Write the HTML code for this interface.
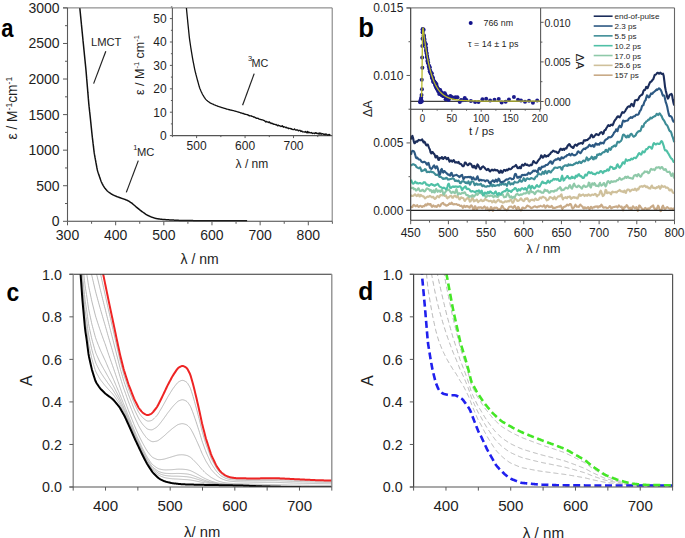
<!DOCTYPE html>
<html><head><meta charset="utf-8"><style>
html,body{margin:0;padding:0;background:#fff;}
svg{display:block;font-family:"Liberation Sans", sans-serif;}
</style></head><body>
<svg width="685" height="538" viewBox="0 0 685 538">
<rect width="685" height="538" fill="#fff"/>
<clipPath id="ca"><rect x="60" y="7.9" width="280" height="220"/></clipPath>
<path d="M79.26,1.63 L79.28,1.85 L79.3,2.11 L79.32,2.4 L79.35,2.72 L79.38,3.07 L79.41,3.44 L79.45,3.81 L79.48,4.2 L79.52,4.59 L79.55,4.99 L79.59,5.38 L79.62,5.78 L79.66,6.18 L79.69,6.58 L79.73,6.98 L79.77,7.37 L79.8,7.77 L79.84,8.17 L79.88,8.57 L79.92,8.97 L79.96,9.37 L79.99,9.76 L80.03,10.16 L80.07,10.56 L80.11,10.96 L80.15,11.36 L80.19,11.75 L80.23,12.15 L80.27,12.55 L80.31,12.95 L80.35,13.35 L80.39,13.74 L80.43,14.14 L80.46,14.54 L80.5,14.94 L80.54,15.34 L80.58,15.74 L80.62,16.13 L80.66,16.53 L80.7,16.93 L80.74,17.33 L80.78,17.73 L80.82,18.12 L80.86,18.52 L80.9,18.92 L80.94,19.32 L80.97,19.72 L81.01,20.11 L81.05,20.51 L81.09,20.91 L81.13,21.31 L81.17,21.71 L81.21,22.1 L81.25,22.5 L81.29,22.9 L81.33,23.3 L81.37,23.7 L81.41,24.09 L81.45,24.49 L81.48,24.89 L81.52,25.29 L81.56,25.69 L81.6,26.09 L81.64,26.48 L81.68,26.88 L81.72,27.28 L81.76,27.68 L81.8,28.08 L81.84,28.47 L81.88,28.87 L81.92,29.27 L81.96,29.67 L81.99,30.07 L82.03,30.46 L82.07,30.86 L82.11,31.26 L82.15,31.66 L82.19,32.06 L82.23,32.45 L82.27,32.85 L82.31,33.25 L82.35,33.65 L82.39,34.05 L82.43,34.44 L82.47,34.84 L82.5,35.24 L82.54,35.64 L82.58,36.04 L82.62,36.43 L82.66,36.83 L82.7,37.23 L82.74,37.63 L82.78,38.03 L82.82,38.43 L82.86,38.82 L82.9,39.22 L82.94,39.62 L82.98,40.02 L83.01,40.42 L83.05,40.81 L83.09,41.21 L83.13,41.61 L83.17,42.01 L83.21,42.41 L83.25,42.8 L83.29,43.2 L83.33,43.6 L83.37,44 L83.41,44.4 L83.45,44.79 L83.49,45.19 L83.53,45.59 L83.57,45.99 L83.61,46.39 L83.65,46.78 L83.69,47.18 L83.73,47.58 L83.77,47.98 L83.81,48.38 L83.85,48.77 L83.89,49.17 L83.93,49.57 L83.97,49.97 L84.01,50.37 L84.05,50.76 L84.09,51.16 L84.13,51.56 L84.17,51.96 L84.21,52.36 L84.25,52.75 L84.29,53.15 L84.33,53.55 L84.36,53.95 L84.4,54.35 L84.44,54.74 L84.48,55.14 L84.52,55.54 L84.56,55.94 L84.6,56.34 L84.64,56.73 L84.68,57.13 L84.72,57.53 L84.76,57.93 L84.8,58.33 L84.84,58.72 L84.88,59.12 L84.92,59.52 L84.96,59.92 L85,60.32 L85.04,60.71 L85.08,61.11 L85.12,61.51 L85.16,61.91 L85.2,62.31 L85.24,62.7 L85.28,63.1 L85.32,63.5 L85.36,63.9 L85.4,64.3 L85.44,64.69 L85.48,65.09 L85.52,65.49 L85.56,65.89 L85.6,66.29 L85.64,66.68 L85.68,67.08 L85.72,67.48 L85.76,67.88 L85.8,68.28 L85.84,68.68 L85.87,69.07 L85.91,69.47 L85.95,69.87 L85.99,70.27 L86.02,70.67 L86.06,71.06 L86.09,71.46 L86.13,71.86 L86.16,72.26 L86.2,72.66 L86.23,73.06 L86.26,73.46 L86.3,73.85 L86.33,74.25 L86.36,74.65 L86.4,75.05 L86.43,75.45 L86.46,75.85 L86.5,76.25 L86.53,76.64 L86.56,77.04 L86.6,77.44 L86.63,77.84 L86.66,78.24 L86.69,78.64 L86.73,79.04 L86.76,79.44 L86.79,79.83 L86.83,80.23 L86.86,80.63 L86.89,81.03 L86.93,81.43 L86.96,81.83 L86.99,82.23 L87.03,82.62 L87.06,83.02 L87.09,83.42 L87.13,83.82 L87.16,84.22 L87.19,84.62 L87.23,85.02 L87.26,85.41 L87.29,85.81 L87.33,86.21 L87.36,86.61 L87.39,87.01 L87.43,87.41 L87.46,87.81 L87.49,88.2 L87.53,88.6 L87.56,89 L87.59,89.4 L87.62,89.8 L87.66,90.2 L87.69,90.6 L87.72,91 L87.76,91.39 L87.79,91.79 L87.82,92.19 L87.86,92.59 L87.89,92.99 L87.92,93.39 L87.96,93.79 L87.99,94.18 L88.02,94.58 L88.06,94.98 L88.09,95.38 L88.12,95.78 L88.16,96.18 L88.19,96.58 L88.22,96.97 L88.26,97.37 L88.29,97.77 L88.32,98.17 L88.36,98.57 L88.39,98.97 L88.42,99.37 L88.46,99.76 L88.49,100.16 L88.52,100.56 L88.56,100.96 L88.59,101.36 L88.62,101.76 L88.66,102.16 L88.69,102.55 L88.73,102.95 L88.76,103.35 L88.8,103.75 L88.84,104.15 L88.88,104.55 L88.92,104.94 L88.96,105.34 L89,105.74 L89.05,106.14 L89.09,106.53 L89.13,106.93 L89.18,107.33 L89.22,107.73 L89.26,108.13 L89.31,108.52 L89.35,108.92 L89.39,109.32 L89.44,109.72 L89.48,110.11 L89.52,110.51 L89.57,110.91 L89.61,111.31 L89.65,111.7 L89.7,112.1 L89.74,112.5 L89.79,112.9 L89.83,113.29 L89.87,113.69 L89.92,114.09 L89.96,114.49 L90,114.88 L90.05,115.28 L90.09,115.68 L90.13,116.08 L90.18,116.48 L90.22,116.87 L90.26,117.27 L90.3,117.67 L90.34,118.07 L90.39,118.46 L90.43,118.86 L90.47,119.26 L90.51,119.66 L90.55,120.06 L90.59,120.45 L90.63,120.85 L90.67,121.25 L90.71,121.65 L90.75,122.05 L90.8,122.44 L90.84,122.84 L90.88,123.24 L90.92,123.64 L90.96,124.03 L91,124.43 L91.04,124.83 L91.08,125.23 L91.12,125.63 L91.16,126.02 L91.2,126.42 L91.24,126.82 L91.28,127.22 L91.32,127.62 L91.37,128.01 L91.41,128.41 L91.45,128.81 L91.49,129.21 L91.53,129.61 L91.57,130 L91.61,130.4 L91.65,130.8 L91.69,131.2 L91.73,131.6 L91.77,131.99 L91.81,132.39 L91.85,132.79 L91.9,133.19 L91.94,133.58 L91.98,133.98 L92.02,134.38 L92.06,134.78 L92.11,135.18 L92.15,135.57 L92.2,135.97 L92.24,136.37 L92.29,136.77 L92.33,137.16 L92.38,137.56 L92.43,137.96 L92.47,138.35 L92.52,138.75 L92.57,139.15 L92.62,139.55 L92.66,139.94 L92.71,140.34 L92.76,140.74 L92.8,141.14 L92.85,141.53 L92.9,141.93 L92.95,142.33 L92.99,142.72 L93.04,143.12 L93.09,143.52 L93.13,143.92 L93.18,144.31 L93.23,144.71 L93.28,145.11 L93.32,145.5 L93.37,145.9 L93.42,146.3 L93.46,146.7 L93.51,147.09 L93.56,147.49 L93.61,147.89 L93.65,148.28 L93.7,148.68 L93.75,149.08 L93.79,149.48 L93.84,149.87 L93.89,150.27 L93.94,150.67 L93.99,151.06 L94.04,151.46 L94.09,151.86 L94.15,152.25 L94.2,152.65 L94.26,153.04 L94.32,153.44 L94.39,153.83 L94.45,154.23 L94.52,154.62 L94.59,155.02 L94.66,155.41 L94.73,155.8 L94.8,156.2 L94.87,156.59 L94.94,156.99 L95.01,157.38 L95.09,157.77 L95.16,158.17 L95.23,158.56 L95.3,158.95 L95.37,159.35 L95.44,159.74 L95.52,160.13 L95.59,160.53 L95.66,160.92 L95.73,161.31 L95.8,161.71 L95.87,162.1 L95.94,162.5 L96.02,162.89 L96.09,163.28 L96.16,163.68 L96.23,164.07 L96.3,164.46 L96.37,164.86 L96.45,165.25 L96.52,165.64 L96.59,166.04 L96.66,166.43 L96.73,166.82 L96.8,167.22 L96.88,167.61 L96.95,168 L97.03,168.4 L97.11,168.79 L97.19,169.18 L97.27,169.57 L97.36,169.96 L97.46,170.34 L97.56,170.73 L97.67,171.11 L97.78,171.5 L97.9,171.88 L98.02,172.26 L98.14,172.64 L98.27,173.02 L98.39,173.4 L98.52,173.78 L98.65,174.16 L98.78,174.53 L98.91,174.91 L99.04,175.29 L99.17,175.67 L99.3,176.05 L99.43,176.43 L99.55,176.81 L99.68,177.18 L99.81,177.56 L99.94,177.94 L100.07,178.32 L100.2,178.7 L100.33,179.08 L100.46,179.45 L100.59,179.83 L100.73,180.21 L100.86,180.59 L101,180.96 L101.14,181.33 L101.29,181.7 L101.44,182.07 L101.6,182.44 L101.77,182.8 L101.94,183.16 L102.12,183.51 L102.3,183.87 L102.49,184.22 L102.68,184.57 L102.88,184.92 L103.07,185.27 L103.27,185.61 L103.47,185.96 L103.68,186.3 L103.89,186.64 L104.1,186.98 L104.32,187.31 L104.54,187.64 L104.78,187.96 L105.01,188.28 L105.26,188.59 L105.51,188.9 L105.76,189.21 L106.02,189.52 L106.28,189.82 L106.55,190.11 L106.82,190.41 L107.09,190.69 L107.37,190.98 L107.66,191.25 L107.95,191.52 L108.25,191.78 L108.56,192.03 L108.87,192.27 L109.19,192.51 L109.52,192.73 L109.85,192.96 L110.18,193.18 L110.51,193.4 L110.85,193.61 L111.19,193.82 L111.53,194.03 L111.87,194.24 L112.22,194.44 L112.56,194.63 L112.91,194.82 L113.27,195.01 L113.62,195.18 L113.99,195.35 L114.35,195.52 L114.71,195.68 L115.08,195.84 L115.45,195.99 L115.82,196.14 L116.19,196.29 L116.56,196.44 L116.93,196.59 L117.3,196.74 L117.68,196.88 L118.05,197.02 L118.42,197.16 L118.8,197.3 L119.18,197.44 L119.55,197.57 L119.93,197.7 L120.31,197.83 L120.69,197.96 L121.07,198.09 L121.45,198.22 L121.82,198.34 L122.2,198.47 L122.58,198.6 L122.96,198.73 L123.34,198.86 L123.71,199 L124.09,199.13 L124.47,199.26 L124.84,199.4 L125.22,199.54 L125.59,199.68 L125.96,199.83 L126.33,199.98 L126.7,200.13 L127.06,200.3 L127.42,200.47 L127.78,200.64 L128.13,200.83 L128.48,201.02 L128.82,201.22 L129.17,201.42 L129.51,201.63 L129.84,201.84 L130.18,202.06 L130.51,202.28 L130.84,202.51 L131.17,202.73 L131.49,202.97 L131.81,203.21 L132.13,203.45 L132.44,203.7 L132.75,203.95 L133.05,204.21 L133.36,204.47 L133.66,204.73 L133.96,204.99 L134.27,205.25 L134.57,205.51 L134.87,205.77 L135.18,206.03 L135.48,206.29 L135.79,206.55 L136.09,206.81 L136.4,207.06 L136.71,207.32 L137.02,207.57 L137.33,207.82 L137.64,208.08 L137.95,208.33 L138.26,208.58 L138.57,208.83 L138.89,209.08 L139.2,209.33 L139.51,209.58 L139.82,209.83 L140.14,210.07 L140.45,210.32 L140.77,210.57 L141.08,210.81 L141.4,211.06 L141.72,211.3 L142.04,211.54 L142.36,211.78 L142.68,212.02 L143,212.26 L143.32,212.5 L143.64,212.74 L143.96,212.97 L144.29,213.21 L144.61,213.44 L144.94,213.67 L145.27,213.89 L145.6,214.11 L145.94,214.32 L146.28,214.53 L146.62,214.73 L146.97,214.93 L147.32,215.11 L147.67,215.3 L148.03,215.48 L148.39,215.66 L148.75,215.84 L149.11,216.01 L149.47,216.18 L149.83,216.35 L150.19,216.51 L150.56,216.67 L150.93,216.83 L151.3,216.97 L151.67,217.12 L152.04,217.25 L152.42,217.39 L152.8,217.51 L153.18,217.64 L153.56,217.76 L153.94,217.88 L154.32,217.99 L154.71,218.11 L155.09,218.21 L155.48,218.32 L155.86,218.41 L156.25,218.5 L156.64,218.59 L157.03,218.66 L157.43,218.73 L157.82,218.8 L158.21,218.86 L158.61,218.92 L159,218.98 L159.4,219.03 L159.8,219.08 L160.19,219.13 L160.59,219.18 L160.99,219.23 L161.38,219.27 L161.78,219.31 L162.18,219.35 L162.58,219.38 L162.98,219.42 L163.38,219.45 L163.77,219.48 L164.17,219.51 L164.57,219.54 L164.97,219.57 L165.37,219.6 L165.77,219.63 L166.17,219.66 L166.57,219.68 L166.97,219.71 L167.37,219.74 L167.76,219.77 L168.16,219.8 L168.56,219.83 L168.96,219.85 L169.36,219.88 L169.76,219.9 L170.16,219.93 L170.56,219.95 L170.96,219.97 L171.36,219.99 L171.76,220.01 L172.16,220.03 L172.56,220.05 L172.95,220.08 L173.35,220.1 L173.75,220.12 L174.15,220.14 L174.55,220.16 L174.95,220.18 L175.35,220.2 L175.75,220.22 L176.15,220.24 L176.55,220.26 L176.95,220.28 L177.35,220.3 L177.75,220.32 L178.15,220.34 L178.55,220.36 L178.95,220.38 L179.35,220.4 L179.75,220.42 L180.15,220.43 L180.55,220.45 L180.95,220.46 L181.34,220.48 L181.74,220.49 L182.14,220.5 L182.54,220.51 L182.94,220.51 L183.34,220.52 L183.74,220.52 L184.14,220.53 L184.54,220.53 L184.94,220.54 L185.34,220.54 L185.74,220.55 L186.14,220.55 L186.54,220.56 L186.94,220.56 L187.34,220.56 L187.74,220.57 L188.14,220.57 L188.54,220.58 L188.94,220.58 L189.34,220.59 L189.74,220.59 L190.14,220.59 L190.54,220.6 L190.94,220.6 L191.34,220.61 L191.74,220.61 L192.14,220.62 L192.54,220.62 L192.94,220.62 L193.34,220.63 L193.74,220.63 L194.14,220.64 L194.54,220.64 L194.94,220.65 L195.34,220.65 L195.74,220.65 L196.14,220.66 L196.54,220.66 L196.94,220.67 L197.34,220.67 L197.74,220.68 L198.14,220.68 L198.54,220.68 L198.94,220.69 L199.34,220.69 L199.74,220.69 L200.14,220.7 L200.54,220.7 L200.94,220.7 L201.34,220.7 L201.74,220.7 L202.14,220.7 L202.54,220.7 L202.94,220.71 L203.34,220.71 L203.74,220.71 L204.14,220.71 L204.54,220.71 L204.94,220.71 L205.34,220.71 L205.74,220.71 L206.14,220.71 L206.54,220.71 L206.94,220.71 L207.34,220.72 L207.74,220.72 L208.14,220.72 L208.54,220.72 L208.94,220.72 L209.34,220.72 L209.74,220.72 L210.14,220.72 L210.54,220.72 L210.94,220.72 L211.34,220.72 L211.74,220.72 L212.14,220.73 L212.54,220.73 L212.94,220.73 L213.34,220.73 L213.74,220.73 L214.14,220.73 L214.54,220.73 L214.94,220.73 L215.34,220.73 L215.74,220.73 L216.14,220.73 L216.54,220.73 L216.94,220.74 L217.34,220.74 L217.74,220.74 L218.14,220.74 L218.54,220.74 L218.94,220.74 L219.34,220.74 L219.74,220.74 L220.14,220.74 L220.54,220.74 L220.94,220.74 L221.34,220.74 L221.74,220.75 L222.14,220.75 L222.54,220.75 L222.94,220.75 L223.34,220.75 L223.74,220.75 L224.14,220.75 L224.54,220.75 L224.94,220.75 L225.34,220.75 L225.74,220.75 L226.14,220.75 L226.54,220.76 L226.94,220.76 L227.34,220.76 L227.74,220.76 L228.14,220.76 L228.54,220.76 L228.94,220.76 L229.34,220.76 L229.74,220.76 L230.14,220.76 L230.54,220.76 L230.94,220.76 L231.34,220.77 L231.74,220.77 L232.14,220.77 L232.54,220.77 L232.94,220.77 L233.34,220.77 L233.74,220.77 L234.14,220.77 L234.54,220.77 L234.94,220.77 L235.34,220.77 L235.74,220.77 L236.14,220.78 L236.54,220.78 L236.94,220.78 L237.34,220.78 L237.74,220.78 L238.14,220.78 L238.54,220.78 L238.94,220.78 L239.34,220.78 L239.74,220.78 L240.14,220.78 L240.54,220.78 L240.94,220.79 L241.34,220.79 L241.74,220.79 L242.14,220.79 L242.54,220.79 L242.94,220.79 L243.34,220.79 L243.74,220.79 L244.14,220.79 L244.53,220.79 L244.92,220.79 L245.3,220.79 L245.66,220.8 L246.01,220.8 L246.34,220.8 L246.63,220.8 L246.89,220.8 L247.11,220.8" fill="none" stroke="#111" stroke-width="1.5" stroke-linejoin="round" stroke-linecap="butt" clip-path="url(#ca)"/>
<rect x="172.4" y="7.9" width="159.8" height="127.7" fill="#fff"/>
<line x1="63" y1="7.9" x2="332.2" y2="7.9" stroke="#777" stroke-width="1" />
<line x1="67.5" y1="7.9" x2="67.5" y2="221.3" stroke="#5a5a5a" stroke-width="1.1" />
<line x1="332.2" y1="7.9" x2="332.2" y2="221.3" stroke="#777" stroke-width="1" />
<line x1="67.5" y1="221.3" x2="332.2" y2="221.3" stroke="#444" stroke-width="1.1" />
<line x1="63" y1="221.3" x2="67.5" y2="221.3" stroke="#5a5a5a" stroke-width="1" />
<text x="59.6" y="226.3" font-size="14" text-anchor="end" font-weight="normal" fill="#1e1e1e" >0</text>
<line x1="65" y1="203.52" x2="67.5" y2="203.52" stroke="#5a5a5a" stroke-width="1" />
<line x1="63" y1="185.73" x2="67.5" y2="185.73" stroke="#5a5a5a" stroke-width="1" />
<text x="59.6" y="190.73" font-size="14" text-anchor="end" font-weight="normal" fill="#1e1e1e" >500</text>
<line x1="65" y1="167.95" x2="67.5" y2="167.95" stroke="#5a5a5a" stroke-width="1" />
<line x1="63" y1="150.17" x2="67.5" y2="150.17" stroke="#5a5a5a" stroke-width="1" />
<text x="59.6" y="155.17" font-size="14" text-anchor="end" font-weight="normal" fill="#1e1e1e" >1000</text>
<line x1="65" y1="132.38" x2="67.5" y2="132.38" stroke="#5a5a5a" stroke-width="1" />
<line x1="63" y1="114.6" x2="67.5" y2="114.6" stroke="#5a5a5a" stroke-width="1" />
<text x="59.6" y="119.6" font-size="14" text-anchor="end" font-weight="normal" fill="#1e1e1e" >1500</text>
<line x1="65" y1="96.82" x2="67.5" y2="96.82" stroke="#5a5a5a" stroke-width="1" />
<line x1="63" y1="79.03" x2="67.5" y2="79.03" stroke="#5a5a5a" stroke-width="1" />
<text x="59.6" y="84.03" font-size="14" text-anchor="end" font-weight="normal" fill="#1e1e1e" >2000</text>
<line x1="65" y1="61.25" x2="67.5" y2="61.25" stroke="#5a5a5a" stroke-width="1" />
<line x1="63" y1="43.47" x2="67.5" y2="43.47" stroke="#5a5a5a" stroke-width="1" />
<text x="59.6" y="48.47" font-size="14" text-anchor="end" font-weight="normal" fill="#1e1e1e" >2500</text>
<line x1="65" y1="25.68" x2="67.5" y2="25.68" stroke="#5a5a5a" stroke-width="1" />
<line x1="63" y1="7.9" x2="67.5" y2="7.9" stroke="#5a5a5a" stroke-width="1" />
<text x="59.6" y="12.9" font-size="14" text-anchor="end" font-weight="normal" fill="#1e1e1e" >3000</text>
<line x1="67.5" y1="221.3" x2="67.5" y2="225.3" stroke="#5a5a5a" stroke-width="1" />
<text x="67.5" y="239.5" font-size="14" text-anchor="middle" font-weight="normal" fill="#1e1e1e" >300</text>
<line x1="91.58" y1="221.3" x2="91.58" y2="223.8" stroke="#5a5a5a" stroke-width="1" />
<line x1="115.66" y1="221.3" x2="115.66" y2="225.3" stroke="#5a5a5a" stroke-width="1" />
<text x="115.66" y="239.5" font-size="14" text-anchor="middle" font-weight="normal" fill="#1e1e1e" >400</text>
<line x1="139.74" y1="221.3" x2="139.74" y2="223.8" stroke="#5a5a5a" stroke-width="1" />
<line x1="163.82" y1="221.3" x2="163.82" y2="225.3" stroke="#5a5a5a" stroke-width="1" />
<text x="163.82" y="239.5" font-size="14" text-anchor="middle" font-weight="normal" fill="#1e1e1e" >500</text>
<line x1="187.9" y1="221.3" x2="187.9" y2="223.8" stroke="#5a5a5a" stroke-width="1" />
<line x1="211.98" y1="221.3" x2="211.98" y2="225.3" stroke="#5a5a5a" stroke-width="1" />
<text x="211.98" y="239.5" font-size="14" text-anchor="middle" font-weight="normal" fill="#1e1e1e" >600</text>
<line x1="236.06" y1="221.3" x2="236.06" y2="223.8" stroke="#5a5a5a" stroke-width="1" />
<line x1="260.14" y1="221.3" x2="260.14" y2="225.3" stroke="#5a5a5a" stroke-width="1" />
<text x="260.14" y="239.5" font-size="14" text-anchor="middle" font-weight="normal" fill="#1e1e1e" >700</text>
<line x1="284.22" y1="221.3" x2="284.22" y2="223.8" stroke="#5a5a5a" stroke-width="1" />
<line x1="308.3" y1="221.3" x2="308.3" y2="225.3" stroke="#5a5a5a" stroke-width="1" />
<text x="308.3" y="239.5" font-size="14" text-anchor="middle" font-weight="normal" fill="#1e1e1e" >800</text>
<line x1="332.38" y1="221.3" x2="332.38" y2="223.8" stroke="#5a5a5a" stroke-width="1" />
<line x1="172.4" y1="7.9" x2="172.4" y2="135.6" stroke="#5a5a5a" stroke-width="1.1" />
<line x1="172.4" y1="135.6" x2="332.2" y2="135.6" stroke="#555" stroke-width="1.1" />
<line x1="169.9" y1="135.6" x2="172.4" y2="135.6" stroke="#5a5a5a" stroke-width="1" />
<text x="166.6" y="139.9" font-size="12" text-anchor="end" font-weight="normal" fill="#1e1e1e" >0</text>
<line x1="170.9" y1="123.9" x2="172.4" y2="123.9" stroke="#5a5a5a" stroke-width="1" />
<line x1="169.9" y1="112.2" x2="172.4" y2="112.2" stroke="#5a5a5a" stroke-width="1" />
<text x="166.6" y="116.5" font-size="12" text-anchor="end" font-weight="normal" fill="#1e1e1e" >10</text>
<line x1="170.9" y1="100.5" x2="172.4" y2="100.5" stroke="#5a5a5a" stroke-width="1" />
<line x1="169.9" y1="88.8" x2="172.4" y2="88.8" stroke="#5a5a5a" stroke-width="1" />
<text x="166.6" y="93.1" font-size="12" text-anchor="end" font-weight="normal" fill="#1e1e1e" >20</text>
<line x1="170.9" y1="77.1" x2="172.4" y2="77.1" stroke="#5a5a5a" stroke-width="1" />
<line x1="169.9" y1="65.4" x2="172.4" y2="65.4" stroke="#5a5a5a" stroke-width="1" />
<text x="166.6" y="69.7" font-size="12" text-anchor="end" font-weight="normal" fill="#1e1e1e" >30</text>
<line x1="170.9" y1="53.7" x2="172.4" y2="53.7" stroke="#5a5a5a" stroke-width="1" />
<line x1="169.9" y1="42" x2="172.4" y2="42" stroke="#5a5a5a" stroke-width="1" />
<text x="166.6" y="46.3" font-size="12" text-anchor="end" font-weight="normal" fill="#1e1e1e" >40</text>
<line x1="170.9" y1="30.3" x2="172.4" y2="30.3" stroke="#5a5a5a" stroke-width="1" />
<line x1="169.9" y1="18.6" x2="172.4" y2="18.6" stroke="#5a5a5a" stroke-width="1" />
<text x="166.6" y="22.9" font-size="12" text-anchor="end" font-weight="normal" fill="#1e1e1e" >50</text>
<line x1="170.9" y1="6.9" x2="172.4" y2="6.9" stroke="#5a5a5a" stroke-width="1" />
<line x1="172.4" y1="135.6" x2="172.4" y2="137.1" stroke="#5a5a5a" stroke-width="1" />
<line x1="196.62" y1="135.6" x2="196.62" y2="138.1" stroke="#5a5a5a" stroke-width="1" />
<text x="196.62" y="149.5" font-size="12" text-anchor="middle" font-weight="normal" fill="#1e1e1e" >500</text>
<line x1="220.85" y1="135.6" x2="220.85" y2="137.1" stroke="#5a5a5a" stroke-width="1" />
<line x1="245.07" y1="135.6" x2="245.07" y2="138.1" stroke="#5a5a5a" stroke-width="1" />
<text x="245.07" y="149.5" font-size="12" text-anchor="middle" font-weight="normal" fill="#1e1e1e" >600</text>
<line x1="269.3" y1="135.6" x2="269.3" y2="137.1" stroke="#5a5a5a" stroke-width="1" />
<line x1="293.52" y1="135.6" x2="293.52" y2="138.1" stroke="#5a5a5a" stroke-width="1" />
<text x="293.52" y="149.5" font-size="12" text-anchor="middle" font-weight="normal" fill="#1e1e1e" >700</text>
<line x1="317.75" y1="135.6" x2="317.75" y2="137.1" stroke="#5a5a5a" stroke-width="1" />
<path d="M185.96,2.71 L185.98,2.99 L186.01,3.32 L186.04,3.69 L186.08,4.11 L186.12,4.56 L186.16,5.02 L186.2,5.5 L186.24,5.99 L186.28,6.49 L186.33,6.98 L186.37,7.48 L186.42,7.98 L186.46,8.48 L186.51,8.97 L186.56,9.47 L186.6,9.97 L186.65,10.47 L186.7,10.96 L186.75,11.46 L186.79,11.96 L186.84,12.46 L186.89,12.96 L186.94,13.45 L186.99,13.95 L187.04,14.45 L187.08,14.95 L187.13,15.44 L187.18,15.94 L187.23,16.44 L187.28,16.94 L187.33,17.43 L187.38,17.93 L187.42,18.43 L187.47,18.93 L187.52,19.42 L187.57,19.92 L187.62,20.42 L187.67,20.92 L187.72,21.41 L187.76,21.91 L187.81,22.41 L187.86,22.91 L187.91,23.41 L187.96,23.9 L188.01,24.4 L188.06,24.9 L188.12,25.39 L188.17,25.89 L188.22,26.39 L188.27,26.89 L188.32,27.38 L188.37,27.88 L188.42,28.38 L188.47,28.88 L188.52,29.37 L188.57,29.87 L188.62,30.37 L188.67,30.87 L188.72,31.36 L188.77,31.86 L188.83,32.36 L188.88,32.86 L188.93,33.35 L188.98,33.85 L189.03,34.35 L189.08,34.85 L189.13,35.34 L189.18,35.84 L189.24,36.34 L189.29,36.83 L189.35,37.33 L189.41,37.83 L189.47,38.32 L189.54,38.82 L189.6,39.31 L189.67,39.81 L189.74,40.3 L189.81,40.8 L189.88,41.29 L189.95,41.79 L190.02,42.28 L190.1,42.78 L190.17,43.27 L190.24,43.77 L190.31,44.26 L190.38,44.76 L190.46,45.25 L190.53,45.75 L190.6,46.24 L190.67,46.74 L190.75,47.23 L190.82,47.73 L190.9,48.22 L190.97,48.71 L191.05,49.21 L191.13,49.7 L191.21,50.2 L191.29,50.69 L191.37,51.18 L191.45,51.68 L191.53,52.17 L191.62,52.66 L191.7,53.16 L191.78,53.65 L191.87,54.14 L191.95,54.63 L192.03,55.13 L192.12,55.62 L192.2,56.11 L192.28,56.61 L192.37,57.1 L192.45,57.59 L192.54,58.08 L192.63,58.58 L192.72,59.07 L192.81,59.56 L192.9,60.05 L192.99,60.54 L193.09,61.03 L193.18,61.53 L193.27,62.02 L193.37,62.51 L193.46,63 L193.55,63.49 L193.65,63.98 L193.74,64.47 L193.83,64.96 L193.93,65.45 L194.02,65.95 L194.12,66.44 L194.21,66.93 L194.31,67.42 L194.41,67.91 L194.51,68.4 L194.61,68.89 L194.72,69.38 L194.83,69.86 L194.94,70.35 L195.05,70.84 L195.17,71.32 L195.29,71.81 L195.41,72.29 L195.53,72.78 L195.65,73.26 L195.78,73.75 L195.9,74.23 L196.02,74.72 L196.15,75.2 L196.27,75.68 L196.4,76.17 L196.52,76.65 L196.65,77.14 L196.78,77.62 L196.91,78.1 L197.04,78.59 L197.17,79.07 L197.3,79.55 L197.43,80.03 L197.56,80.51 L197.7,81 L197.83,81.48 L197.96,81.96 L198.09,82.44 L198.23,82.93 L198.36,83.41 L198.49,83.89 L198.62,84.37 L198.76,84.85 L198.89,85.33 L199.03,85.82 L199.17,86.29 L199.31,86.77 L199.46,87.25 L199.62,87.72 L199.79,88.19 L199.96,88.66 L200.14,89.12 L200.33,89.58 L200.53,90.04 L200.73,90.5 L200.94,90.95 L201.14,91.41 L201.35,91.86 L201.56,92.31 L201.78,92.77 L201.99,93.22 L202.22,93.66 L202.44,94.11 L202.67,94.55 L202.91,94.99 L203.16,95.42 L203.41,95.85 L203.67,96.28 L203.94,96.7 L204.21,97.12 L204.48,97.53 L204.77,97.94 L205.06,98.34 L205.36,98.74 L205.67,99.12 L206,99.49 L206.34,99.85 L206.69,100.2 L207.05,100.53 L207.43,100.86 L207.81,101.18 L208.2,101.48 L208.6,101.78 L209,102.07 L209.42,102.34 L209.84,102.61 L210.26,102.86 L210.7,103.1 L211.14,103.34 L211.58,103.56 L212.03,103.78 L212.48,103.99 L212.93,104.2 L213.39,104.41 L213.85,104.61 L214.3,104.81 L214.77,105 L215.23,105.19 L215.69,105.38 L216.16,105.55 L216.62,105.75 L217.09,105.92 L217.55,106.09 L218.02,106.28 L218.49,106.44 L218.96,106.58 L219.44,106.77 L219.91,106.93 L220.38,107.09 L220.86,107.21 L221.34,107.42 L221.81,107.57 L222.29,107.66 L222.77,107.82 L223.25,107.99 L223.72,108.11 L224.2,108.35 L224.68,108.43 L225.16,108.51 L225.64,108.66 L226.13,108.83 L226.61,109.09 L227.09,109.1 L227.57,109.25 L228.05,109.4 L228.53,109.5 L229.02,109.78 L229.5,109.72 L229.99,109.93 L230.47,110.01 L230.96,110.16 L231.44,110.14 L231.93,110.47 L232.42,110.44 L232.91,110.56 L233.39,110.59 L233.88,110.72 L234.37,110.95 L234.85,111.11 L235.33,111.21 L235.82,111.39 L236.3,111.47 L236.78,111.54 L237.26,111.77 L237.74,111.89 L238.21,111.97 L238.69,112.2 L239.17,112.42 L239.65,112.45 L240.12,112.54 L240.6,112.81 L241.08,113.1 L241.55,113 L242.03,113.17 L242.51,113.31 L242.98,113.63 L243.46,113.39 L243.94,113.82 L244.41,114.08 L244.89,113.97 L245.37,114.43 L245.85,114.45 L246.32,114.45 L246.8,114.71 L247.27,114.61 L247.75,114.9 L248.23,115.42 L248.7,115.16 L249.18,115.74 L249.65,115.6 L250.12,115.93 L250.6,115.94 L251.07,115.73 L251.54,116.17 L252.01,116.46 L252.48,116.4 L252.95,116.54 L253.42,117 L253.89,116.99 L254.37,116.97 L254.84,117.32 L255.31,117.76 L255.78,117.69 L256.25,118.11 L256.72,118.39 L257.19,118.28 L257.67,118.22 L258.14,118.35 L258.61,118.76 L259.08,119.11 L259.55,119.15 L260.03,119.37 L260.5,119.34 L260.97,119.66 L261.44,119.66 L261.91,119.86 L262.38,119.82 L262.85,119.92 L263.32,120.33 L263.79,120.36 L264.26,120.56 L264.74,121.09 L265.21,121.09 L265.68,121.95 L266.15,121.66 L266.62,121.46 L267.09,121.96 L267.56,122.02 L268.04,121.94 L268.51,122.53 L268.98,122.23 L269.46,121.83 L269.93,122.94 L270.41,122.75 L270.88,123.44 L271.35,123.05 L271.83,123.07 L272.3,123.93 L272.78,123.4 L273.26,123.89 L273.73,124.38 L274.21,124.17 L274.69,124.27 L275.16,124.46 L275.64,124.81 L276.12,124.5 L276.6,125.04 L277.08,125.18 L277.56,125.82 L278.04,125.21 L278.51,125.18 L278.99,125.8 L279.47,125.61 L279.95,125.95 L280.44,126.04 L280.92,126.49 L281.4,126.07 L281.88,126.38 L282.36,125.75 L282.85,126.39 L283.33,127.27 L283.81,126.71 L284.29,126.83 L284.78,126.8 L285.26,127.5 L285.74,127.49 L286.23,127.18 L286.71,127.9 L287.2,127.89 L287.68,128.17 L288.17,127.83 L288.66,128.74 L289.14,128.41 L289.63,128.35 L290.12,128.33 L290.6,128.54 L291.09,129.04 L291.57,128.76 L292.06,129.34 L292.55,129.29 L293.04,129.67 L293.52,129.6 L294.01,129.4 L294.5,128.84 L294.98,129.75 L295.47,130.04 L295.96,129.93 L296.45,130.18 L296.93,129.91 L297.42,130.05 L297.91,129.95 L298.4,130.93 L298.89,130.58 L299.37,130.44 L299.86,130.22 L300.35,130.77 L300.84,131.5 L301.33,131.21 L301.82,130.84 L302.32,131.78 L302.81,131.88 L303.3,131.79 L303.79,131.8 L304.28,132.04 L304.78,131.88 L305.27,132.06 L305.76,131.51 L306.25,132.54 L306.75,132.1 L307.24,132.93 L307.73,131.31 L308.23,132.55 L308.72,132.75 L309.21,132.26 L309.71,132.68 L310.2,132.88 L310.7,132.88 L311.19,132.47 L311.69,132.71 L312.18,133.3 L312.68,133.48 L313.17,133.03 L313.67,133.09 L314.16,133.22 L314.66,133.66 L315.15,132.78 L315.65,132.71 L316.14,133.44 L316.64,132.93 L317.14,133.22 L317.63,133.59 L318.13,133.83 L318.63,133.16 L319.12,134.1 L319.62,132.93 L320.12,134.09 L320.62,133.12 L321.11,133.32 L321.61,134.29 L322.11,133.83 L322.61,133.69 L323.1,133.91 L323.6,134.4 L324.1,134.19 L324.6,134.24 L325.1,134.82 L325.59,133.98 L326.09,134.14 L326.59,134.15 L327.08,135.04 L327.57,134.99 L328.05,135.17 L328.52,134.55 L328.97,134.52 L329.38,135.06 L329.76,134.47 L330.09,135.1 L330.37,135.07" fill="none" stroke="#111" stroke-width="1.3" stroke-linejoin="round" stroke-linecap="butt" clip-path="url(#ca)"/>
<line x1="105.8" y1="51.3" x2="93.6" y2="83.6" stroke="#222" stroke-width="1.2" />
<text x="91" y="46.3" font-size="11.2" text-anchor="start" font-weight="normal" fill="#1e1e1e" >LMCT</text>
<line x1="138.3" y1="160.6" x2="126.3" y2="192.4" stroke="#222" stroke-width="1.2" />
<text x="133.2" y="150" font-size="7.5" text-anchor="start" font-weight="normal" fill="#1e1e1e" >1</text>
<text x="137" y="155.8" font-size="11.2" text-anchor="start" font-weight="normal" fill="#1e1e1e" >MC</text>
<line x1="254.2" y1="73.6" x2="242.6" y2="105.2" stroke="#222" stroke-width="1.2" />
<text x="248.1" y="61" font-size="7.5" text-anchor="start" font-weight="normal" fill="#1e1e1e" >3</text>
<text x="251.4" y="67.2" font-size="10.8" text-anchor="start" font-weight="normal" fill="#1e1e1e" >MC</text>
<text x="199.6" y="263.8" font-size="14" text-anchor="middle" font-weight="normal" fill="#1e1e1e" >&#955; / nm</text>
<text x="251.9" y="168" font-size="12" text-anchor="middle" font-weight="normal" fill="#1e1e1e" >&#955; / nm</text>
<text transform="translate(17.2,108.2) rotate(-90)" font-size="13.8" text-anchor="middle" fill="#1e1e1e">&#949; / M<tspan font-size="8.5" dy="-5.5">-1</tspan><tspan dy="5.5">cm</tspan><tspan font-size="8.5" dy="-5.5">-1</tspan></text>
<text transform="translate(144.0,65) rotate(-90)" font-size="12.5" text-anchor="middle" fill="#1e1e1e">&#949; / M<tspan font-size="7.5" dy="-5">-1</tspan><tspan dy="5"> cm</tspan><tspan font-size="7.5" dy="-5">-1</tspan></text>
<text transform="translate(1.3,36.9) scale(0.83,1)" font-size="26.5" font-weight="bold" fill="#000">a</text>
<path d="M411,205.98 L411.7,207.27 L412.4,207.02 L413.1,205.47 L413.8,204.8 L414.5,205.27 L415.2,205.96 L415.9,206.31 L416.6,205.59 L417.3,205.17 L418,206.43 L418.7,206.88 L419.4,206.47 L420.1,205.97 L420.8,205.78 L421.5,206.66 L422.2,206.93 L422.9,206.17 L423.6,206.14 L424.3,206.23 L425,204.85 L425.7,204.42 L426.4,205.43 L427.1,204.73 L427.8,203.57 L428.5,204.19 L429.2,204.7 L429.9,204.04 L430.6,204.13 L431.3,205.84 L432,206.82 L432.7,205.88 L433.4,205.36 L434.1,206.31 L434.8,206.62 L435.5,206.16 L436.2,206.66 L436.9,206.87 L437.6,205.57 L438.3,204.88 L439,205.57 L439.7,206.36 L440.4,205.92 L441.1,204.28 L441.8,203.55 L442.5,203.12 L443.2,202.91 L443.9,204.27 L444.6,204.76 L445.3,204.57 L446,205.56 L446.7,205.79 L447.4,205.11 L448.1,204.98 L448.8,204.27 L449.5,203.28 L450.2,204.06 L450.9,203.88 L451.6,202.67 L452.3,203.32 L453,204.31 L453.7,204.5 L454.4,204.11 L455.1,204.18 L455.8,204.23 L456.5,204.03 L457.2,204.6 L457.9,205.01 L458.6,204.85 L459.3,205.05 L460,205.99 L460.7,206.07 L461.4,205.63 L462.1,206.49 L462.8,207.89 L463.5,207.27 L464.2,205.67 L464.9,206.37 L465.6,207.04 L466.3,206.04 L467,206.13 L467.7,206.79 L468.4,206.46 L469.1,207.45 L469.8,207.73 L470.5,206 L471.2,205.44 L471.9,205.9 L472.6,207.56 L473.3,209.8 L474,209.14 L474.7,206.39 L475.4,206.39 L476.1,208.64 L476.8,209.58 L477.5,208.38 L478.2,207.26 L478.9,207.59 L479.6,207.74 L480.3,207.21 L481,207.18 L481.7,208 L482.4,208.3 L483.1,207.85 L483.8,207.07 L484.5,206.41 L485.2,207.49 L485.9,208.85 L486.6,207.76 L487.3,207.25 L488,208.94 L488.7,210.26 L489.4,210.43 L490.1,209.01 L490.8,207.1 L491.5,207.25 L492.2,210.03 L492.9,210.94 L493.6,208.41 L494.3,207.58 L495,208.19 L495.7,207.7 L496.4,207.54 L497.1,208 L497.8,208.92 L498.5,209.53 L499.2,209.37 L499.9,209.08 L500.6,208.59 L501.3,207.49 L502,205.82 L502.7,206.36 L503.4,208.14 L504.1,208.43 L504.8,208.84 L505.5,209.71 L506.2,210.16 L506.9,210.11 L507.6,209.49 L508.3,208.21 L509,207.06 L509.7,206.83 L510.4,206.7 L511.1,206.44 L511.8,206.86 L512.5,207.69 L513.2,207.9 L513.9,206.71 L514.6,205.75 L515.3,206.85 L516,208.38 L516.7,209.05 L517.4,208.35 L518.1,206.86 L518.8,207.46 L519.5,209.38 L520.2,209.95 L520.9,210.48 L521.6,209.83 L522.3,207.7 L523,207.44 L523.7,208.1 L524.4,208.18 L525.1,208.02 L525.8,207.65 L526.5,206.64 L527.2,205.64 L527.9,205.82 L528.6,206.3 L529.3,206.55 L530,206.91 L530.7,207.75 L531.4,208.2 L532.1,207.81 L532.8,207.46 L533.5,206.98 L534.2,206.49 L534.9,206.34 L535.6,206.57 L536.3,207.07 L537,207.4 L537.7,206.85 L538.4,206.35 L539.1,206.76 L539.8,206.25 L540.5,205.75 L541.2,206.09 L541.9,206.4 L542.6,206.62 L543.3,205.97 L544,205.19 L544.7,206.19 L545.4,207.74 L546.1,206.98 L546.8,205.78 L547.5,205.57 L548.2,206.23 L548.9,207.09 L549.6,206.47 L550.3,206.83 L551,206.89 L551.7,205.85 L552.4,206.89 L553.1,208.13 L553.8,207.85 L554.5,207.73 L555.2,207.9 L555.9,207.55 L556.6,207.12 L557.3,207.11 L558,206.86 L558.7,206.54 L559.4,206.81 L560.1,206.11 L560.8,205.62 L561.5,207.35 L562.2,208.94 L562.9,208.17 L563.6,206.98 L564.3,206.87 L565,206.5 L565.7,206.36 L566.4,205.56 L567.1,204.56 L567.8,205.21 L568.5,205.39 L569.2,204.74 L569.9,204.13 L570.6,203.99 L571.3,205.34 L572,207.68 L572.7,208.51 L573.4,207.83 L574.1,207.43 L574.8,205.88 L575.5,204.65 L576.2,205.96 L576.9,206.8 L577.6,206.45 L578.3,206.86 L579,206.78 L579.7,205.25 L580.4,204.58 L581.1,205.49 L581.8,206.03 L582.5,206.54 L583.2,208.11 L583.9,208.43 L584.6,207.29 L585.3,207.45 L586,208.12 L586.7,208.19 L587.4,207.73 L588.1,207.07 L588.8,208.08 L589.5,209.28 L590.2,208.07 L590.9,206.73 L591.6,207.55 L592.3,208.35 L593,207.39 L593.7,207.1 L594.4,207.35 L595.1,206.54 L595.8,206.65 L596.5,206.45 L597.2,206.25 L597.9,207.59 L598.6,207.21 L599.3,206.21 L600,206.7 L600.7,205.88 L601.4,204.58 L602.1,205.51 L602.8,207.18 L603.5,207.78 L604.2,207.47 L604.9,207.34 L605.6,207.38 L606.3,207.61 L607,208.13 L607.7,207.89 L608.4,207.67 L609.1,207.23 L609.8,206.01 L610.5,206.65 L611.2,208.39 L611.9,208.04 L612.6,207.2 L613.3,207.12 L614,207.01 L614.7,206.9 L615.4,206.82 L616.1,206.4 L616.8,206.48 L617.5,207.5 L618.2,206.64 L618.9,205.41 L619.6,206.13 L620.3,206.9 L621,206.72 L621.7,206.48 L622.4,208.88 L623.1,210.36 L623.8,208.02 L624.5,206.93 L625.2,207.33 L625.9,206.56 L626.6,205.22 L627.3,205.68 L628,207.3 L628.7,208.4 L629.4,208.65 L630.1,207.65 L630.8,208.69 L631.5,209.97 L632.2,207.73 L632.9,206.27 L633.6,207.04 L634.3,207.88 L635,208.39 L635.7,207.73 L636.4,207.02 L637.1,208.68 L637.8,210.81 L638.5,208.75 L639.2,205.52 L639.9,205.76 L640.6,207.04 L641.3,207.75 L642,208.72 L642.7,209.88 L643.4,209.92 L644.1,209.09 L644.8,208.3 L645.5,207.94 L646.2,208.66 L646.9,209.4 L647.6,208.73 L648.3,208.31 L649,208.93 L649.7,208.56 L650.4,207.46 L651.1,206.77 L651.8,206.62 L652.5,205.65 L653.2,205.39 L653.9,207.78 L654.6,208.81 L655.3,208.46 L656,209.01 L656.7,209.01 L657.4,207.32 L658.1,205.66 L658.8,206.81 L659.5,209.13 L660.2,210.64 L660.9,211.18 L661.6,209.68 L662.3,206.54 L663,205.66 L663.7,207.55 L664.4,208.8 L665.1,208.93 L665.8,208.51 L666.5,207.52 L667.2,206.99 L667.9,207.61 L668.6,208.07 L669.3,208.47 L670,208.68 L670.7,208.41 L671.4,208.4 L672.1,208.67 L672.8,209.13 L673.5,208.77 L674.2,207.92" fill="none" stroke="#c8aa87" stroke-width="2.1" stroke-linejoin="round" stroke-linecap="butt" />
<path d="M411,194.67 L411.7,195.88 L412.4,195.91 L413.1,195.93 L413.8,195.57 L414.5,194.43 L415.2,194.35 L415.9,195.28 L416.6,196.12 L417.3,195.75 L418,194.57 L418.7,194.66 L419.4,196.36 L420.1,196.43 L420.8,194.9 L421.5,195.3 L422.2,196.24 L422.9,196.34 L423.6,196.4 L424.3,197.41 L425,198.43 L425.7,197.94 L426.4,197.45 L427.1,196.94 L427.8,196.48 L428.5,196.84 L429.2,196.47 L429.9,195.91 L430.6,196.27 L431.3,196.91 L432,197.36 L432.7,196.82 L433.4,196.9 L434.1,198.31 L434.8,198.91 L435.5,198.61 L436.2,197.75 L436.9,196.58 L437.6,195.99 L438.3,196.53 L439,197.35 L439.7,196.36 L440.4,195.13 L441.1,195.09 L441.8,195.22 L442.5,195.42 L443.2,194.86 L443.9,194.82 L444.6,196.04 L445.3,195.78 L446,195.36 L446.7,197.6 L447.4,198.39 L448.1,197.21 L448.8,197.46 L449.5,196.79 L450.2,195.98 L450.9,195.82 L451.6,196.12 L452.3,197.79 L453,197.8 L453.7,196.51 L454.4,195.84 L455.1,195.51 L455.8,196.7 L456.5,197.28 L457.2,196.04 L457.9,196.33 L458.6,197.99 L459.3,199.35 L460,199.31 L460.7,197.71 L461.4,197.27 L462.1,198.01 L462.8,197.96 L463.5,198.43 L464.2,200.2 L464.9,200.91 L465.6,199.77 L466.3,199.15 L467,198.62 L467.7,197.66 L468.4,197.88 L469.1,199.51 L469.8,201.59 L470.5,201.44 L471.2,200.01 L471.9,198.38 L472.6,197.62 L473.3,200.09 L474,201.44 L474.7,200.38 L475.4,200.69 L476.1,200.38 L476.8,199.49 L477.5,201.04 L478.2,202.15 L478.9,201.2 L479.6,200.86 L480.3,200.48 L481,199.51 L481.7,200.47 L482.4,201.13 L483.1,200.52 L483.8,200.94 L484.5,199.93 L485.2,198.67 L485.9,199.4 L486.6,200.17 L487.3,200.33 L488,200.63 L488.7,201.22 L489.4,201.14 L490.1,200.92 L490.8,200.7 L491.5,201.26 L492.2,202.4 L492.9,201.93 L493.6,200.51 L494.3,200.57 L495,202.28 L495.7,202.53 L496.4,201.61 L497.1,201.06 L497.8,200.14 L498.5,199.65 L499.2,200.4 L499.9,201.58 L500.6,201.59 L501.3,201.27 L502,202.19 L502.7,202.62 L503.4,202.44 L504.1,202.3 L504.8,201.49 L505.5,201.26 L506.2,201.61 L506.9,201.74 L507.6,201.26 L508.3,200.92 L509,201.38 L509.7,200.79 L510.4,199.69 L511.1,199.71 L511.8,201.27 L512.5,202.69 L513.2,202.65 L513.9,201.14 L514.6,199.07 L515.3,198.78 L516,199.18 L516.7,199.81 L517.4,201.05 L518.1,200.98 L518.8,200.53 L519.5,200.18 L520.2,199.03 L520.9,198.35 L521.6,199 L522.3,200.2 L523,200.77 L523.7,201.11 L524.4,200.49 L525.1,198.75 L525.8,198.64 L526.5,198.93 L527.2,198.19 L527.9,198.95 L528.6,200.81 L529.3,201.58 L530,201.07 L530.7,199.92 L531.4,199.77 L532.1,200.15 L532.8,199.69 L533.5,200.12 L534.2,200.57 L534.9,199.29 L535.6,198.51 L536.3,199.23 L537,200.01 L537.7,200.01 L538.4,199.81 L539.1,198.98 L539.8,197.45 L540.5,197.58 L541.2,198.35 L541.9,197.56 L542.6,196.68 L543.3,196.7 L544,197.34 L544.7,197.73 L545.4,197.82 L546.1,199.25 L546.8,200.3 L547.5,199.85 L548.2,199.79 L548.9,198.8 L549.6,197.34 L550.3,197.08 L551,197.56 L551.7,197.9 L552.4,198.02 L553.1,199.04 L553.8,198.22 L554.5,196.67 L555.2,198.41 L555.9,199.3 L556.6,198.23 L557.3,197.43 L558,196.55 L558.7,196.22 L559.4,196.34 L560.1,196.34 L560.8,194.75 L561.5,194.26 L562.2,197.58 L562.9,199.4 L563.6,198.18 L564.3,197.78 L565,197.51 L565.7,197.16 L566.4,198.28 L567.1,198.28 L567.8,196.84 L568.5,197.03 L569.2,196.78 L569.9,196.39 L570.6,198.54 L571.3,198.87 L572,197.49 L572.7,197.82 L573.4,197.34 L574.1,197.07 L574.8,197.89 L575.5,197.46 L576.2,197.46 L576.9,198.47 L577.6,198.57 L578.3,196.94 L579,194.43 L579.7,194.4 L580.4,195.85 L581.1,195.63 L581.8,195.03 L582.5,194.74 L583.2,194.41 L583.9,195.11 L584.6,196.03 L585.3,195.25 L586,194.75 L586.7,195.7 L587.4,195.68 L588.1,194.44 L588.8,194.35 L589.5,195.12 L590.2,195.64 L590.9,195.42 L591.6,194.76 L592.3,194.62 L593,194.7 L593.7,194.86 L594.4,194.38 L595.1,193.81 L595.8,194.25 L596.5,195.75 L597.2,196.36 L597.9,194.94 L598.6,194.86 L599.3,194.58 L600,191.85 L600.7,190.67 L601.4,191.79 L602.1,194.21 L602.8,196.1 L603.5,195.67 L604.2,194.72 L604.9,192.6 L605.6,189.79 L606.3,190.37 L607,193.14 L607.7,193.15 L608.4,192.41 L609.1,192.67 L609.8,192.48 L610.5,193.84 L611.2,194.28 L611.9,192.09 L612.6,191.56 L613.3,192.25 L614,192.19 L614.7,192.07 L615.4,191.92 L616.1,192.42 L616.8,192.36 L617.5,191.22 L618.2,190.99 L618.9,190.74 L619.6,189.94 L620.3,190.32 L621,191.39 L621.7,191.34 L622.4,191.33 L623.1,192.17 L623.8,191.16 L624.5,190.51 L625.2,192.53 L625.9,193 L626.6,190.9 L627.3,189.64 L628,189.67 L628.7,189.44 L629.4,190.17 L630.1,191.39 L630.8,190.86 L631.5,189.97 L632.2,189.65 L632.9,189.58 L633.6,190.06 L634.3,189.72 L635,188.58 L635.7,189.34 L636.4,190.62 L637.1,189.35 L637.8,188.71 L638.5,189.41 L639.2,187.85 L639.9,186.53 L640.6,186.81 L641.3,186.23 L642,186.16 L642.7,186.84 L643.4,186.43 L644.1,185.67 L644.8,185.53 L645.5,186.43 L646.2,187.18 L646.9,186.3 L647.6,186.78 L648.3,188.1 L649,187.85 L649.7,188.48 L650.4,188.58 L651.1,186.51 L651.8,185.49 L652.5,186.78 L653.2,188.01 L653.9,187.97 L654.6,187.8 L655.3,188.54 L656,188.09 L656.7,187.04 L657.4,187.64 L658.1,187.28 L658.8,186.09 L659.5,187.02 L660.2,188.8 L660.9,187.71 L661.6,185.62 L662.3,186.09 L663,186.9 L663.7,186.78 L664.4,186.21 L665.1,186.5 L665.8,187.68 L666.5,187.64 L667.2,187.54 L667.9,187.87 L668.6,188.7 L669.3,190.25 L670,190.49 L670.7,189.59 L671.4,189.47 L672.1,190.9 L672.8,192.52 L673.5,192.88 L674.2,192.9" fill="none" stroke="#cfc09b" stroke-width="2.1" stroke-linejoin="round" stroke-linecap="butt" />
<path d="M411,187.77 L411.7,188.08 L412.4,187.77 L413.1,187.85 L413.8,189.19 L414.5,188.82 L415.2,188.96 L415.9,190.51 L416.6,190.42 L417.3,189.58 L418,188.58 L418.7,188.32 L419.4,190.13 L420.1,191.06 L420.8,190.74 L421.5,190.83 L422.2,189.84 L422.9,189.72 L423.6,190.94 L424.3,191.47 L425,191.28 L425.7,190.18 L426.4,188.9 L427.1,188.33 L427.8,188.67 L428.5,188.98 L429.2,189.56 L429.9,190.6 L430.6,189.88 L431.3,190.29 L432,192.34 L432.7,191.12 L433.4,190.34 L434.1,192.48 L434.8,192.5 L435.5,190.11 L436.2,188.93 L436.9,190.25 L437.6,191.81 L438.3,191.23 L439,190.45 L439.7,191.54 L440.4,191.86 L441.1,190.47 L441.8,189.73 L442.5,190.97 L443.2,193.73 L443.9,194.69 L444.6,193.22 L445.3,192.18 L446,191.15 L446.7,190.07 L447.4,190.3 L448.1,189.95 L448.8,189.54 L449.5,190.35 L450.2,191.48 L450.9,192.64 L451.6,193.05 L452.3,192.19 L453,191.66 L453.7,192.32 L454.4,193.01 L455.1,192.94 L455.8,190.76 L456.5,189.16 L457.2,191.78 L457.9,194.63 L458.6,194.04 L459.3,193.19 L460,193.79 L460.7,193.99 L461.4,193.4 L462.1,192.83 L462.8,193.1 L463.5,193.21 L464.2,192.35 L464.9,192.21 L465.6,193.69 L466.3,195.04 L467,195.16 L467.7,194.97 L468.4,195.98 L469.1,196.94 L469.8,196.15 L470.5,196.28 L471.2,196.66 L471.9,195.43 L472.6,195.14 L473.3,196.32 L474,196.68 L474.7,195.74 L475.4,195.03 L476.1,194.21 L476.8,193.98 L477.5,194.95 L478.2,194.09 L478.9,192.82 L479.6,192.91 L480.3,192.53 L481,192.99 L481.7,193.9 L482.4,194.49 L483.1,194.78 L483.8,194.18 L484.5,194.81 L485.2,196.39 L485.9,197.19 L486.6,196.83 L487.3,195.9 L488,195.41 L488.7,195.83 L489.4,196.1 L490.1,195.57 L490.8,195.59 L491.5,195.77 L492.2,195.6 L492.9,196.47 L493.6,197.22 L494.3,196.17 L495,195.76 L495.7,196.4 L496.4,196.68 L497.1,196.7 L497.8,196.88 L498.5,196.23 L499.2,194.86 L499.9,194.53 L500.6,194.76 L501.3,194.89 L502,194.33 L502.7,194.28 L503.4,195.91 L504.1,197.31 L504.8,197.06 L505.5,196.89 L506.2,196.66 L506.9,194.37 L507.6,192.91 L508.3,193.98 L509,195.58 L509.7,197.47 L510.4,197.35 L511.1,196.24 L511.8,197.72 L512.5,198.27 L513.2,196.87 L513.9,197 L514.6,197.57 L515.3,196.01 L516,194.61 L516.7,194.16 L517.4,193.84 L518.1,194.54 L518.8,195.02 L519.5,195.11 L520.2,194.62 L520.9,194.35 L521.6,194.76 L522.3,194.51 L523,193.96 L523.7,193.37 L524.4,193.42 L525.1,193.55 L525.8,193.4 L526.5,192.34 L527.2,190.98 L527.9,191.74 L528.6,193.55 L529.3,193.55 L530,191.42 L530.7,190.29 L531.4,191.36 L532.1,192.23 L532.8,191.9 L533.5,192.16 L534.2,193.53 L534.9,194.13 L535.6,192.99 L536.3,191.58 L537,191.44 L537.7,190.9 L538.4,190.53 L539.1,191.6 L539.8,191.53 L540.5,191.38 L541.2,192.5 L541.9,192.74 L542.6,192.62 L543.3,192.7 L544,191.41 L544.7,189.67 L545.4,190.18 L546.1,191.03 L546.8,190.36 L547.5,190.42 L548.2,191.6 L548.9,192.67 L549.6,192.8 L550.3,191.81 L551,191.07 L551.7,191.38 L552.4,191.17 L553.1,191.01 L553.8,191.67 L554.5,190.92 L555.2,190.23 L555.9,190.76 L556.6,190.6 L557.3,189.6 L558,188.61 L558.7,188.5 L559.4,188.21 L560.1,187.19 L560.8,188.1 L561.5,190.31 L562.2,190.12 L562.9,189.69 L563.6,190 L564.3,189.43 L565,188.44 L565.7,187.59 L566.4,187.77 L567.1,188.25 L567.8,188.58 L568.5,187.86 L569.2,185.91 L569.9,185.03 L570.6,186.35 L571.3,188.19 L572,188.64 L572.7,187.25 L573.4,184.55 L574.1,183.68 L574.8,185.4 L575.5,186.46 L576.2,186.73 L576.9,187.2 L577.6,186.6 L578.3,185.46 L579,185.69 L579.7,186.7 L580.4,186.97 L581.1,187.83 L581.8,188.7 L582.5,187.51 L583.2,186.07 L583.9,185.41 L584.6,185.83 L585.3,186.91 L586,186.95 L586.7,186.46 L587.4,186.4 L588.1,185.34 L588.8,182.6 L589.5,182.92 L590.2,186.78 L590.9,187.52 L591.6,185.09 L592.3,183.21 L593,184.01 L593.7,184.67 L594.4,183.06 L595.1,183.91 L595.8,185.78 L596.5,185.85 L597.2,185.57 L597.9,186.11 L598.6,186.37 L599.3,184.05 L600,182.78 L600.7,184.62 L601.4,185.67 L602.1,185.22 L602.8,184.7 L603.5,183.3 L604.2,183.03 L604.9,185.13 L605.6,186.37 L606.3,185.34 L607,182.96 L607.7,181.18 L608.4,181.11 L609.1,182.22 L609.8,183.22 L610.5,182.43 L611.2,181.13 L611.9,181.48 L612.6,181.92 L613.3,181.65 L614,181.28 L614.7,181.23 L615.4,181.47 L616.1,181.23 L616.8,180.46 L617.5,179.93 L618.2,180.07 L618.9,178.94 L619.6,177.82 L620.3,178.77 L621,179.65 L621.7,179.7 L622.4,179.06 L623.1,178.55 L623.8,178.57 L624.5,178.11 L625.2,176.77 L625.9,176.83 L626.6,177.84 L627.3,176.73 L628,176.58 L628.7,177.81 L629.4,177.94 L630.1,177.92 L630.8,178.27 L631.5,178.21 L632.2,178.6 L632.9,178.59 L633.6,176.53 L634.3,175.4 L635,175.17 L635.7,174.94 L636.4,176.03 L637.1,176.33 L637.8,174.65 L638.5,174.11 L639.2,175.2 L639.9,176.19 L640.6,176.81 L641.3,176.02 L642,174.34 L642.7,173.47 L643.4,173.3 L644.1,172.38 L644.8,171.45 L645.5,171.83 L646.2,171.99 L646.9,171.47 L647.6,171.97 L648.3,173.13 L649,173.02 L649.7,171.76 L650.4,169.93 L651.1,168.89 L651.8,169.39 L652.5,169.72 L653.2,169.27 L653.9,169.49 L654.6,170.14 L655.3,169.24 L656,167.76 L656.7,167.37 L657.4,167.63 L658.1,167.52 L658.8,166.99 L659.5,167.63 L660.2,168.59 L660.9,167.96 L661.6,166.98 L662.3,167.31 L663,168.53 L663.7,169.64 L664.4,169.99 L665.1,169.03 L665.8,169.16 L666.5,171.13 L667.2,171.92 L667.9,171.99 L668.6,171.92 L669.3,171.58 L670,172.6 L670.7,174.6 L671.4,175.93 L672.1,174.7 L672.8,173.46 L673.5,175.88 L674.2,178.6" fill="none" stroke="#8fc9a9" stroke-width="2.1" stroke-linejoin="round" stroke-linecap="butt" />
<path d="M411,179.57 L411.7,181.29 L412.4,183.03 L413.1,183.61 L413.8,183.52 L414.5,182.52 L415.2,181.51 L415.9,182.67 L416.6,183.2 L417.3,182.76 L418,183.41 L418.7,183.54 L419.4,182.96 L420.1,182.96 L420.8,183.38 L421.5,183.61 L422.2,183.81 L422.9,183.38 L423.6,182.39 L424.3,182.22 L425,182.34 L425.7,183.39 L426.4,184.77 L427.1,184.81 L427.8,184.63 L428.5,185.54 L429.2,185.88 L429.9,185.1 L430.6,184.69 L431.3,183.95 L432,184.2 L432.7,184.9 L433.4,184.83 L434.1,185.68 L434.8,185.85 L435.5,184.88 L436.2,184.97 L436.9,184.55 L437.6,183.83 L438.3,184.54 L439,185.88 L439.7,186.64 L440.4,186.85 L441.1,187.26 L441.8,187.6 L442.5,188.3 L443.2,188.17 L443.9,187.65 L444.6,188.05 L445.3,188.61 L446,189.34 L446.7,188.96 L447.4,186.77 L448.1,184.3 L448.8,183.66 L449.5,185.76 L450.2,187.81 L450.9,187.92 L451.6,187.33 L452.3,186.68 L453,186.41 L453.7,187 L454.4,186.85 L455.1,186.37 L455.8,186.75 L456.5,186.55 L457.2,186.6 L457.9,186.97 L458.6,186.76 L459.3,186.28 L460,186.39 L460.7,186.92 L461.4,188.36 L462.1,190.1 L462.8,189.1 L463.5,187.73 L464.2,187.65 L464.9,186.74 L465.6,186.41 L466.3,188.3 L467,189.22 L467.7,188.66 L468.4,188.84 L469.1,189.13 L469.8,190.01 L470.5,191.15 L471.2,191.58 L471.9,191.21 L472.6,191.01 L473.3,191.5 L474,191.53 L474.7,191.97 L475.4,192.35 L476.1,191.23 L476.8,190.85 L477.5,191.47 L478.2,190.93 L478.9,190.3 L479.6,191.19 L480.3,192.5 L481,191.51 L481.7,190.5 L482.4,193 L483.1,195.59 L483.8,194.87 L484.5,192.82 L485.2,192.53 L485.9,193.45 L486.6,193.63 L487.3,192.48 L488,191.89 L488.7,193.05 L489.4,192.88 L490.1,191.43 L490.8,191.73 L491.5,192.66 L492.2,192.95 L492.9,193.44 L493.6,193.81 L494.3,193.37 L495,192.01 L495.7,191.44 L496.4,193.06 L497.1,194.98 L497.8,194.91 L498.5,193.24 L499.2,192.96 L499.9,194.32 L500.6,194.46 L501.3,193.53 L502,192.59 L502.7,191.93 L503.4,191.75 L504.1,191.27 L504.8,191.16 L505.5,191.22 L506.2,190 L506.9,188.77 L507.6,189.63 L508.3,191.03 L509,190.91 L509.7,190.67 L510.4,191.28 L511.1,191.87 L511.8,191.23 L512.5,190 L513.2,189.72 L513.9,189.4 L514.6,188.32 L515.3,188.04 L516,188.62 L516.7,189.9 L517.4,191.26 L518.1,190.42 L518.8,189.08 L519.5,189.86 L520.2,190.53 L520.9,189.23 L521.6,188.28 L522.3,188.31 L523,188.6 L523.7,189.46 L524.4,189.31 L525.1,188.04 L525.8,188.86 L526.5,189.99 L527.2,188.81 L527.9,187.68 L528.6,186.23 L529.3,185.33 L530,187.38 L530.7,188.87 L531.4,187.1 L532.1,185.83 L532.8,186.89 L533.5,187.93 L534.2,188.44 L534.9,187.98 L535.6,186.88 L536.3,185.65 L537,184.99 L537.7,186.01 L538.4,186.67 L539.1,186.8 L539.8,186.31 L540.5,184.83 L541.2,183.73 L541.9,182.32 L542.6,181.54 L543.3,182.73 L544,183.11 L544.7,182.7 L545.4,183.31 L546.1,183.53 L546.8,182.77 L547.5,181.09 L548.2,180.56 L548.9,182.21 L549.6,182.71 L550.3,181.59 L551,180.82 L551.7,180.68 L552.4,180.52 L553.1,179.33 L553.8,178.88 L554.5,179.57 L555.2,179.12 L555.9,178.99 L556.6,179.68 L557.3,179.19 L558,178.87 L558.7,180.25 L559.4,180.98 L560.1,180.92 L560.8,180.33 L561.5,177.37 L562.2,175.68 L562.9,178.2 L563.6,180.58 L564.3,179.97 L565,178.37 L565.7,178.04 L566.4,177.5 L567.1,176.1 L567.8,176.08 L568.5,177.59 L569.2,178.52 L569.9,178.39 L570.6,178.57 L571.3,177.22 L572,176.61 L572.7,177.87 L573.4,177.33 L574.1,177.73 L574.8,178.33 L575.5,176.28 L576.2,175.51 L576.9,176.76 L577.6,176.18 L578.3,174.44 L579,174.18 L579.7,175.43 L580.4,176.33 L581.1,176.11 L581.8,176.77 L582.5,177.87 L583.2,177.94 L583.9,177.71 L584.6,176.14 L585.3,174.58 L586,175.39 L586.7,175.56 L587.4,174.15 L588.1,172.67 L588.8,171.86 L589.5,172.49 L590.2,173.09 L590.9,172.58 L591.6,172.36 L592.3,173.22 L593,173.96 L593.7,173.61 L594.4,173.88 L595.1,174.45 L595.8,173.9 L596.5,173.08 L597.2,172.47 L597.9,172.77 L598.6,173.12 L599.3,172.63 L600,171.63 L600.7,170.99 L601.4,171.18 L602.1,171.93 L602.8,173.05 L603.5,172.47 L604.2,171.1 L604.9,171.12 L605.6,171.19 L606.3,170.9 L607,169.74 L607.7,169.29 L608.4,170.64 L609.1,170.2 L609.8,167.73 L610.5,166.63 L611.2,166.97 L611.9,167.05 L612.6,167.64 L613.3,169.01 L614,169.05 L614.7,168.18 L615.4,168.48 L616.1,167.96 L616.8,165.38 L617.5,164.26 L618.2,165.57 L618.9,166.98 L619.6,167.7 L620.3,166.96 L621,165.97 L621.7,164.85 L622.4,162.91 L623.1,162.21 L623.8,162.97 L624.5,163.76 L625.2,161.55 L625.9,159.32 L626.6,160.4 L627.3,160.82 L628,160.42 L628.7,160.05 L629.4,160 L630.1,160.18 L630.8,159.08 L631.5,158.56 L632.2,159.44 L632.9,159.07 L633.6,158.19 L634.3,157.73 L635,157.68 L635.7,158.22 L636.4,157.48 L637.1,156.41 L637.8,155.45 L638.5,153.68 L639.2,153.01 L639.9,153.75 L640.6,154.48 L641.3,154.52 L642,152.9 L642.7,151.29 L643.4,151.76 L644.1,152.42 L644.8,151.94 L645.5,150.18 L646.2,149.05 L646.9,149.21 L647.6,148.71 L648.3,147.58 L649,146.83 L649.7,146.86 L650.4,146.96 L651.1,147.91 L651.8,148.76 L652.5,147.02 L653.2,144.24 L653.9,143.02 L654.6,143.54 L655.3,144.47 L656,144.39 L656.7,143.73 L657.4,143.54 L658.1,143.59 L658.8,144.03 L659.5,144.06 L660.2,142.98 L660.9,141.78 L661.6,141.01 L662.3,141.96 L663,143.89 L663.7,145.76 L664.4,148.53 L665.1,150.35 L665.8,150.27 L666.5,150.45 L667.2,151.65 L667.9,152.85 L668.6,153.9 L669.3,155.35 L670,156.6 L670.7,157.67 L671.4,158.61 L672.1,159.02 L672.8,160.39 L673.5,161.94 L674.2,161.83" fill="none" stroke="#4fc0a6" stroke-width="2.1" stroke-linejoin="round" stroke-linecap="butt" />
<path d="M411,165.49 L411.7,165.06 L412.4,164.38 L413.1,164.14 L413.8,164.38 L414.5,164.9 L415.2,165.01 L415.9,165.9 L416.6,167.13 L417.3,167.48 L418,167.88 L418.7,168.2 L419.4,167.92 L420.1,167.44 L420.8,168.94 L421.5,171.14 L422.2,171.05 L422.9,170.39 L423.6,170.44 L424.3,170.13 L425,169.09 L425.7,169.46 L426.4,171.44 L427.1,172.25 L427.8,171.78 L428.5,171.71 L429.2,172.09 L429.9,172.02 L430.6,171.34 L431.3,171.57 L432,172.24 L432.7,171.95 L433.4,172.31 L434.1,173.05 L434.8,173.7 L435.5,174.66 L436.2,175.04 L436.9,174.86 L437.6,174.52 L438.3,175.16 L439,176.63 L439.7,176.92 L440.4,176.67 L441.1,177.2 L441.8,177.63 L442.5,178.41 L443.2,179.02 L443.9,178.4 L444.6,178.44 L445.3,178.71 L446,177.84 L446.7,177.72 L447.4,179.02 L448.1,179.57 L448.8,179.33 L449.5,179.37 L450.2,179.09 L450.9,178.95 L451.6,178.8 L452.3,178.38 L453,178.53 L453.7,178.67 L454.4,179.72 L455.1,180.96 L455.8,180.58 L456.5,180.52 L457.2,181.12 L457.9,180.92 L458.6,180.55 L459.3,181.53 L460,183.07 L460.7,183.2 L461.4,181.95 L462.1,181.24 L462.8,181.37 L463.5,181.36 L464.2,181.48 L464.9,182.37 L465.6,182.9 L466.3,182.38 L467,183.31 L467.7,183.17 L468.4,181.34 L469.1,182.48 L469.8,184.76 L470.5,184.03 L471.2,181.87 L471.9,181.41 L472.6,181.5 L473.3,181.61 L474,183.32 L474.7,185.15 L475.4,184.63 L476.1,183.51 L476.8,183.8 L477.5,184.8 L478.2,184.62 L478.9,184.31 L479.6,184.68 L480.3,183.85 L481,183.82 L481.7,185.57 L482.4,186.21 L483.1,185.23 L483.8,185.41 L484.5,186.43 L485.2,186.58 L485.9,186.76 L486.6,186.61 L487.3,186.06 L488,186.23 L488.7,186.27 L489.4,186.31 L490.1,185.73 L490.8,183.61 L491.5,184.04 L492.2,186.31 L492.9,185.94 L493.6,184.91 L494.3,185.7 L495,186.05 L495.7,185.43 L496.4,185.46 L497.1,185.22 L497.8,184.79 L498.5,185.36 L499.2,185.41 L499.9,184.17 L500.6,184.28 L501.3,184.66 L502,183.13 L502.7,182.83 L503.4,184.34 L504.1,184.66 L504.8,184.28 L505.5,183.84 L506.2,184.64 L506.9,185.82 L507.6,184.09 L508.3,182.16 L509,181.82 L509.7,183.09 L510.4,184.55 L511.1,184.17 L511.8,183.35 L512.5,183.55 L513.2,184.29 L513.9,183.01 L514.6,181.71 L515.3,182.29 L516,182.5 L516.7,182.55 L517.4,182.5 L518.1,182.22 L518.8,181.54 L519.5,180.09 L520.2,180.09 L520.9,181.51 L521.6,181.71 L522.3,181.1 L523,179.72 L523.7,178.1 L524.4,179.2 L525.1,180.91 L525.8,180.16 L526.5,178.83 L527.2,178.28 L527.9,178.56 L528.6,179.05 L529.3,179.15 L530,178.9 L530.7,178.25 L531.4,178.06 L532.1,178.5 L532.8,178.57 L533.5,178.86 L534.2,179.36 L534.9,178.42 L535.6,176.9 L536.3,176.53 L537,176.38 L537.7,174.58 L538.4,172.96 L539.1,173.68 L539.8,174.3 L540.5,174.19 L541.2,174.7 L541.9,173.58 L542.6,171.84 L543.3,173.01 L544,173.96 L544.7,171.88 L545.4,170.76 L546.1,172.34 L546.8,173.52 L547.5,172.68 L548.2,171.21 L548.9,170.83 L549.6,171.32 L550.3,172.38 L551,172.36 L551.7,171.09 L552.4,170.32 L553.1,169.63 L553.8,168.78 L554.5,167.64 L555.2,167.44 L555.9,167.82 L556.6,167.8 L557.3,168.01 L558,167.62 L558.7,167.29 L559.4,167.16 L560.1,166.92 L560.8,167.54 L561.5,169.48 L562.2,169.68 L562.9,167.13 L563.6,166.14 L564.3,165.9 L565,165.41 L565.7,165.51 L566.4,165.21 L567.1,165.9 L567.8,165.83 L568.5,164.29 L569.2,164.84 L569.9,165.27 L570.6,164.58 L571.3,165.07 L572,165.12 L572.7,164.95 L573.4,164.74 L574.1,163.85 L574.8,163.93 L575.5,163.46 L576.2,162.51 L576.9,162.69 L577.6,163.32 L578.3,163.06 L579,161.83 L579.7,161.64 L580.4,162.76 L581.1,163.07 L581.8,162.28 L582.5,161.51 L583.2,160.62 L583.9,160.81 L584.6,161.34 L585.3,160.83 L586,159.19 L586.7,157.42 L587.4,158.3 L588.1,160.4 L588.8,159.92 L589.5,158.92 L590.2,159.01 L590.9,157.99 L591.6,156.68 L592.3,157.06 L593,159.16 L593.7,159.34 L594.4,157.2 L595.1,157.01 L595.8,158.46 L596.5,157.39 L597.2,154.52 L597.9,154.68 L598.6,155.01 L599.3,153.75 L600,154.05 L600.7,154.6 L601.4,153.97 L602.1,153.03 L602.8,152.44 L603.5,152.09 L604.2,152.11 L604.9,151.56 L605.6,149.91 L606.3,149.7 L607,151.43 L607.7,151.85 L608.4,150.24 L609.1,148.42 L609.8,148.57 L610.5,149.83 L611.2,148.79 L611.9,146.9 L612.6,146.67 L613.3,146.64 L614,145.62 L614.7,145.38 L615.4,146.35 L616.1,145.92 L616.8,143.7 L617.5,141.89 L618.2,141.75 L618.9,142.43 L619.6,142.16 L620.3,141.32 L621,140.94 L621.7,139.63 L622.4,136.8 L623.1,134.69 L623.8,134.6 L624.5,135.22 L625.2,136.13 L625.9,137.32 L626.6,137.53 L627.3,135.85 L628,135.53 L628.7,137.17 L629.4,136.48 L630.1,134.85 L630.8,133.95 L631.5,133.74 L632.2,134.87 L632.9,136 L633.6,136.62 L634.3,136.43 L635,135.95 L635.7,135.25 L636.4,133.63 L637.1,132.64 L637.8,132.03 L638.5,131.21 L639.2,131.14 L639.9,131.17 L640.6,130.65 L641.3,128.43 L642,126.17 L642.7,126.9 L643.4,126.75 L644.1,123.99 L644.8,123 L645.5,122.79 L646.2,121.45 L646.9,121.04 L647.6,120.57 L648.3,119.57 L649,119.78 L649.7,119.17 L650.4,117.6 L651.1,117.91 L651.8,118.36 L652.5,117.42 L653.2,117.02 L653.9,116.66 L654.6,116.08 L655.3,116.1 L656,115.04 L656.7,113.77 L657.4,114.36 L658.1,115.08 L658.8,114.28 L659.5,113.26 L660.2,114.02 L660.9,115.27 L661.6,116.01 L662.3,117.74 L663,119.21 L663.7,119.96 L664.4,121.11 L665.1,122.57 L665.8,124.14 L666.5,124.77 L667.2,125.33 L667.9,126.91 L668.6,128.65 L669.3,130.44 L670,131.3 L670.7,131.4 L671.4,132.96 L672.1,135.61 L672.8,137.41 L673.5,139.71 L674.2,142.12" fill="none" stroke="#3d8c96" stroke-width="2.1" stroke-linejoin="round" stroke-linecap="butt" />
<path d="M411,154.8 L411.7,151.75 L412.4,150.74 L413.1,150.9 L413.8,151.14 L414.5,152.48 L415.2,154.84 L415.9,157.47 L416.6,158.2 L417.3,157.56 L418,158.54 L418.7,159.48 L419.4,159.56 L420.1,159.62 L420.8,160.45 L421.5,161.58 L422.2,161.99 L422.9,162.36 L423.6,162.06 L424.3,161.76 L425,162.11 L425.7,162.56 L426.4,163.94 L427.1,164.76 L427.8,163.25 L428.5,162.78 L429.2,165.33 L429.9,167.83 L430.6,168.56 L431.3,168.88 L432,168.39 L432.7,167.26 L433.4,166.18 L434.1,165.29 L434.8,166.87 L435.5,168.35 L436.2,167.02 L436.9,166.27 L437.6,167.86 L438.3,170.49 L439,173.14 L439.7,174.72 L440.4,173.2 L441.1,169.73 L441.8,168.97 L442.5,171.58 L443.2,172.55 L443.9,171.16 L444.6,171.15 L445.3,172.14 L446,172.7 L446.7,173.22 L447.4,174.18 L448.1,174.71 L448.8,174.49 L449.5,175.39 L450.2,175.58 L450.9,173.41 L451.6,172.8 L452.3,175.01 L453,176.32 L453.7,175.89 L454.4,175.4 L455.1,175.18 L455.8,175.04 L456.5,174.87 L457.2,175.34 L457.9,175.79 L458.6,176.23 L459.3,177.13 L460,176.64 L460.7,175.74 L461.4,175.27 L462.1,174.94 L462.8,177.25 L463.5,179.3 L464.2,178.18 L464.9,177.05 L465.6,177.15 L466.3,177.23 L467,177.08 L467.7,177.26 L468.4,176.99 L469.1,176.83 L469.8,177.36 L470.5,176.82 L471.2,177.13 L471.9,179.23 L472.6,178.52 L473.3,177.37 L474,178.81 L474.7,179.38 L475.4,179.51 L476.1,179.53 L476.8,177.46 L477.5,176.27 L478.2,178.32 L478.9,180.5 L479.6,180.68 L480.3,179.71 L481,179.77 L481.7,180.4 L482.4,180.18 L483.1,180.25 L483.8,180.27 L484.5,180.64 L485.2,181.4 L485.9,180.79 L486.6,180.42 L487.3,180.41 L488,180.53 L488.7,181.81 L489.4,183.1 L490.1,183.36 L490.8,182.26 L491.5,181.49 L492.2,181.15 L492.9,180.28 L493.6,180.82 L494.3,181.98 L495,181.42 L495.7,179.62 L496.4,179.96 L497.1,181.74 L497.8,180.61 L498.5,178.67 L499.2,179.09 L499.9,180.99 L500.6,182.1 L501.3,182.04 L502,182.08 L502.7,181.75 L503.4,181.65 L504.1,181.48 L504.8,180.61 L505.5,180.12 L506.2,179.5 L506.9,179.38 L507.6,179.61 L508.3,179.06 L509,178.61 L509.7,178.34 L510.4,178.19 L511.1,178.68 L511.8,179.33 L512.5,178.93 L513.2,179 L513.9,178.15 L514.6,175.24 L515.3,173.82 L516,174.25 L516.7,176.11 L517.4,177.76 L518.1,177.82 L518.8,176.85 L519.5,176.67 L520.2,177.76 L520.9,177.19 L521.6,175.38 L522.3,174.85 L523,175.3 L523.7,175 L524.4,174.73 L525.1,175.18 L525.8,174.81 L526.5,174.61 L527.2,174.8 L527.9,173.37 L528.6,172.64 L529.3,173.62 L530,173.85 L530.7,173.23 L531.4,172.68 L532.1,172.29 L532.8,171.1 L533.5,170.58 L534.2,171.15 L534.9,170.63 L535.6,170.64 L536.3,171.21 L537,171.9 L537.7,171.8 L538.4,169.08 L539.1,167.74 L539.8,169.07 L540.5,169.53 L541.2,167.67 L541.9,166.65 L542.6,167.19 L543.3,166.43 L544,166.28 L544.7,166.54 L545.4,165.31 L546.1,164.85 L546.8,165.14 L547.5,164.78 L548.2,163.95 L548.9,163.03 L549.6,162.4 L550.3,161.28 L551,161.58 L551.7,163.53 L552.4,163.74 L553.1,162.32 L553.8,160.86 L554.5,160.45 L555.2,159.84 L555.9,159.23 L556.6,159.62 L557.3,159.3 L558,158.28 L558.7,158.19 L559.4,159.57 L560.1,160.09 L560.8,158.75 L561.5,157.25 L562.2,157.55 L562.9,158.43 L563.6,157.84 L564.3,157.33 L565,156.61 L565.7,156.35 L566.4,156.34 L567.1,155.05 L567.8,155.07 L568.5,154.84 L569.2,153.9 L569.9,154.84 L570.6,155.45 L571.3,154.41 L572,153.69 L572.7,154.54 L573.4,155.09 L574.1,155 L574.8,155.33 L575.5,154.91 L576.2,154.44 L576.9,153.74 L577.6,151.87 L578.3,151.25 L579,152.01 L579.7,152.69 L580.4,153.16 L581.1,152.52 L581.8,151.13 L582.5,150.15 L583.2,149.32 L583.9,148.63 L584.6,148.81 L585.3,149.06 L586,148.12 L586.7,147.49 L587.4,147.39 L588.1,146.82 L588.8,145.53 L589.5,144.73 L590.2,145.63 L590.9,146.18 L591.6,146.17 L592.3,145.29 L593,145.06 L593.7,146.77 L594.4,146.47 L595.1,144.29 L595.8,143.37 L596.5,144.41 L597.2,144.77 L597.9,144 L598.6,144.45 L599.3,144.69 L600,143.08 L600.7,142.51 L601.4,143.49 L602.1,142.93 L602.8,142.75 L603.5,143.44 L604.2,141.96 L604.9,140.38 L605.6,139.86 L606.3,139.27 L607,139.05 L607.7,138.44 L608.4,137.36 L609.1,137.13 L609.8,137.37 L610.5,137.25 L611.2,136.98 L611.9,136.37 L612.6,135.37 L613.3,134.18 L614,132.72 L614.7,132.21 L615.4,131.25 L616.1,129.3 L616.8,130.64 L617.5,131.22 L618.2,128.55 L618.9,126.97 L619.6,125.63 L620.3,125.89 L621,127.25 L621.7,125.87 L622.4,122.71 L623.1,120.54 L623.8,120.67 L624.5,121.59 L625.2,121.24 L625.9,120.73 L626.6,120.78 L627.3,120.7 L628,120.32 L628.7,118.84 L629.4,118.18 L630.1,118.02 L630.8,117.13 L631.5,117.8 L632.2,117.86 L632.9,116.91 L633.6,116.51 L634.3,116.27 L635,116.11 L635.7,115.17 L636.4,114.66 L637.1,114.85 L637.8,114.67 L638.5,114.38 L639.2,112.77 L639.9,110.83 L640.6,110.32 L641.3,108.79 L642,106.11 L642.7,105.49 L643.4,105.15 L644.1,102.63 L644.8,101.02 L645.5,100.34 L646.2,97.88 L646.9,95.42 L647.6,95.59 L648.3,97.12 L649,97.44 L649.7,96.59 L650.4,94.81 L651.1,93.35 L651.8,93.94 L652.5,93.81 L653.2,92.52 L653.9,92.1 L654.6,91.44 L655.3,90.98 L656,90.09 L656.7,89.41 L657.4,89.87 L658.1,89.12 L658.8,88.32 L659.5,88.62 L660.2,89.29 L660.9,90.15 L661.6,91.81 L662.3,94.29 L663,95.66 L663.7,95.33 L664.4,95.79 L665.1,99.2 L665.8,102.42 L666.5,104.16 L667.2,106.78 L667.9,110.37 L668.6,113.61 L669.3,115.91 L670,116.3 L670.7,116.15 L671.4,116.84 L672.1,118.08 L672.8,120.35 L673.5,121.65 L674.2,121.82" fill="none" stroke="#2c5882" stroke-width="2.1" stroke-linejoin="round" stroke-linecap="butt" />
<path d="M411,139.54 L411.7,136.64 L412.4,135.81 L413.1,138.05 L413.8,141.59 L414.5,143.23 L415.2,142.83 L415.9,141.52 L416.6,141.29 L417.3,141.75 L418,140.66 L418.7,139.93 L419.4,140.14 L420.1,140.26 L420.8,140.3 L421.5,139.84 L422.2,139.4 L422.9,140.99 L423.6,142.5 L424.3,141.66 L425,142.31 L425.7,144.45 L426.4,145.39 L427.1,144.76 L427.8,144.48 L428.5,146.44 L429.2,148.11 L429.9,149.61 L430.6,152.46 L431.3,153.48 L432,152.1 L432.7,151.98 L433.4,153.34 L434.1,153.87 L434.8,155.02 L435.5,157.41 L436.2,157.39 L436.9,155.89 L437.6,156.9 L438.3,159.73 L439,159.93 L439.7,157.91 L440.4,158.07 L441.1,158.4 L441.8,157.02 L442.5,157.58 L443.2,158.95 L443.9,158.27 L444.6,157.32 L445.3,157.07 L446,158.09 L446.7,159.24 L447.4,158.47 L448.1,157.83 L448.8,159.61 L449.5,161.68 L450.2,161.17 L450.9,160.28 L451.6,160.98 L452.3,161.68 L453,160.83 L453.7,160.07 L454.4,161.15 L455.1,162.41 L455.8,162.35 L456.5,162.13 L457.2,162.85 L457.9,162.15 L458.6,161.91 L459.3,163.55 L460,163.84 L460.7,163.72 L461.4,164.4 L462.1,165.51 L462.8,166.28 L463.5,166.25 L464.2,164.9 L464.9,162.59 L465.6,162.46 L466.3,163.81 L467,164.42 L467.7,165.22 L468.4,164.99 L469.1,163.65 L469.8,163.35 L470.5,163.69 L471.2,164.34 L471.9,165.67 L472.6,167.29 L473.3,167.37 L474,165.8 L474.7,166.22 L475.4,168.26 L476.1,168.45 L476.8,166.4 L477.5,164.38 L478.2,165.12 L478.9,166.66 L479.6,167.88 L480.3,169.23 L481,168.89 L481.7,167.67 L482.4,166.65 L483.1,166.41 L483.8,167 L484.5,167.6 L485.2,168.48 L485.9,169.37 L486.6,170.08 L487.3,169.79 L488,168.8 L488.7,169.33 L489.4,170.88 L490.1,171.43 L490.8,170.68 L491.5,169.85 L492.2,169.67 L492.9,170.36 L493.6,170.49 L494.3,169.64 L495,169.57 L495.7,170.39 L496.4,170.38 L497.1,170.03 L497.8,170.59 L498.5,171.49 L499.2,172.85 L499.9,172.61 L500.6,170.5 L501.3,170.83 L502,172.76 L502.7,172.38 L503.4,170.87 L504.1,169.91 L504.8,170.04 L505.5,170.85 L506.2,170.27 L506.9,169.62 L507.6,170.3 L508.3,169.61 L509,168.7 L509.7,169.22 L510.4,169.3 L511.1,168.83 L511.8,168.27 L512.5,167.37 L513.2,166.69 L513.9,166.58 L514.6,166.38 L515.3,165.65 L516,164.91 L516.7,166.23 L517.4,167.93 L518.1,168.29 L518.8,167.65 L519.5,166.96 L520.2,168.29 L520.9,168.13 L521.6,165.52 L522.3,164.54 L523,165.09 L523.7,165.69 L524.4,164.74 L525.1,163.62 L525.8,164.72 L526.5,164.86 L527.2,164.5 L527.9,165.23 L528.6,165.46 L529.3,165.78 L530,165.3 L530.7,164.68 L531.4,165.27 L532.1,164.73 L532.8,162.47 L533.5,160.97 L534.2,161.67 L534.9,162.53 L535.6,162.86 L536.3,163.27 L537,162.36 L537.7,161.29 L538.4,160.44 L539.1,159.27 L539.8,158.73 L540.5,157.38 L541.2,155.4 L541.9,155.97 L542.6,157.72 L543.3,157.58 L544,156.28 L544.7,155.17 L545.4,155.63 L546.1,156.64 L546.8,155.94 L547.5,155.59 L548.2,156.09 L548.9,155.01 L549.6,154.29 L550.3,153.82 L551,152.49 L551.7,152.14 L552.4,151.45 L553.1,150.68 L553.8,151.01 L554.5,151.53 L555.2,151.72 L555.9,151.6 L556.6,151.93 L557.3,152.93 L558,153.09 L558.7,152.1 L559.4,150.93 L560.1,149.32 L560.8,148.7 L561.5,149.52 L562.2,150.01 L562.9,149.06 L563.6,148.86 L564.3,149.82 L565,148.63 L565.7,148.26 L566.4,148.48 L567.1,146.87 L567.8,145.62 L568.5,144.69 L569.2,144.09 L569.9,144.64 L570.6,146.21 L571.3,146.84 L572,146.86 L572.7,147.9 L573.4,147.86 L574.1,146.23 L574.8,145.08 L575.5,144.58 L576.2,144.96 L576.9,145.77 L577.6,145.03 L578.3,143.73 L579,143.63 L579.7,143.66 L580.4,143.14 L581.1,142.85 L581.8,143.15 L582.5,143.82 L583.2,142.65 L583.9,140.27 L584.6,140.22 L585.3,140.66 L586,140.13 L586.7,140.12 L587.4,139.96 L588.1,139.25 L588.8,138.52 L589.5,138.27 L590.2,137.35 L590.9,135.47 L591.6,134.67 L592.3,135.81 L593,137.38 L593.7,137.09 L594.4,136.11 L595.1,135.33 L595.8,134.17 L596.5,134.09 L597.2,134.62 L597.9,134.83 L598.6,135.13 L599.3,134.35 L600,133.08 L600.7,132.44 L601.4,132.1 L602.1,132.59 L602.8,134.04 L603.5,133.44 L604.2,130.72 L604.9,130.14 L605.6,129.98 L606.3,128.24 L607,127.23 L607.7,125.97 L608.4,124.99 L609.1,125.97 L609.8,126.04 L610.5,125.04 L611.2,124.57 L611.9,125.06 L612.6,125.31 L613.3,123.77 L614,121.92 L614.7,120.56 L615.4,119.66 L616.1,118.79 L616.8,117.6 L617.5,116.41 L618.2,116.2 L618.9,117.09 L619.6,117.35 L620.3,116.17 L621,114.89 L621.7,113.35 L622.4,112.11 L623.1,112.79 L623.8,112.7 L624.5,111.92 L625.2,111.09 L625.9,109.62 L626.6,108.56 L627.3,107.56 L628,106.78 L628.7,106.22 L629.4,106.61 L630.1,106.72 L630.8,104.98 L631.5,103.85 L632.2,104.13 L632.9,105.67 L633.6,106.31 L634.3,103.18 L635,100.42 L635.7,100.13 L636.4,99.89 L637.1,100.15 L637.8,100.1 L638.5,98.88 L639.2,97.3 L639.9,96.09 L640.6,95.56 L641.3,94.96 L642,94.84 L642.7,93.66 L643.4,91.07 L644.1,89.93 L644.8,90.07 L645.5,88.97 L646.2,86.94 L646.9,87.4 L647.6,88.2 L648.3,86.46 L649,84.7 L649.7,83 L650.4,81.69 L651.1,81.73 L651.8,80.97 L652.5,79.77 L653.2,79.3 L653.9,77.44 L654.6,75.13 L655.3,74.7 L656,74.37 L656.7,73.57 L657.4,72.7 L658.1,72.75 L658.8,73.75 L659.5,73.44 L660.2,72.68 L660.9,73.01 L661.6,74 L662.3,73.98 L663,73.68 L663.7,75.9 L664.4,81.3 L665.1,87.28 L665.8,90.65 L666.5,93.39 L667.2,97.04 L667.9,98.56 L668.6,97.55 L669.3,95.57 L670,94.47 L670.7,94.43 L671.4,93.82 L672.1,95.23 L672.8,99.58 L673.5,103.02 L674.2,105.46" fill="none" stroke="#1b2d5b" stroke-width="2.1" stroke-linejoin="round" stroke-linecap="butt" />
<rect x="410.7" y="7.9" width="129.9" height="101.3" fill="#fff"/>
<line x1="410.7" y1="101.3" x2="540.6" y2="101.3" stroke="#111" stroke-width="1" />
<circle cx="420.05" cy="102.37" r="2" fill="#1c1c8c"/>
<circle cx="420.71" cy="101.74" r="2" fill="#1c1c8c"/>
<circle cx="420.75" cy="100.17" r="2" fill="#1c1c8c"/>
<circle cx="420.62" cy="101.97" r="2" fill="#1c1c8c"/>
<circle cx="421.49" cy="100.39" r="2" fill="#1c1c8c"/>
<circle cx="420.77" cy="100.66" r="2" fill="#1c1c8c"/>
<circle cx="421.75" cy="101.51" r="2" fill="#1c1c8c"/>
<circle cx="420.89" cy="99.24" r="2" fill="#1c1c8c"/>
<circle cx="421.2" cy="97.72" r="2" fill="#1c1c8c"/>
<circle cx="421.54" cy="94.97" r="2" fill="#1c1c8c"/>
<circle cx="421.99" cy="89.33" r="2" fill="#1c1c8c"/>
<circle cx="421.79" cy="79.79" r="2" fill="#1c1c8c"/>
<circle cx="422.35" cy="67.7" r="2" fill="#1c1c8c"/>
<circle cx="422.16" cy="57.55" r="2" fill="#1c1c8c"/>
<circle cx="422.33" cy="46.07" r="2" fill="#1c1c8c"/>
<circle cx="422.52" cy="38.72" r="2" fill="#1c1c8c"/>
<circle cx="422.56" cy="32.53" r="2" fill="#1c1c8c"/>
<circle cx="422.67" cy="30.91" r="2" fill="#1c1c8c"/>
<circle cx="422.56" cy="29.21" r="2" fill="#1c1c8c"/>
<circle cx="422.87" cy="28.96" r="2" fill="#1c1c8c"/>
<circle cx="423.66" cy="29.7" r="2" fill="#1c1c8c"/>
<circle cx="423.77" cy="35.14" r="2" fill="#1c1c8c"/>
<circle cx="423.93" cy="36.08" r="2" fill="#1c1c8c"/>
<circle cx="423.56" cy="36.7" r="2" fill="#1c1c8c"/>
<circle cx="424.32" cy="38.86" r="2" fill="#1c1c8c"/>
<circle cx="424.28" cy="39.33" r="2" fill="#1c1c8c"/>
<circle cx="424.54" cy="41.32" r="2" fill="#1c1c8c"/>
<circle cx="424.86" cy="44.2" r="2" fill="#1c1c8c"/>
<circle cx="425.52" cy="43.87" r="2" fill="#1c1c8c"/>
<circle cx="425.78" cy="44.38" r="2" fill="#1c1c8c"/>
<circle cx="426.08" cy="47.69" r="2" fill="#1c1c8c"/>
<circle cx="426.04" cy="50.81" r="2" fill="#1c1c8c"/>
<circle cx="426.18" cy="50.11" r="2" fill="#1c1c8c"/>
<circle cx="426.53" cy="52.82" r="2" fill="#1c1c8c"/>
<circle cx="426.67" cy="53.74" r="2" fill="#1c1c8c"/>
<circle cx="427.09" cy="55.93" r="2" fill="#1c1c8c"/>
<circle cx="426.99" cy="56.95" r="2" fill="#1c1c8c"/>
<circle cx="427.1" cy="57.34" r="2" fill="#1c1c8c"/>
<circle cx="427.35" cy="60.9" r="2" fill="#1c1c8c"/>
<circle cx="427.86" cy="59.69" r="2" fill="#1c1c8c"/>
<circle cx="427.87" cy="63" r="2" fill="#1c1c8c"/>
<circle cx="428.13" cy="62.59" r="2" fill="#1c1c8c"/>
<circle cx="428.87" cy="65.56" r="2" fill="#1c1c8c"/>
<circle cx="428.82" cy="66.55" r="2" fill="#1c1c8c"/>
<circle cx="429.02" cy="66.26" r="2" fill="#1c1c8c"/>
<circle cx="429.8" cy="67.32" r="2" fill="#1c1c8c"/>
<circle cx="429.26" cy="68.81" r="2" fill="#1c1c8c"/>
<circle cx="429.81" cy="71.22" r="2" fill="#1c1c8c"/>
<circle cx="430.19" cy="70.5" r="2" fill="#1c1c8c"/>
<circle cx="430.2" cy="71.52" r="2" fill="#1c1c8c"/>
<circle cx="430.43" cy="72.68" r="2" fill="#1c1c8c"/>
<circle cx="430.71" cy="72.55" r="2" fill="#1c1c8c"/>
<circle cx="431.63" cy="73.43" r="2" fill="#1c1c8c"/>
<circle cx="430.83" cy="73.81" r="2" fill="#1c1c8c"/>
<circle cx="431.64" cy="73.2" r="2" fill="#1c1c8c"/>
<circle cx="432.05" cy="76.92" r="2" fill="#1c1c8c"/>
<circle cx="431.83" cy="76.58" r="2" fill="#1c1c8c"/>
<circle cx="431.95" cy="78.02" r="2" fill="#1c1c8c"/>
<circle cx="432.81" cy="77.95" r="2" fill="#1c1c8c"/>
<circle cx="432.86" cy="79.04" r="2" fill="#1c1c8c"/>
<circle cx="432.6" cy="77.25" r="2" fill="#1c1c8c"/>
<circle cx="433.11" cy="79.67" r="2" fill="#1c1c8c"/>
<circle cx="433.14" cy="81.75" r="2" fill="#1c1c8c"/>
<circle cx="433.81" cy="81.19" r="2" fill="#1c1c8c"/>
<circle cx="433.94" cy="82.34" r="2" fill="#1c1c8c"/>
<circle cx="434.25" cy="81.52" r="2" fill="#1c1c8c"/>
<circle cx="434.53" cy="81.9" r="2" fill="#1c1c8c"/>
<circle cx="435.18" cy="82.85" r="2" fill="#1c1c8c"/>
<circle cx="434.91" cy="83.22" r="2" fill="#1c1c8c"/>
<circle cx="434.83" cy="83.63" r="2" fill="#1c1c8c"/>
<circle cx="435.59" cy="85.28" r="2" fill="#1c1c8c"/>
<circle cx="436.05" cy="84.68" r="2" fill="#1c1c8c"/>
<circle cx="435.38" cy="85.83" r="2" fill="#1c1c8c"/>
<circle cx="436.39" cy="84.12" r="2" fill="#1c1c8c"/>
<circle cx="436.71" cy="87.89" r="2" fill="#1c1c8c"/>
<circle cx="435.99" cy="87.1" r="2" fill="#1c1c8c"/>
<circle cx="436.62" cy="88.02" r="2" fill="#1c1c8c"/>
<circle cx="436.78" cy="86.18" r="2" fill="#1c1c8c"/>
<circle cx="437.17" cy="88.62" r="2" fill="#1c1c8c"/>
<circle cx="437.22" cy="89.13" r="2" fill="#1c1c8c"/>
<circle cx="438.05" cy="88.83" r="2" fill="#1c1c8c"/>
<circle cx="437.69" cy="88.74" r="2" fill="#1c1c8c"/>
<circle cx="438.24" cy="91.05" r="2" fill="#1c1c8c"/>
<circle cx="438.25" cy="90.89" r="2" fill="#1c1c8c"/>
<circle cx="439.26" cy="92.3" r="2" fill="#1c1c8c"/>
<circle cx="438.63" cy="89.74" r="2" fill="#1c1c8c"/>
<circle cx="439.56" cy="90.05" r="2" fill="#1c1c8c"/>
<circle cx="439.23" cy="94.01" r="2" fill="#1c1c8c"/>
<circle cx="439.83" cy="92.08" r="2" fill="#1c1c8c"/>
<circle cx="439.8" cy="92.06" r="2" fill="#1c1c8c"/>
<circle cx="440.66" cy="92.27" r="2" fill="#1c1c8c"/>
<circle cx="440.19" cy="90.07" r="2" fill="#1c1c8c"/>
<circle cx="441.39" cy="93.75" r="2" fill="#1c1c8c"/>
<circle cx="440.65" cy="94.06" r="2" fill="#1c1c8c"/>
<circle cx="441.2" cy="93.18" r="2" fill="#1c1c8c"/>
<circle cx="441.42" cy="92.31" r="2" fill="#1c1c8c"/>
<circle cx="441.69" cy="94.65" r="2" fill="#1c1c8c"/>
<circle cx="442.34" cy="93.63" r="2" fill="#1c1c8c"/>
<circle cx="441.61" cy="94.14" r="2" fill="#1c1c8c"/>
<circle cx="442.69" cy="95.49" r="2" fill="#1c1c8c"/>
<circle cx="441.86" cy="95.14" r="2" fill="#1c1c8c"/>
<circle cx="442.73" cy="95.38" r="2" fill="#1c1c8c"/>
<circle cx="442.66" cy="93.61" r="2" fill="#1c1c8c"/>
<circle cx="443.44" cy="94.38" r="2" fill="#1c1c8c"/>
<circle cx="443.38" cy="96.08" r="2" fill="#1c1c8c"/>
<circle cx="444.19" cy="93.52" r="2" fill="#1c1c8c"/>
<circle cx="444.02" cy="94.7" r="2" fill="#1c1c8c"/>
<circle cx="444.11" cy="94.55" r="2" fill="#1c1c8c"/>
<circle cx="444.13" cy="96.08" r="2" fill="#1c1c8c"/>
<circle cx="444.61" cy="96.13" r="2" fill="#1c1c8c"/>
<circle cx="444.81" cy="93.21" r="2" fill="#1c1c8c"/>
<circle cx="445.5" cy="95.03" r="2" fill="#1c1c8c"/>
<circle cx="445.7" cy="96.79" r="2" fill="#1c1c8c"/>
<circle cx="445.61" cy="99.14" r="2" fill="#1c1c8c"/>
<circle cx="445.1" cy="95.91" r="2" fill="#1c1c8c"/>
<circle cx="446.38" cy="98.28" r="2" fill="#1c1c8c"/>
<circle cx="445.97" cy="97.41" r="2" fill="#1c1c8c"/>
<circle cx="446.37" cy="97.66" r="2" fill="#1c1c8c"/>
<circle cx="446.91" cy="96.56" r="2" fill="#1c1c8c"/>
<circle cx="446.81" cy="97.8" r="2" fill="#1c1c8c"/>
<circle cx="447.65" cy="97.66" r="2" fill="#1c1c8c"/>
<circle cx="447.68" cy="97.32" r="2" fill="#1c1c8c"/>
<circle cx="447.34" cy="97.99" r="2" fill="#1c1c8c"/>
<circle cx="448.16" cy="98.71" r="2" fill="#1c1c8c"/>
<circle cx="447.93" cy="97.91" r="2" fill="#1c1c8c"/>
<circle cx="448.47" cy="99.92" r="2" fill="#1c1c8c"/>
<circle cx="448.57" cy="98.6" r="2" fill="#1c1c8c"/>
<circle cx="449" cy="98.68" r="2" fill="#1c1c8c"/>
<circle cx="450.37" cy="96.11" r="2" fill="#1c1c8c"/>
<circle cx="451.82" cy="96.94" r="2" fill="#1c1c8c"/>
<circle cx="453.66" cy="97.92" r="2" fill="#1c1c8c"/>
<circle cx="455.35" cy="97.13" r="2" fill="#1c1c8c"/>
<circle cx="457.43" cy="97.34" r="2" fill="#1c1c8c"/>
<circle cx="459.78" cy="101.97" r="2" fill="#1c1c8c"/>
<circle cx="460.99" cy="100.05" r="2" fill="#1c1c8c"/>
<circle cx="462.85" cy="100.26" r="2" fill="#1c1c8c"/>
<circle cx="464.75" cy="97.89" r="2" fill="#1c1c8c"/>
<circle cx="466.4" cy="100.04" r="2" fill="#1c1c8c"/>
<circle cx="470.9" cy="100.91" r="2" fill="#1c1c8c"/>
<circle cx="475.11" cy="102.11" r="2" fill="#1c1c8c"/>
<circle cx="478.48" cy="102.04" r="2" fill="#1c1c8c"/>
<circle cx="482.43" cy="99.2" r="2" fill="#1c1c8c"/>
<circle cx="486.16" cy="98.67" r="2" fill="#1c1c8c"/>
<circle cx="490.15" cy="100.62" r="2" fill="#1c1c8c"/>
<circle cx="494.5" cy="99.73" r="2" fill="#1c1c8c"/>
<circle cx="498.73" cy="98.89" r="2" fill="#1c1c8c"/>
<circle cx="501.66" cy="102.55" r="2" fill="#1c1c8c"/>
<circle cx="505.64" cy="101.66" r="2" fill="#1c1c8c"/>
<circle cx="508.94" cy="99.62" r="2" fill="#1c1c8c"/>
<circle cx="513.91" cy="97.04" r="2" fill="#1c1c8c"/>
<circle cx="518.01" cy="99.75" r="2" fill="#1c1c8c"/>
<circle cx="520.98" cy="100.41" r="2" fill="#1c1c8c"/>
<circle cx="525.01" cy="101.83" r="2" fill="#1c1c8c"/>
<circle cx="529" cy="100.63" r="2" fill="#1c1c8c"/>
<circle cx="532.92" cy="102.86" r="2" fill="#1c1c8c"/>
<circle cx="537.21" cy="100.48" r="2" fill="#1c1c8c"/>
<path d="M421.56,97.03 L421.71,93.19 L421.86,86.48 L422.01,76.17 L422.15,63.18 L422.3,50.31 L422.45,40.27 L422.6,33.79 L422.75,30.12 L422.89,28.19 L423.04,27.86 L423.19,28.69 L423.34,29.76 L423.49,30.92 L423.63,32.12 L423.78,33.33 L423.93,34.53 L424.08,35.71 L424.23,36.88 L424.37,38.02 L424.52,39.15 L424.67,40.25 L424.82,41.34 L424.97,42.41 L425.12,43.46 L425.26,44.49 L425.41,45.5 L425.56,46.49 L425.71,47.46 L425.86,48.42 L426,49.36 L426.15,50.29 L426.3,51.2 L426.45,52.09 L426.6,52.96 L426.74,53.82 L426.89,54.67 L427.04,55.5 L427.19,56.31 L427.34,57.11 L427.49,57.9 L427.63,58.67 L427.78,59.43 L427.93,60.17 L428.08,60.9 L428.23,61.62 L428.37,62.32 L428.52,63.02 L428.67,63.7 L428.82,64.36 L428.97,65.02 L429.11,65.67 L429.26,66.3 L429.41,66.92 L429.56,67.53 L429.71,68.13 L429.85,68.72 L430,69.3 L430.15,69.87 L430.3,70.42 L430.45,70.97 L430.6,71.51 L430.74,72.04 L430.89,72.56 L431.04,73.07 L431.19,73.57 L431.34,74.06 L431.48,74.54 L431.63,75.02 L431.78,75.48 L431.93,75.94 L432.08,76.39 L432.22,76.83 L432.37,77.26 L432.52,77.69 L432.67,78.11 L432.82,78.52 L432.97,78.92 L433.11,79.32 L433.26,79.71 L433.41,80.09 L433.56,80.46 L433.71,80.83 L433.85,81.2 L434,81.55 L434.15,81.9 L434.3,82.24 L434.45,82.58 L434.59,82.91 L434.74,83.24 L434.89,83.55 L435.04,83.87 L435.19,84.18 L435.33,84.48 L435.48,84.77 L435.63,85.07 L435.78,85.35 L435.93,85.63 L436.08,85.91 L436.22,86.18 L436.37,86.45 L436.52,86.71 L436.67,86.97 L436.82,87.22 L436.96,87.47 L437.11,87.71 L437.26,87.95 L437.41,88.18 L437.56,88.42 L437.7,88.64 L437.85,88.86 L438,89.08 L438.15,89.3 L438.3,89.51 L438.45,89.72 L438.59,89.92 L438.74,90.12 L438.89,90.31 L439.04,90.51 L439.19,90.7 L439.33,90.88 L439.48,91.06 L439.63,91.24 L439.78,91.42 L439.93,91.59 L440.07,91.76 L440.22,91.93 L440.37,92.09 L440.52,92.25 L440.67,92.41 L440.81,92.57 L440.96,92.72 L441.11,92.87 L441.26,93.02 L441.41,93.16 L441.56,93.3 L441.7,93.44 L441.85,93.58 L442,93.71 L442.15,93.84 L442.3,93.97 L442.44,94.1 L442.59,94.23 L442.74,94.35 L442.89,94.47 L443.04,94.59 L443.18,94.7 L443.33,94.82 L443.48,94.93 L443.63,95.04 L443.78,95.15 L443.93,95.26 L444.07,95.36 L444.22,95.46 L444.37,95.56 L444.52,95.66 L444.67,95.76 L444.81,95.85 L444.96,95.95 L445.11,96.04 L445.26,96.13 L445.41,96.22 L445.55,96.31 L445.7,96.39 L445.85,96.48 L446,96.56 L446.15,96.64 L446.3,96.72 L446.44,96.8 L446.59,96.87 L446.74,96.95 L446.89,97.02 L447.04,97.1 L447.18,97.17 L447.33,97.24 L447.48,97.31 L447.63,97.38 L447.78,97.44 L447.92,97.51 L448.07,97.57 L448.22,97.63 L448.37,97.7 L448.52,97.76 L448.66,97.82 L448.81,97.88 L448.96,97.93 L449.11,97.99 L449.26,98.05 L449.41,98.1 L449.55,98.15 L449.7,98.21 L449.85,98.26 L450,98.31 L450.15,98.36 L450.29,98.41 L450.44,98.46 L450.59,98.5 L450.74,98.55 L450.89,98.59 L451.03,98.64 L451.18,98.68 L451.33,98.73 L451.48,98.77 L451.63,98.81 L451.78,98.85 L451.92,98.89 L452.07,98.93 L452.22,98.97 L452.37,99.01 L452.52,99.05 L452.66,99.08 L452.81,99.12 L452.96,99.15 L453.11,99.19 L453.26,99.22 L453.4,99.26 L453.55,99.29 L453.7,99.32 L453.85,99.35 L454,99.38 L454.14,99.41 L454.29,99.44 L454.44,99.47 L454.59,99.5 L454.74,99.53 L454.89,99.56 L455.03,99.59 L455.18,99.61 L455.33,99.64 L455.48,99.67 L455.63,99.69 L455.77,99.72 L455.92,99.74 L456.07,99.77 L456.22,99.79 L456.37,99.81 L456.51,99.84 L456.66,99.86 L456.81,99.88 L456.96,99.9 L457.11,99.92 L457.26,99.95 L457.4,99.97 L457.55,99.99 L457.7,100.01 L457.85,100.03 L458,100.05 L458.14,100.06 L458.29,100.08 L458.44,100.1 L458.59,100.12 L458.74,100.14 L458.88,100.15 L459.03,100.17 L459.18,100.19 L459.33,100.2 L459.48,100.22 L459.62,100.23 L459.77,100.25 L459.92,100.27 L460.07,100.28 L460.22,100.3 L460.37,100.31 L460.51,100.32 L460.66,100.34 L460.81,100.35 L460.96,100.36 L461.11,100.38 L461.25,100.39 L461.4,100.4 L461.55,100.42 L461.7,100.43 L461.85,100.44 L461.99,100.45 L462.14,100.46 L462.29,100.47 L462.44,100.49 L462.59,100.5 L462.74,100.51 L462.88,100.52 L463.03,100.53 L463.18,100.54 L463.33,100.55 L463.48,100.56 L463.62,100.57 L463.77,100.58 L463.92,100.59 L464.07,100.6 L464.22,100.61 L464.36,100.61 L464.51,100.62 L464.66,100.63 L464.81,100.64 L464.96,100.65 L465.1,100.66 L465.25,100.66 L465.4,100.67 L465.55,100.68 L465.7,100.69 L465.85,100.69 L465.99,100.7 L466.14,100.71 L466.29,100.72 L466.44,100.72 L466.59,100.73 L466.73,100.74 L466.88,100.74 L467.03,100.75 L467.18,100.75 L467.33,100.76 L467.47,100.77 L467.62,100.77 L467.77,100.78 L467.92,100.78 L468.07,100.79 L468.22,100.8 L468.36,100.8 L468.51,100.81 L468.66,100.81 L468.81,100.82 L468.96,100.82 L469.1,100.83 L469.25,100.83 L469.4,100.84 L469.55,100.84 L469.7,100.85 L469.84,100.85 L469.99,100.86 L470.14,100.86 L470.29,100.86 L470.44,100.87 L470.58,100.87 L470.73,100.88 L470.88,100.88 L471.03,100.88 L471.18,100.89 L471.33,100.89 L471.47,100.9 L471.62,100.9 L471.77,100.9 L471.92,100.91 L472.07,100.91 L472.21,100.91 L472.36,100.92 L472.51,100.92 L472.66,100.92 L472.81,100.93 L472.95,100.93 L473.1,100.93 L473.25,100.94 L473.4,100.94 L473.55,100.94 L473.7,100.94 L473.84,100.95 L473.99,100.95 L474.14,100.95 L474.29,100.95 L474.44,100.96 L474.58,100.96 L474.73,100.96 L474.88,100.96 L475.03,100.97 L475.18,100.97 L475.32,100.97 L475.47,100.97 L475.62,100.98 L475.77,100.98 L475.92,100.98 L476.06,100.98 L476.21,100.99 L476.36,100.99 L476.51,100.99 L476.66,100.99 L476.81,100.99 L476.95,100.99 L477.1,101 L477.25,101 L477.4,101 L477.55,101 L477.69,101 L477.84,101.01 L477.99,101.01 L478.14,101.01 L478.29,101.01 L478.43,101.01 L478.58,101.01 L478.73,101.02 L478.88,101.02 L479.03,101.02 L479.18,101.02 L479.32,101.02 L479.47,101.02 L479.62,101.02 L479.77,101.03 L479.92,101.03 L480.06,101.03 L480.21,101.03 L480.36,101.03 L480.51,101.03 L480.66,101.03 L480.8,101.03 L480.95,101.04 L481.1,101.04 L481.25,101.04 L481.4,101.04 L481.55,101.04 L481.69,101.04 L481.84,101.04 L481.99,101.04 L482.14,101.04 L482.29,101.05 L482.43,101.05 L482.58,101.05 L482.73,101.05 L482.88,101.05 L483.03,101.05 L483.17,101.05 L483.32,101.05 L483.47,101.05 L483.62,101.05 L483.77,101.05 L483.91,101.05 L484.06,101.06 L484.21,101.06 L484.36,101.06 L484.51,101.06 L484.66,101.06 L484.8,101.06 L484.95,101.06 L485.1,101.06 L485.25,101.06 L485.4,101.06 L485.54,101.06 L485.69,101.06 L485.84,101.06 L485.99,101.07 L486.14,101.07 L486.28,101.07 L486.43,101.07 L486.58,101.07 L486.73,101.07 L486.88,101.07 L487.03,101.07 L487.17,101.07 L487.32,101.07 L487.47,101.07 L487.62,101.07 L487.77,101.07 L487.91,101.07 L488.06,101.07 L488.21,101.07 L488.36,101.07 L488.51,101.07 L488.65,101.07 L488.8,101.08 L488.95,101.08 L489.1,101.08 L489.25,101.08 L489.39,101.08 L489.54,101.08 L489.69,101.08 L489.84,101.08 L489.99,101.08 L490.14,101.08 L490.28,101.08 L490.43,101.08 L490.58,101.08 L490.73,101.08 L490.88,101.08 L491.02,101.08 L491.17,101.08 L491.32,101.08 L491.47,101.08 L491.62,101.08 L491.76,101.08 L491.91,101.08 L492.06,101.08 L492.21,101.08 L492.36,101.08 L492.51,101.08 L492.65,101.08 L492.8,101.08 L492.95,101.09 L493.1,101.09 L493.25,101.09 L493.39,101.09 L493.54,101.09 L493.69,101.09 L493.84,101.09 L493.99,101.09 L494.13,101.09 L494.28,101.09 L494.43,101.09 L494.58,101.09 L494.73,101.09 L494.87,101.09 L495.02,101.09 L495.17,101.09 L495.32,101.09 L495.47,101.09 L495.62,101.09 L495.76,101.09 L495.91,101.09 L496.06,101.09 L496.21,101.09 L496.36,101.09 L496.5,101.09 L496.65,101.09 L496.8,101.09 L496.95,101.09 L497.1,101.09 L497.24,101.09 L497.39,101.09 L497.54,101.09 L497.69,101.09 L497.84,101.09 L497.99,101.09 L498.13,101.09 L498.28,101.09 L498.43,101.09 L498.58,101.09 L498.73,101.09 L498.87,101.09 L499.02,101.09 L499.17,101.09 L499.32,101.09 L499.47,101.09 L499.61,101.09 L499.76,101.09 L499.91,101.09 L500.06,101.09 L500.21,101.09 L500.35,101.09 L500.5,101.09 L500.65,101.09 L500.8,101.09 L500.95,101.09 L501.1,101.09 L501.24,101.09 L501.39,101.09 L501.54,101.09 L501.69,101.09 L501.84,101.09 L501.98,101.1 L502.13,101.1 L502.28,101.1 L502.43,101.1 L502.58,101.1 L502.72,101.1 L502.87,101.1 L503.02,101.1 L503.17,101.1 L503.32,101.1 L503.47,101.1 L503.61,101.1 L503.76,101.1 L503.91,101.1 L504.06,101.1 L504.21,101.1 L504.35,101.1 L504.5,101.1 L504.65,101.1 L504.8,101.1 L504.95,101.1 L505.09,101.1 L505.24,101.1 L505.39,101.1 L505.54,101.1 L505.69,101.1 L505.83,101.1 L505.98,101.1 L506.13,101.1 L506.28,101.1 L506.43,101.1 L506.58,101.1 L506.72,101.1 L506.87,101.1 L507.02,101.1 L507.17,101.1 L507.32,101.1 L507.46,101.1 L507.61,101.1 L507.76,101.1 L507.91,101.1 L508.06,101.1 L508.2,101.1 L508.35,101.1 L508.5,101.1 L508.65,101.1 L508.8,101.1 L508.95,101.1 L509.09,101.1 L509.24,101.1 L509.39,101.1 L509.54,101.1 L509.69,101.1 L509.83,101.1 L509.98,101.1 L510.13,101.1 L510.28,101.1 L510.43,101.1 L510.57,101.1 L510.72,101.1 L510.87,101.1 L511.02,101.1 L511.17,101.1 L511.31,101.1 L511.46,101.1 L511.61,101.1 L511.76,101.1 L511.91,101.1 L512.06,101.1 L512.2,101.1 L512.35,101.1 L512.5,101.1 L512.65,101.1 L512.8,101.1 L512.94,101.1 L513.09,101.1 L513.24,101.1 L513.39,101.1 L513.54,101.1 L513.68,101.1 L513.83,101.1 L513.98,101.1 L514.13,101.1 L514.28,101.1 L514.43,101.1 L514.57,101.1 L514.72,101.1 L514.87,101.1 L515.02,101.1 L515.17,101.1 L515.31,101.1 L515.46,101.1 L515.61,101.1 L515.76,101.1 L515.91,101.1 L516.05,101.1 L516.2,101.1 L516.35,101.1 L516.5,101.1 L516.65,101.1 L516.79,101.1 L516.94,101.1 L517.09,101.1 L517.24,101.1 L517.39,101.1 L517.54,101.1 L517.68,101.1 L517.83,101.1 L517.98,101.1 L518.13,101.1 L518.28,101.1 L518.42,101.1 L518.57,101.1 L518.72,101.1 L518.87,101.1 L519.02,101.1 L519.16,101.1 L519.31,101.1 L519.46,101.1 L519.61,101.1 L519.76,101.1 L519.91,101.1 L520.05,101.1 L520.2,101.1 L520.35,101.1 L520.5,101.1 L520.65,101.1 L520.79,101.1 L520.94,101.1 L521.09,101.1 L521.24,101.1 L521.39,101.1 L521.53,101.1 L521.68,101.1 L521.83,101.1 L521.98,101.1 L522.13,101.1 L522.28,101.1 L522.42,101.1 L522.57,101.1 L522.72,101.1 L522.87,101.1 L523.02,101.1 L523.16,101.1 L523.31,101.1 L523.46,101.1 L523.61,101.1 L523.76,101.1 L523.9,101.1 L524.05,101.1 L524.2,101.1 L524.35,101.1 L524.5,101.1 L524.64,101.1 L524.79,101.1 L524.94,101.1 L525.09,101.1 L525.24,101.1 L525.39,101.1 L525.53,101.1 L525.68,101.1 L525.83,101.1 L525.98,101.1 L526.13,101.1 L526.27,101.1 L526.42,101.1 L526.57,101.1 L526.72,101.1 L526.87,101.1 L527.01,101.1 L527.16,101.1 L527.31,101.1 L527.46,101.1 L527.61,101.1 L527.76,101.1 L527.9,101.1 L528.05,101.1 L528.2,101.1 L528.35,101.1 L528.5,101.1 L528.64,101.1 L528.79,101.1 L528.94,101.1 L529.09,101.1 L529.24,101.1 L529.38,101.1 L529.53,101.1 L529.68,101.1 L529.83,101.1 L529.98,101.1 L530.12,101.1 L530.27,101.1 L530.42,101.1 L530.57,101.1 L530.72,101.1 L530.87,101.1 L531.01,101.1 L531.16,101.1 L531.31,101.1 L531.46,101.1 L531.61,101.1 L531.75,101.1 L531.9,101.1 L532.05,101.1 L532.2,101.1 L532.35,101.1 L532.49,101.1 L532.64,101.1 L532.79,101.1 L532.94,101.1 L533.09,101.1 L533.24,101.1 L533.38,101.1 L533.53,101.1 L533.68,101.1 L533.83,101.1 L533.98,101.1 L534.12,101.1 L534.27,101.1 L534.42,101.1 L534.57,101.1 L534.72,101.1 L534.86,101.1 L535.01,101.1 L535.16,101.1 L535.31,101.1 L535.46,101.1 L535.6,101.1 L535.75,101.1 L535.9,101.1 L536.05,101.1 L536.2,101.1 L536.35,101.1 L536.49,101.1 L536.64,101.1 L536.79,101.1 L536.94,101.1 L537.09,101.1 L537.23,101.1 L537.38,101.1 L537.53,101.1 L537.68,101.1 L537.83,101.1 L537.97,101.1 L538.12,101.1 L538.27,101.1 L538.42,101.1 L538.57,101.1 L538.72,101.1 L538.86,101.1 L539.01,101.1 L539.16,101.1 L539.31,101.1 L539.46,101.1 L539.6,101.1 L539.75,101.1 L539.9,101.1" fill="none" stroke="#b8b82a" stroke-width="1.3" stroke-linejoin="round" stroke-linecap="butt" />
<line x1="540.6" y1="7.9" x2="540.6" y2="109.2" stroke="#5a5a5a" stroke-width="1.1" />
<line x1="410.7" y1="109.2" x2="540.6" y2="109.2" stroke="#333" stroke-width="1.1" />
<line x1="422.5" y1="109.2" x2="422.5" y2="111.7" stroke="#5a5a5a" stroke-width="1" />
<text x="422.5" y="121.8" font-size="10.8" text-anchor="middle" font-weight="normal" fill="#1e1e1e" textLength="5.4" lengthAdjust="spacingAndGlyphs">0</text>
<line x1="437.18" y1="109.2" x2="437.18" y2="110.7" stroke="#5a5a5a" stroke-width="1" />
<line x1="451.85" y1="109.2" x2="451.85" y2="111.7" stroke="#5a5a5a" stroke-width="1" />
<text x="451.85" y="121.8" font-size="10.8" text-anchor="middle" font-weight="normal" fill="#1e1e1e" textLength="10.81" lengthAdjust="spacingAndGlyphs">50</text>
<line x1="466.52" y1="109.2" x2="466.52" y2="110.7" stroke="#5a5a5a" stroke-width="1" />
<line x1="481.2" y1="109.2" x2="481.2" y2="111.7" stroke="#5a5a5a" stroke-width="1" />
<text x="481.2" y="121.8" font-size="10.8" text-anchor="middle" font-weight="normal" fill="#1e1e1e" textLength="16.21" lengthAdjust="spacingAndGlyphs">100</text>
<line x1="495.88" y1="109.2" x2="495.88" y2="110.7" stroke="#5a5a5a" stroke-width="1" />
<line x1="510.55" y1="109.2" x2="510.55" y2="111.7" stroke="#5a5a5a" stroke-width="1" />
<text x="510.55" y="121.8" font-size="10.8" text-anchor="middle" font-weight="normal" fill="#1e1e1e" textLength="16.21" lengthAdjust="spacingAndGlyphs">150</text>
<line x1="525.23" y1="109.2" x2="525.23" y2="110.7" stroke="#5a5a5a" stroke-width="1" />
<line x1="539.9" y1="109.2" x2="539.9" y2="111.7" stroke="#5a5a5a" stroke-width="1" />
<text x="539.9" y="121.8" font-size="10.8" text-anchor="middle" font-weight="normal" fill="#1e1e1e" textLength="16.21" lengthAdjust="spacingAndGlyphs">200</text>
<line x1="540.6" y1="101.5" x2="543.6" y2="101.5" stroke="#5a5a5a" stroke-width="1" />
<text x="544.4" y="106" font-size="10.5" text-anchor="start" font-weight="normal" fill="#1e1e1e" >0.000</text>
<line x1="540.6" y1="81.7" x2="542.4" y2="81.7" stroke="#5a5a5a" stroke-width="1" />
<line x1="540.6" y1="61.9" x2="543.6" y2="61.9" stroke="#5a5a5a" stroke-width="1" />
<text x="544.4" y="66.4" font-size="10.5" text-anchor="start" font-weight="normal" fill="#1e1e1e" >0.005</text>
<line x1="540.6" y1="42.1" x2="542.4" y2="42.1" stroke="#5a5a5a" stroke-width="1" />
<line x1="540.6" y1="22.3" x2="543.6" y2="22.3" stroke="#5a5a5a" stroke-width="1" />
<text x="544.4" y="26.8" font-size="10.5" text-anchor="start" font-weight="normal" fill="#1e1e1e" >0.010</text>
<text x="481.5" y="135.2" font-size="11.6" text-anchor="middle" font-weight="normal" fill="#1e1e1e" >t / ps</text>
<text transform="translate(575.9,61.4) rotate(90)" font-size="11.5" text-anchor="middle" fill="#1e1e1e">&#916;A</text>
<circle cx="470.7" cy="23" r="2" fill="#10108a"/>
<text x="483.5" y="26" font-size="9.4" text-anchor="start" font-weight="normal" fill="#1e1e1e" textLength="29.6" lengthAdjust="spacingAndGlyphs">766 nm</text>
<text x="468" y="46.8" font-size="9.8" text-anchor="start" font-weight="normal" fill="#1e1e1e" textLength="50.5" lengthAdjust="spacingAndGlyphs">&#964; = 14 &#177; 1 ps</text>
<line x1="406.5" y1="7.9" x2="674.5" y2="7.9" stroke="#666" stroke-width="1" />
<line x1="410.7" y1="7.9" x2="410.7" y2="220.2" stroke="#333" stroke-width="1.1" />
<line x1="674.5" y1="7.9" x2="674.5" y2="220.2" stroke="#666" stroke-width="1.1" />
<line x1="410.7" y1="220.2" x2="674.5" y2="220.2" stroke="#333" stroke-width="1.1" />
<line x1="406.5" y1="210.4" x2="674.5" y2="210.4" stroke="#222" stroke-width="1.1" />
<line x1="406.5" y1="210.4" x2="410.7" y2="210.4" stroke="#5a5a5a" stroke-width="1" />
<text x="403.4" y="214.6" font-size="12" text-anchor="end" font-weight="normal" fill="#1e1e1e" >0.000</text>
<line x1="408.5" y1="176.67" x2="410.7" y2="176.67" stroke="#5a5a5a" stroke-width="1" />
<line x1="406.5" y1="142.93" x2="410.7" y2="142.93" stroke="#5a5a5a" stroke-width="1" />
<text x="403.4" y="147.13" font-size="12" text-anchor="end" font-weight="normal" fill="#1e1e1e" >0.005</text>
<line x1="408.5" y1="109.2" x2="410.7" y2="109.2" stroke="#5a5a5a" stroke-width="1" />
<line x1="406.5" y1="75.46" x2="410.7" y2="75.46" stroke="#5a5a5a" stroke-width="1" />
<text x="403.4" y="79.66" font-size="12" text-anchor="end" font-weight="normal" fill="#1e1e1e" >0.010</text>
<line x1="408.5" y1="41.72" x2="410.7" y2="41.72" stroke="#5a5a5a" stroke-width="1" />
<line x1="406.5" y1="7.99" x2="410.7" y2="7.99" stroke="#5a5a5a" stroke-width="1" />
<text x="403.4" y="12.19" font-size="12" text-anchor="end" font-weight="normal" fill="#1e1e1e" >0.015</text>
<line x1="410.7" y1="220.2" x2="410.7" y2="224.2" stroke="#5a5a5a" stroke-width="1" />
<text x="410.7" y="236.6" font-size="12" text-anchor="middle" font-weight="normal" fill="#1e1e1e" >450</text>
<line x1="429.54" y1="220.2" x2="429.54" y2="222.6" stroke="#5a5a5a" stroke-width="1" />
<line x1="448.38" y1="220.2" x2="448.38" y2="224.2" stroke="#5a5a5a" stroke-width="1" />
<text x="448.38" y="236.6" font-size="12" text-anchor="middle" font-weight="normal" fill="#1e1e1e" >500</text>
<line x1="467.23" y1="220.2" x2="467.23" y2="222.6" stroke="#5a5a5a" stroke-width="1" />
<line x1="486.07" y1="220.2" x2="486.07" y2="224.2" stroke="#5a5a5a" stroke-width="1" />
<text x="486.07" y="236.6" font-size="12" text-anchor="middle" font-weight="normal" fill="#1e1e1e" >550</text>
<line x1="504.91" y1="220.2" x2="504.91" y2="222.6" stroke="#5a5a5a" stroke-width="1" />
<line x1="523.75" y1="220.2" x2="523.75" y2="224.2" stroke="#5a5a5a" stroke-width="1" />
<text x="523.75" y="236.6" font-size="12" text-anchor="middle" font-weight="normal" fill="#1e1e1e" >600</text>
<line x1="542.6" y1="220.2" x2="542.6" y2="222.6" stroke="#5a5a5a" stroke-width="1" />
<line x1="561.44" y1="220.2" x2="561.44" y2="224.2" stroke="#5a5a5a" stroke-width="1" />
<text x="561.44" y="236.6" font-size="12" text-anchor="middle" font-weight="normal" fill="#1e1e1e" >650</text>
<line x1="580.28" y1="220.2" x2="580.28" y2="222.6" stroke="#5a5a5a" stroke-width="1" />
<line x1="599.12" y1="220.2" x2="599.12" y2="224.2" stroke="#5a5a5a" stroke-width="1" />
<text x="599.12" y="236.6" font-size="12" text-anchor="middle" font-weight="normal" fill="#1e1e1e" >700</text>
<line x1="617.97" y1="220.2" x2="617.97" y2="222.6" stroke="#5a5a5a" stroke-width="1" />
<line x1="636.81" y1="220.2" x2="636.81" y2="224.2" stroke="#5a5a5a" stroke-width="1" />
<text x="636.81" y="236.6" font-size="12" text-anchor="middle" font-weight="normal" fill="#1e1e1e" >750</text>
<line x1="655.65" y1="220.2" x2="655.65" y2="222.6" stroke="#5a5a5a" stroke-width="1" />
<line x1="674.5" y1="220.2" x2="674.5" y2="224.2" stroke="#5a5a5a" stroke-width="1" />
<text x="674.5" y="236.6" font-size="12" text-anchor="middle" font-weight="normal" fill="#1e1e1e" >800</text>
<text x="543.3" y="252.9" font-size="12.6" text-anchor="middle" font-weight="normal" fill="#1e1e1e" >&#955; / nm</text>
<text transform="translate(372.2,108.8) rotate(-90)" font-size="12.3" text-anchor="middle" fill="#1e1e1e">&#916;A</text>
<text transform="translate(358.2,37.1) scale(0.95,1)" font-size="27" font-weight="bold" fill="#000">b</text>
<line x1="593.7" y1="16.2" x2="612.6" y2="16.2" stroke="#1b2d5b" stroke-width="1.6" />
<text x="614.4" y="19.2" font-size="8.1" text-anchor="start" font-weight="normal" fill="#1e1e1e" >end-of-pulse</text>
<line x1="593.7" y1="26.03" x2="612.6" y2="26.03" stroke="#2c5882" stroke-width="1.6" />
<text x="614.4" y="29.03" font-size="8.1" text-anchor="start" font-weight="normal" fill="#1e1e1e" >2.3 ps</text>
<line x1="593.7" y1="35.86" x2="612.6" y2="35.86" stroke="#3d8c96" stroke-width="1.6" />
<text x="614.4" y="38.86" font-size="8.1" text-anchor="start" font-weight="normal" fill="#1e1e1e" >5.5 ps</text>
<line x1="593.7" y1="45.69" x2="612.6" y2="45.69" stroke="#4fc0a6" stroke-width="1.6" />
<text x="614.4" y="48.69" font-size="8.1" text-anchor="start" font-weight="normal" fill="#1e1e1e" >10.2 ps</text>
<line x1="593.7" y1="55.52" x2="612.6" y2="55.52" stroke="#8fc9a9" stroke-width="1.6" />
<text x="614.4" y="58.52" font-size="8.1" text-anchor="start" font-weight="normal" fill="#1e1e1e" >17.0 ps</text>
<line x1="593.7" y1="65.35" x2="612.6" y2="65.35" stroke="#cfc09b" stroke-width="1.6" />
<text x="614.4" y="68.35" font-size="8.1" text-anchor="start" font-weight="normal" fill="#1e1e1e" >25.6 ps</text>
<line x1="593.7" y1="75.18" x2="612.6" y2="75.18" stroke="#c8aa87" stroke-width="1.6" />
<text x="614.4" y="78.18" font-size="8.1" text-anchor="start" font-weight="normal" fill="#1e1e1e" >157 ps</text>
<defs><clipPath id="cc"><rect x="73.2" y="274.3" width="258.6" height="212.7"/></clipPath><clipPath id="dd"><rect x="413.6" y="274.3" width="259" height="212.7"/></clipPath></defs>
<g clip-path="url(#cc)">
<path d="M60,54.19 L60.5,57.09 L61,59.99 L61.5,62.89 L62,65.79 L62.5,68.7 L63,71.6 L63.5,74.5 L64,77.4 L64.5,80.3 L65,83.2 L65.5,86.1 L66,89 L66.5,91.9 L67,94.8 L67.5,97.7 L68,100.6 L68.5,103.5 L69,106.4 L69.5,109.3 L70,112.21 L70.5,115.11 L71,118.01 L71.5,120.91 L72,123.81 L72.5,126.71 L73,129.61 L73.5,132.51 L74,135.41 L74.5,138.31 L75,141.21 L75.5,144.11 L76,147.01 L76.5,149.91 L77,152.81 L77.5,155.72 L78,158.62 L78.5,161.52 L79,164.42 L79.5,167.32 L80,170.22 L80.5,173.12 L81,176.04 L81.5,178.98 L82,181.91 L82.5,184.8 L83,187.58 L83.5,190.36 L84,193.13 L84.5,195.91 L85,198.68 L85.5,201.29 L86,203.84 L86.5,206.4 L87,208.99 L87.5,211.61 L88,214.23 L88.5,216.83 L89,219.33 L89.5,221.78 L90,224.23 L90.5,226.68 L91,229.13 L91.5,231.58 L92,234.01 L92.5,236.4 L93,238.79 L93.5,241.18 L94,243.56 L94.5,245.95 L95,248.33 L95.5,250.7 L96,253.03 L96.5,255.34 L97,257.64 L97.5,259.95 L98,262.25 L98.5,264.55 L99,266.85 L99.5,269.15 L100,271.44 L100.5,273.72 L101,276 L101.5,278.28 L102,280.56 L102.5,282.83 L103,285.11 L103.5,287.37 L104,289.62 L104.5,291.86 L105,294.11 L105.5,296.35 L106,298.61 L106.5,300.87 L107,303.13 L107.5,305.39 L108,307.65 L108.5,309.88 L109,312.07 L109.5,314.25 L110,316.43 L110.5,318.61 L111,320.79 L111.5,322.97 L112,325.14 L112.5,327.32 L113,329.51 L113.5,331.69 L114,333.88 L114.5,336.08 L115,338.3 L115.5,340.53 L116,342.75 L116.5,344.97 L117,347.18 L117.5,349.34 L118,351.51 L118.5,353.67 L119,355.83 L119.5,358 L120,360.13 L120.5,362.11 L121,364.01 L121.5,365.9 L122,367.79 L122.5,369.69 L123,371.58 L123.5,373.44 L124,375.14 L124.5,376.69 L125,378.2 L125.5,379.71 L126,381.22 L126.5,382.73 L127,384.24 L127.5,385.76 L128,387.26 L128.5,388.72 L129,390.07 L129.5,391.36 L130,392.63 L130.5,393.9 L131,395.17 L131.5,396.43 L132,397.7 L132.5,398.97 L133,400.24 L133.5,401.5 L134,402.74 L134.5,403.91 L135,404.98 L135.5,406.01 L136,407.02 L136.5,408.03 L137,409.03 L137.5,410.04 L138,411.03 L138.5,411.97 L139,412.82 L139.5,413.58 L140,414.27 L140.5,414.94 L141,415.6 L141.5,416.24 L142,416.85 L142.5,417.42 L143,417.93 L143.5,418.39 L144,418.81 L144.5,419.21 L145,419.59 L145.5,419.96 L146,420.3 L146.5,420.6 L147,420.84 L147.5,421 L148,421.07 L148.5,421.09 L149,421.05 L149.5,420.98 L150,420.9 L150.5,420.79 L151,420.65 L151.5,420.46 L152,420.21 L152.5,419.88 L153,419.48 L153.5,419.02 L154,418.55 L154.5,418.06 L155,417.57 L155.5,417.08 L156,416.58 L156.5,416.05 L157,415.46 L157.5,414.79 L158,414.02 L158.5,413.21 L159,412.38 L159.5,411.54 L160,410.7 L160.5,409.85 L161,409 L161.5,408.16 L162,407.3 L162.5,406.43 L163,405.54 L163.5,404.64 L164,403.74 L164.5,402.84 L165,401.93 L165.5,401.02 L166,400.11 L166.5,399.2 L167,398.3 L167.5,397.42 L168,396.57 L168.5,395.75 L169,394.94 L169.5,394.12 L170,393.31 L170.5,392.5 L171,391.68 L171.5,390.87 L172,390.07 L172.5,389.29 L173,388.57 L173.5,387.88 L174,387.22 L174.5,386.56 L175,385.91 L175.5,385.26 L176,384.61 L176.5,383.97 L177,383.35 L177.5,382.8 L178,382.34 L178.5,381.97 L179,381.66 L179.5,381.38 L180,381.13 L180.5,380.89 L181,380.68 L181.5,380.51 L182,380.39 L182.5,380.36 L183,380.41 L183.5,380.53 L184,380.72 L184.5,380.95 L185,381.2 L185.5,381.47 L186,381.78 L186.5,382.14 L187,382.6 L187.5,383.2 L188,383.96 L188.5,384.81 L189,385.67 L189.5,386.56 L190,387.51 L190.5,388.66 L191,390.08 L191.5,391.61 L192,393.15 L192.5,394.7 L193,396.32 L193.5,398.07 L194,399.85 L194.5,401.63 L195,403.42 L195.5,405.21 L196,407.01 L196.5,408.87 L197,410.77 L197.5,412.68 L198,414.58 L198.5,416.49 L199,418.39 L199.5,420.36 L200,422.43 L200.5,424.52 L201,426.62 L201.5,428.71 L202,430.72 L202.5,432.51 L203,434.23 L203.5,435.94 L204,437.66 L204.5,439.37 L205,441.08 L205.5,442.78 L206,444.36 L206.5,445.78 L207,447.13 L207.5,448.49 L208,449.84 L208.5,451.19 L209,452.54 L209.5,453.89 L210,455.24 L210.5,456.58 L211,457.86 L211.5,458.97 L212,459.96 L212.5,460.9 L213,461.83 L213.5,462.76 L214,463.68 L214.5,464.61 L215,465.54 L215.5,466.46 L216,467.36 L216.5,468.18 L217,468.91 L217.5,469.59 L218,470.24 L218.5,470.88 L219,471.51 L219.5,472.13 L220,472.71 L220.5,473.22 L221,473.66 L221.5,474.06 L222,474.42 L222.5,474.76 L223,475.1 L223.5,475.43 L224,475.76 L224.5,476.07 L225,476.36 L225.5,476.63 L226,476.86 L226.5,477.07 L227,477.26 L227.5,477.44 L228,477.6 L228.5,477.76 L229,477.92 L229.5,478.05 L230,478.18 L230.5,478.29 L231,478.38 L231.5,478.46 L232,478.54 L232.5,478.61 L233,478.68 L233.5,478.75 L234,478.81 L234.5,478.87 L235,478.93 L235.5,478.98 L236,479.02 L236.5,479.05 L237,479.08 L237.5,479.1 L238,479.11 L238.5,479.12 L239,479.13 L239.5,479.14 L240,479.15 L240.5,479.16 L241,479.17 L241.5,479.18 L242,479.19 L242.5,479.2 L243,479.21 L243.5,479.22 L244,479.23 L244.5,479.24 L245,479.25 L245.5,479.26 L246,479.27 L246.5,479.28 L247,479.29 L247.5,479.3 L248,479.31 L248.5,479.32 L249,479.33 L249.5,479.34 L250,479.35 L250.5,479.36 L251,479.37 L251.5,479.38 L252,479.39 L252.5,479.39 L253,479.4 L253.5,479.4 L254,479.4 L254.5,479.4 L255,479.4 L255.5,479.4 L256,479.39 L256.5,479.38 L257,479.38 L257.5,479.37 L258,479.37 L258.5,479.36 L259,479.36 L259.5,479.35 L260,479.34 L260.5,479.34 L261,479.33 L261.5,479.33 L262,479.32 L262.5,479.31 L263,479.31 L263.5,479.3 L264,479.3 L264.5,479.29 L265,479.28 L265.5,479.28 L266,479.27 L266.5,479.26 L267,479.26 L267.5,479.25 L268,479.24 L268.5,479.24 L269,479.23 L269.5,479.22 L270,479.22 L270.5,479.21 L271,479.2 L271.5,479.2 L272,479.19 L272.5,479.18 L273,479.18 L273.5,479.18 L274,479.18 L274.5,479.18 L275,479.19 L275.5,479.21 L276,479.22 L276.5,479.24 L277,479.27 L277.5,479.29 L278,479.31 L278.5,479.34 L279,479.36 L279.5,479.39 L280,479.41 L280.5,479.44 L281,479.46 L281.5,479.48 L282,479.51 L282.5,479.53 L283,479.56 L283.5,479.58 L284,479.61 L284.5,479.63 L285,479.65 L285.5,479.68 L286,479.7 L286.5,479.73 L287,479.75 L287.5,479.78 L288,479.8 L288.5,479.83 L289,479.85 L289.5,479.87 L290,479.9 L290.5,479.92 L291,479.94 L291.5,479.97 L292,479.99 L292.5,480.01 L293,480.04 L293.5,480.06 L294,480.08 L294.5,480.11 L295,480.13 L295.5,480.15 L296,480.17 L296.5,480.19 L297,480.21 L297.5,480.24 L298,480.26 L298.5,480.28 L299,480.3 L299.5,480.32 L300,480.34 L300.5,480.36 L301,480.38 L301.5,480.4 L302,480.42 L302.5,480.44 L303,480.47 L303.5,480.49 L304,480.51 L304.5,480.53 L305,480.55 L305.5,480.57 L306,480.59 L306.5,480.61 L307,480.63 L307.5,480.65 L308,480.67 L308.5,480.7 L309,480.72 L309.5,480.74 L310,480.76 L310.5,480.78 L311,480.8 L311.5,480.82 L312,480.84 L312.5,480.86 L313,480.88 L313.5,480.9 L314,480.92 L314.5,480.95 L315,480.97 L315.5,480.99 L316,481 L316.5,481.02 L317,481.04 L317.5,481.06 L318,481.07 L318.5,481.08 L319,481.1 L319.5,481.11 L320,481.12 L320.5,481.13 L321,481.14 L321.5,481.16 L322,481.17 L322.5,481.18 L323,481.19 L323.5,481.2 L324,481.22 L324.5,481.23 L325,481.24 L325.5,481.25 L326,481.26 L326.5,481.27 L327,481.29 L327.5,481.3 L328,481.31 L328.5,481.32 L329,481.33 L329.5,481.35 L330,481.36 L330.5,481.37 L331,481.38 L331.5,481.39 L332,481.39 L332.5,481.39" fill="none" stroke="#a8a8a8" stroke-width="0.8" stroke-linejoin="round" stroke-linecap="butt" />
<path d="M60,45.82 L60.5,49.27 L61,52.73 L61.5,56.19 L62,59.64 L62.5,63.1 L63,66.56 L63.5,70.01 L64,73.47 L64.5,76.93 L65,80.38 L65.5,83.84 L66,87.3 L66.5,90.75 L67,94.21 L67.5,97.67 L68,101.12 L68.5,104.58 L69,108.04 L69.5,111.49 L70,114.95 L70.5,118.41 L71,121.86 L71.5,125.32 L72,128.78 L72.5,132.23 L73,135.69 L73.5,139.15 L74,142.6 L74.5,146.06 L75,149.52 L75.5,152.97 L76,156.43 L76.5,159.89 L77,163.34 L77.5,166.8 L78,170.26 L78.5,173.71 L79,177.17 L79.5,180.63 L80,184.08 L80.5,187.54 L81,191.05 L81.5,194.58 L82,198.11 L82.5,201.55 L83,204.73 L83.5,207.9 L84,211.07 L84.5,214.24 L85,217.39 L85.5,220.17 L86,222.84 L86.5,225.51 L87,228.26 L87.5,231.06 L88,233.87 L88.5,236.64 L89,239.17 L89.5,241.59 L90,244.01 L90.5,246.43 L91,248.85 L91.5,251.27 L92,253.64 L92.5,255.93 L93,258.21 L93.5,260.48 L94,262.76 L94.5,265.03 L95,267.3 L95.5,269.52 L96,271.67 L96.5,273.77 L97,275.86 L97.5,277.94 L98,280.02 L98.5,282.09 L99,284.17 L99.5,286.24 L100,288.29 L100.5,290.34 L101,292.37 L101.5,294.39 L102,296.41 L102.5,298.43 L103,300.45 L103.5,302.45 L104,304.45 L104.5,306.44 L105,308.42 L105.5,310.4 L106,312.44 L106.5,314.47 L107,316.5 L107.5,318.53 L108,320.55 L108.5,322.55 L109,324.51 L109.5,326.46 L110,328.41 L110.5,330.36 L111,332.3 L111.5,334.24 L112,336.19 L112.5,338.14 L113,340.09 L113.5,342.06 L114,344.03 L114.5,346.01 L115,348.01 L115.5,350.02 L116,352.02 L116.5,354.02 L117,356 L117.5,357.95 L118,359.89 L118.5,361.84 L119,363.79 L119.5,365.75 L120,367.69 L120.5,369.51 L121,371.27 L121.5,373.02 L122,374.77 L122.5,376.53 L123,378.27 L123.5,380 L124,381.59 L124.5,383.06 L125,384.5 L125.5,385.95 L126,387.42 L126.5,388.88 L127,390.34 L127.5,391.81 L128,393.26 L128.5,394.68 L129,396.01 L129.5,397.28 L130,398.54 L130.5,399.8 L131,401.06 L131.5,402.32 L132,403.58 L132.5,404.84 L133,406.1 L133.5,407.36 L134,408.6 L134.5,409.77 L135,410.87 L135.5,411.92 L136,412.96 L136.5,413.99 L137,415.02 L137.5,416.05 L138,417.07 L138.5,418.04 L139,418.94 L139.5,419.77 L140,420.55 L140.5,421.3 L141,422.04 L141.5,422.77 L142,423.47 L142.5,424.14 L143,424.75 L143.5,425.32 L144,425.87 L144.5,426.39 L145,426.9 L145.5,427.4 L146,427.88 L146.5,428.32 L147,428.69 L147.5,428.99 L148,429.22 L148.5,429.4 L149,429.53 L149.5,429.64 L150,429.73 L150.5,429.81 L151,429.85 L151.5,429.84 L152,429.77 L152.5,429.63 L153,429.42 L153.5,429.15 L154,428.86 L154.5,428.56 L155,428.25 L155.5,427.95 L156,427.63 L156.5,427.29 L157,426.91 L157.5,426.45 L158,425.91 L158.5,425.32 L159,424.71 L159.5,424.09 L160,423.46 L160.5,422.82 L161,422.18 L161.5,421.54 L162,420.89 L162.5,420.23 L163,419.56 L163.5,418.87 L164,418.18 L164.5,417.48 L165,416.78 L165.5,416.07 L166,415.36 L166.5,414.64 L167,413.93 L167.5,413.24 L168,412.57 L168.5,411.93 L169,411.29 L169.5,410.65 L170,410.01 L170.5,409.37 L171,408.73 L171.5,408.09 L172,407.45 L172.5,406.84 L173,406.26 L173.5,405.71 L174,405.19 L174.5,404.66 L175,404.14 L175.5,403.62 L176,403.1 L176.5,402.59 L177,402.1 L177.5,401.66 L178,401.3 L178.5,401 L179,400.76 L179.5,400.55 L180,400.35 L180.5,400.17 L181,400.01 L181.5,399.87 L182,399.79 L182.5,399.76 L183,399.81 L183.5,399.92 L184,400.08 L184.5,400.26 L185,400.47 L185.5,400.7 L186,400.94 L186.5,401.24 L187,401.62 L187.5,402.11 L188,402.73 L188.5,403.42 L189,404.13 L189.5,404.85 L190,405.63 L190.5,406.57 L191,407.73 L191.5,408.98 L192,410.23 L192.5,411.49 L193,412.81 L193.5,414.23 L194,415.68 L194.5,417.14 L195,418.59 L195.5,420.05 L196,421.52 L196.5,423.04 L197,424.59 L197.5,426.14 L198,427.69 L198.5,429.24 L199,430.79 L199.5,432.39 L200,434.08 L200.5,435.78 L201,437.49 L201.5,439.19 L202,440.83 L202.5,442.29 L203,443.69 L203.5,445.08 L204,446.47 L204.5,447.87 L205,449.26 L205.5,450.64 L206,451.93 L206.5,453.09 L207,454.19 L207.5,455.29 L208,456.39 L208.5,457.49 L209,458.59 L209.5,459.69 L210,460.79 L210.5,461.89 L211,462.93 L211.5,463.83 L212,464.64 L212.5,465.4 L213,466.16 L213.5,466.92 L214,467.67 L214.5,468.43 L215,469.19 L215.5,469.94 L216,470.67 L216.5,471.34 L217,471.94 L217.5,472.49 L218,473.02 L218.5,473.54 L219,474.06 L219.5,474.56 L220,475.03 L220.5,475.45 L221,475.81 L221.5,476.13 L222,476.43 L222.5,476.71 L223,476.99 L223.5,477.26 L224,477.53 L224.5,477.78 L225,478.02 L225.5,478.24 L226,478.43 L226.5,478.6 L227,478.76 L227.5,478.9 L228,479.04 L228.5,479.17 L229,479.3 L229.5,479.41 L230,479.51 L230.5,479.6 L231,479.68 L231.5,479.75 L232,479.81 L232.5,479.87 L233,479.93 L233.5,479.99 L234,480.04 L234.5,480.09 L235,480.14 L235.5,480.18 L236,480.22 L236.5,480.25 L237,480.27 L237.5,480.29 L238,480.3 L238.5,480.31 L239,480.32 L239.5,480.33 L240,480.34 L240.5,480.35 L241,480.36 L241.5,480.37 L242,480.38 L242.5,480.4 L243,480.41 L243.5,480.42 L244,480.43 L244.5,480.44 L245,480.46 L245.5,480.47 L246,480.48 L246.5,480.49 L247,480.5 L247.5,480.51 L248,480.53 L248.5,480.54 L249,480.55 L249.5,480.56 L250,480.57 L250.5,480.59 L251,480.6 L251.5,480.61 L252,480.62 L252.5,480.63 L253,480.64 L253.5,480.64 L254,480.65 L254.5,480.65 L255,480.65 L255.5,480.65 L256,480.65 L256.5,480.65 L257,480.65 L257.5,480.65 L258,480.65 L258.5,480.65 L259,480.65 L259.5,480.64 L260,480.64 L260.5,480.64 L261,480.64 L261.5,480.64 L262,480.64 L262.5,480.64 L263,480.64 L263.5,480.64 L264,480.63 L264.5,480.63 L265,480.63 L265.5,480.63 L266,480.63 L266.5,480.62 L267,480.62 L267.5,480.62 L268,480.61 L268.5,480.61 L269,480.61 L269.5,480.6 L270,480.6 L270.5,480.6 L271,480.59 L271.5,480.59 L272,480.59 L272.5,480.58 L273,480.58 L273.5,480.58 L274,480.59 L274.5,480.59 L275,480.6 L275.5,480.62 L276,480.63 L276.5,480.65 L277,480.67 L277.5,480.69 L278,480.71 L278.5,480.74 L279,480.76 L279.5,480.78 L280,480.8 L280.5,480.82 L281,480.85 L281.5,480.87 L282,480.89 L282.5,480.91 L283,480.93 L283.5,480.96 L284,480.98 L284.5,481 L285,481.02 L285.5,481.05 L286,481.07 L286.5,481.09 L287,481.11 L287.5,481.13 L288,481.16 L288.5,481.18 L289,481.2 L289.5,481.22 L290,481.24 L290.5,481.26 L291,481.28 L291.5,481.3 L292,481.32 L292.5,481.34 L293,481.36 L293.5,481.38 L294,481.39 L294.5,481.41 L295,481.43 L295.5,481.45 L296,481.47 L296.5,481.49 L297,481.5 L297.5,481.52 L298,481.54 L298.5,481.56 L299,481.57 L299.5,481.59 L300,481.61 L300.5,481.62 L301,481.64 L301.5,481.66 L302,481.68 L302.5,481.69 L303,481.71 L303.5,481.73 L304,481.75 L304.5,481.76 L305,481.78 L305.5,481.8 L306,481.81 L306.5,481.83 L307,481.85 L307.5,481.87 L308,481.88 L308.5,481.9 L309,481.92 L309.5,481.93 L310,481.95 L310.5,481.97 L311,481.99 L311.5,482 L312,482.02 L312.5,482.04 L313,482.05 L313.5,482.07 L314,482.09 L314.5,482.11 L315,482.12 L315.5,482.14 L316,482.15 L316.5,482.17 L317,482.18 L317.5,482.2 L318,482.21 L318.5,482.22 L319,482.23 L319.5,482.24 L320,482.25 L320.5,482.26 L321,482.27 L321.5,482.28 L322,482.29 L322.5,482.3 L323,482.31 L323.5,482.32 L324,482.33 L324.5,482.34 L325,482.35 L325.5,482.36 L326,482.37 L326.5,482.38 L327,482.39 L327.5,482.4 L328,482.41 L328.5,482.42 L329,482.43 L329.5,482.44 L330,482.45 L330.5,482.46 L331,482.47 L331.5,482.48 L332,482.48 L332.5,482.48" fill="none" stroke="#a8a8a8" stroke-width="0.8" stroke-linejoin="round" stroke-linecap="butt" />
<path d="M60,36.15 L60.5,40.25 L61,44.35 L61.5,48.44 L62,52.54 L62.5,56.64 L63,60.74 L63.5,64.84 L64,68.94 L64.5,73.03 L65,77.13 L65.5,81.23 L66,85.33 L66.5,89.43 L67,93.53 L67.5,97.62 L68,101.72 L68.5,105.82 L69,109.92 L69.5,114.02 L70,118.11 L70.5,122.21 L71,126.31 L71.5,130.41 L72,134.51 L72.5,138.61 L73,142.7 L73.5,146.8 L74,150.9 L74.5,155 L75,159.1 L75.5,163.2 L76,167.29 L76.5,171.39 L77,175.49 L77.5,179.59 L78,183.69 L78.5,187.78 L79,191.88 L79.5,195.98 L80,200.08 L80.5,204.18 L81,208.37 L81.5,212.58 L82,216.8 L82.5,220.88 L83,224.52 L83.5,228.14 L84,231.76 L84.5,235.39 L85,238.98 L85.5,241.97 L86,244.76 L86.5,247.56 L87,250.48 L87.5,253.51 L88,256.53 L88.5,259.5 L89,262.06 L89.5,264.45 L90,266.84 L90.5,269.22 L91,271.61 L91.5,273.99 L92,276.29 L92.5,278.47 L93,280.62 L93.5,282.76 L94,284.91 L94.5,287.05 L95,289.18 L95.5,291.24 L96,293.17 L96.5,295.04 L97,296.87 L97.5,298.69 L98,300.52 L98.5,302.34 L99,304.16 L99.5,305.96 L100,307.74 L100.5,309.5 L101,311.24 L101.5,312.97 L102,314.7 L102.5,316.42 L103,318.15 L103.5,319.86 L104,321.56 L104.5,323.25 L105,324.94 L105.5,326.62 L106,328.41 L106.5,330.19 L107,331.97 L107.5,333.74 L108,335.5 L108.5,337.24 L109,338.95 L109.5,340.65 L110,342.34 L110.5,344.03 L111,345.72 L111.5,347.4 L112,349.08 L112.5,350.77 L113,352.47 L113.5,354.18 L114,355.91 L114.5,357.65 L115,359.4 L115.5,361.16 L116,362.91 L116.5,364.65 L117,366.38 L117.5,368.09 L118,369.78 L118.5,371.48 L119,373.18 L119.5,374.91 L120,376.63 L120.5,378.27 L121,379.87 L121.5,381.46 L122,383.06 L122.5,384.65 L123,386.23 L123.5,387.8 L124,389.27 L124.5,390.64 L125,392.01 L125.5,393.41 L126,394.82 L126.5,396.23 L127,397.64 L127.5,399.04 L128,400.45 L128.5,401.82 L129,403.12 L129.5,404.38 L130,405.64 L130.5,406.89 L131,408.15 L131.5,409.4 L132,410.66 L132.5,411.91 L133,413.17 L133.5,414.42 L134,415.66 L134.5,416.85 L135,417.98 L135.5,419.07 L136,420.14 L136.5,421.2 L137,422.27 L137.5,423.33 L138,424.39 L138.5,425.42 L139,426.38 L139.5,427.3 L140,428.18 L140.5,429.04 L141,429.89 L141.5,430.73 L142,431.55 L142.5,432.33 L143,433.08 L143.5,433.8 L144,434.49 L144.5,435.18 L145,435.85 L145.5,436.52 L146,437.17 L146.5,437.78 L147,438.33 L147.5,438.81 L148,439.23 L148.5,439.6 L149,439.95 L149.5,440.28 L150,440.6 L150.5,440.91 L151,441.18 L151.5,441.39 L152,441.55 L152.5,441.64 L153,441.66 L153.5,441.63 L154,441.56 L154.5,441.49 L155,441.41 L155.5,441.33 L156,441.24 L156.5,441.14 L157,441 L157.5,440.8 L158,440.54 L158.5,440.24 L159,439.91 L159.5,439.55 L160,439.18 L160.5,438.8 L161,438.42 L161.5,438.03 L162,437.64 L162.5,437.23 L163,436.82 L163.5,436.39 L164,435.96 L164.5,435.52 L165,435.07 L165.5,434.6 L166,434.13 L166.5,433.66 L167,433.18 L167.5,432.72 L168,432.28 L168.5,431.85 L169,431.43 L169.5,431 L170,430.58 L170.5,430.15 L171,429.72 L171.5,429.29 L172,428.86 L172.5,428.44 L173,428.05 L173.5,427.68 L174,427.31 L174.5,426.96 L175,426.6 L175.5,426.24 L176,425.88 L176.5,425.53 L177,425.19 L177.5,424.89 L178,424.65 L178.5,424.45 L179,424.29 L179.5,424.15 L180,424.03 L180.5,423.91 L181,423.81 L181.5,423.72 L182,423.68 L182.5,423.67 L183,423.71 L183.5,423.8 L184,423.91 L184.5,424.05 L185,424.21 L185.5,424.37 L186,424.56 L186.5,424.77 L187,425.05 L187.5,425.41 L188,425.85 L188.5,426.35 L189,426.86 L189.5,427.38 L190,427.95 L190.5,428.62 L191,429.46 L191.5,430.36 L192,431.26 L192.5,432.17 L193,433.12 L193.5,434.14 L194,435.19 L194.5,436.24 L195,437.28 L195.5,438.33 L196,439.39 L196.5,440.48 L197,441.6 L197.5,442.71 L198,443.83 L198.5,444.95 L199,446.06 L199.5,447.21 L200,448.43 L200.5,449.65 L201,450.88 L201.5,452.1 L202,453.28 L202.5,454.33 L203,455.33 L203.5,456.34 L204,457.34 L204.5,458.34 L205,459.34 L205.5,460.33 L206,461.26 L206.5,462.09 L207,462.89 L207.5,463.68 L208,464.47 L208.5,465.26 L209,466.05 L209.5,466.84 L210,467.64 L210.5,468.42 L211,469.17 L211.5,469.82 L212,470.4 L212.5,470.95 L213,471.5 L213.5,472.04 L214,472.59 L214.5,473.13 L215,473.68 L215.5,474.22 L216,474.75 L216.5,475.23 L217,475.66 L217.5,476.06 L218,476.44 L218.5,476.82 L219,477.19 L219.5,477.55 L220,477.89 L220.5,478.2 L221,478.46 L221.5,478.69 L222,478.91 L222.5,479.11 L223,479.31 L223.5,479.51 L224,479.7 L224.5,479.89 L225,480.06 L225.5,480.22 L226,480.36 L226.5,480.48 L227,480.6 L227.5,480.71 L228,480.81 L228.5,480.9 L229,481 L229.5,481.08 L230,481.16 L230.5,481.22 L231,481.28 L231.5,481.34 L232,481.38 L232.5,481.43 L233,481.47 L233.5,481.51 L234,481.56 L234.5,481.59 L235,481.63 L235.5,481.66 L236,481.69 L236.5,481.72 L237,481.73 L237.5,481.75 L238,481.76 L238.5,481.77 L239,481.78 L239.5,481.79 L240,481.8 L240.5,481.82 L241,481.83 L241.5,481.84 L242,481.85 L242.5,481.87 L243,481.88 L243.5,481.9 L244,481.91 L244.5,481.92 L245,481.94 L245.5,481.95 L246,481.97 L246.5,481.98 L247,482 L247.5,482.01 L248,482.02 L248.5,482.04 L249,482.05 L249.5,482.07 L250,482.08 L250.5,482.09 L251,482.11 L251.5,482.12 L252,482.14 L252.5,482.15 L253,482.16 L253.5,482.17 L254,482.18 L254.5,482.19 L255,482.19 L255.5,482.2 L256,482.2 L256.5,482.21 L257,482.21 L257.5,482.22 L258,482.22 L258.5,482.23 L259,482.23 L259.5,482.24 L260,482.24 L260.5,482.25 L261,482.25 L261.5,482.26 L262,482.26 L262.5,482.27 L263,482.27 L263.5,482.28 L264,482.28 L264.5,482.29 L265,482.29 L265.5,482.29 L266,482.29 L266.5,482.3 L267,482.3 L267.5,482.3 L268,482.3 L268.5,482.3 L269,482.3 L269.5,482.3 L270,482.3 L270.5,482.3 L271,482.31 L271.5,482.31 L272,482.31 L272.5,482.31 L273,482.31 L273.5,482.31 L274,482.32 L274.5,482.33 L275,482.34 L275.5,482.35 L276,482.37 L276.5,482.38 L277,482.4 L277.5,482.42 L278,482.44 L278.5,482.46 L279,482.48 L279.5,482.5 L280,482.52 L280.5,482.54 L281,482.55 L281.5,482.57 L282,482.59 L282.5,482.61 L283,482.63 L283.5,482.65 L284,482.67 L284.5,482.69 L285,482.71 L285.5,482.73 L286,482.75 L286.5,482.77 L287,482.79 L287.5,482.8 L288,482.82 L288.5,482.84 L289,482.86 L289.5,482.88 L290,482.89 L290.5,482.91 L291,482.93 L291.5,482.94 L292,482.96 L292.5,482.97 L293,482.98 L293.5,483 L294,483.01 L294.5,483.03 L295,483.04 L295.5,483.05 L296,483.07 L296.5,483.08 L297,483.09 L297.5,483.1 L298,483.12 L298.5,483.13 L299,483.14 L299.5,483.16 L300,483.17 L300.5,483.18 L301,483.19 L301.5,483.21 L302,483.22 L302.5,483.23 L303,483.24 L303.5,483.26 L304,483.27 L304.5,483.28 L305,483.29 L305.5,483.31 L306,483.32 L306.5,483.33 L307,483.35 L307.5,483.36 L308,483.37 L308.5,483.38 L309,483.4 L309.5,483.41 L310,483.42 L310.5,483.43 L311,483.45 L311.5,483.46 L312,483.47 L312.5,483.48 L313,483.5 L313.5,483.51 L314,483.52 L314.5,483.54 L315,483.55 L315.5,483.56 L316,483.57 L316.5,483.58 L317,483.59 L317.5,483.6 L318,483.61 L318.5,483.62 L319,483.63 L319.5,483.64 L320,483.64 L320.5,483.65 L321,483.66 L321.5,483.67 L322,483.67 L322.5,483.68 L323,483.69 L323.5,483.69 L324,483.7 L324.5,483.71 L325,483.72 L325.5,483.72 L326,483.73 L326.5,483.74 L327,483.75 L327.5,483.75 L328,483.76 L328.5,483.77 L329,483.78 L329.5,483.78 L330,483.79 L330.5,483.8 L331,483.81 L331.5,483.81 L332,483.81 L332.5,483.81" fill="none" stroke="#a8a8a8" stroke-width="0.8" stroke-linejoin="round" stroke-linecap="butt" />
<path d="M60,25.2 L60.5,30.02 L61,34.85 L61.5,39.67 L62,44.5 L62.5,49.32 L63,54.15 L63.5,58.97 L64,63.8 L64.5,68.62 L65,73.45 L65.5,78.27 L66,83.1 L66.5,87.93 L67,92.75 L67.5,97.58 L68,102.4 L68.5,107.23 L69,112.05 L69.5,116.88 L70,121.7 L70.5,126.53 L71,131.35 L71.5,136.18 L72,141 L72.5,145.83 L73,150.65 L73.5,155.48 L74,160.31 L74.5,165.13 L75,169.96 L75.5,174.78 L76,179.61 L76.5,184.43 L77,189.26 L77.5,194.08 L78,198.91 L78.5,203.73 L79,208.56 L79.5,213.38 L80,218.21 L80.5,223.04 L81,227.99 L81.5,232.99 L82,237.98 L82.5,242.78 L83,246.94 L83.5,251.08 L84,255.22 L84.5,259.35 L85,263.45 L85.5,266.67 L86,269.6 L86.5,272.55 L87,275.67 L87.5,278.94 L88,282.21 L88.5,285.41 L89,288 L89.5,290.36 L90,292.7 L90.5,295.05 L91,297.4 L91.5,299.73 L92,301.96 L92.5,304.01 L93,306.01 L93.5,308.01 L94,310.01 L94.5,312.01 L95,313.99 L95.5,315.86 L96,317.55 L96.5,319.14 L97,320.68 L97.5,322.22 L98,323.75 L98.5,325.28 L99,326.81 L99.5,328.31 L100,329.78 L100.5,331.22 L101,332.64 L101.5,334.04 L102,335.43 L102.5,336.82 L103,338.2 L103.5,339.58 L104,340.95 L104.5,342.31 L105,343.66 L105.5,345 L106,346.55 L106.5,348.09 L107,349.61 L107.5,351.13 L108,352.63 L108.5,354.11 L109,355.57 L109.5,357.01 L110,358.44 L110.5,359.86 L111,361.28 L111.5,362.69 L112,364.09 L112.5,365.51 L113,366.94 L113.5,368.39 L114,369.85 L114.5,371.33 L115,372.82 L115.5,374.3 L116,375.78 L116.5,377.25 L117,378.7 L117.5,380.14 L118,381.56 L118.5,382.98 L119,384.41 L119.5,385.87 L120,387.35 L120.5,388.79 L121,390.21 L121.5,391.63 L122,393.05 L122.5,394.46 L123,395.87 L123.5,397.26 L124,398.59 L124.5,399.87 L125,401.17 L125.5,402.5 L126,403.86 L126.5,405.22 L127,406.57 L127.5,407.93 L128,409.28 L128.5,410.61 L129,411.89 L129.5,413.16 L130,414.41 L130.5,415.67 L131,416.94 L131.5,418.2 L132,419.46 L132.5,420.72 L133,421.98 L133.5,423.24 L134,424.49 L134.5,425.71 L135,426.89 L135.5,428.04 L136,429.17 L136.5,430.29 L137,431.41 L137.5,432.53 L138,433.65 L138.5,434.75 L139,435.81 L139.5,436.85 L140,437.87 L140.5,438.88 L141,439.89 L141.5,440.88 L142,441.86 L142.5,442.81 L143,443.74 L143.5,444.65 L144,445.56 L144.5,446.46 L145,447.35 L145.5,448.25 L146,449.13 L146.5,449.98 L147,450.77 L147.5,451.49 L148,452.17 L148.5,452.83 L149,453.47 L149.5,454.1 L150,454.73 L150.5,455.36 L151,455.94 L151.5,456.42 L152,456.88 L152.5,457.27 L153,457.6 L153.5,457.87 L154,458.1 L154.5,458.33 L155,458.54 L155.5,458.76 L156,458.96 L156.5,459.17 L157,459.35 L157.5,459.5 L158,459.6 L158.5,459.66 L159,459.69 L159.5,459.68 L160,459.65 L160.5,459.61 L161,459.55 L161.5,459.5 L162,459.44 L162.5,459.37 L163,459.29 L163.5,459.21 L164,459.11 L164.5,459 L165,458.87 L165.5,458.73 L166,458.58 L166.5,458.41 L167,458.25 L167.5,458.09 L168,457.94 L168.5,457.79 L169,457.65 L169.5,457.5 L170,457.36 L170.5,457.21 L171,457.06 L171.5,456.9 L172,456.74 L172.5,456.58 L173,456.42 L173.5,456.27 L174,456.13 L174.5,455.98 L175,455.83 L175.5,455.69 L176,455.54 L176.5,455.39 L177,455.26 L177.5,455.14 L178,455.05 L178.5,454.98 L179,454.93 L179.5,454.89 L180,454.85 L180.5,454.82 L181,454.8 L181.5,454.78 L182,454.78 L182.5,454.79 L183,454.83 L183.5,454.88 L184,454.95 L184.5,455.03 L185,455.11 L185.5,455.2 L186,455.3 L186.5,455.41 L187,455.55 L187.5,455.73 L188,455.96 L188.5,456.21 L189,456.46 L189.5,456.72 L190,457 L190.5,457.34 L191,457.75 L191.5,458.2 L192,458.65 L192.5,459.09 L193,459.56 L193.5,460.07 L194,460.59 L194.5,461.1 L195,461.62 L195.5,462.13 L196,462.66 L196.5,463.2 L197,463.74 L197.5,464.3 L198,464.85 L198.5,465.39 L199,465.95 L199.5,466.51 L200,467.11 L200.5,467.71 L201,468.31 L201.5,468.91 L202,469.49 L202.5,470 L203,470.5 L203.5,470.99 L204,471.48 L204.5,471.97 L205,472.46 L205.5,472.95 L206,473.41 L206.5,473.81 L207,474.21 L207.5,474.6 L208,474.98 L208.5,475.37 L209,475.76 L209.5,476.15 L210,476.54 L210.5,476.93 L211,477.3 L211.5,477.62 L212,477.91 L212.5,478.18 L213,478.45 L213.5,478.72 L214,478.99 L214.5,479.26 L215,479.53 L215.5,479.79 L216,480.05 L216.5,480.29 L217,480.51 L217.5,480.71 L218,480.9 L218.5,481.08 L219,481.27 L219.5,481.45 L220,481.62 L220.5,481.77 L221,481.9 L221.5,482.02 L222,482.13 L222.5,482.24 L223,482.34 L223.5,482.44 L224,482.54 L224.5,482.63 L225,482.72 L225.5,482.8 L226,482.87 L226.5,482.94 L227,483 L227.5,483.06 L228,483.11 L228.5,483.16 L229,483.21 L229.5,483.26 L230,483.3 L230.5,483.34 L231,483.37 L231.5,483.4 L232,483.43 L232.5,483.45 L233,483.48 L233.5,483.5 L234,483.53 L234.5,483.55 L235,483.57 L235.5,483.59 L236,483.61 L236.5,483.63 L237,483.64 L237.5,483.65 L238,483.66 L238.5,483.67 L239,483.68 L239.5,483.7 L240,483.71 L240.5,483.72 L241,483.74 L241.5,483.75 L242,483.77 L242.5,483.79 L243,483.8 L243.5,483.82 L244,483.84 L244.5,483.85 L245,483.87 L245.5,483.89 L246,483.91 L246.5,483.92 L247,483.94 L247.5,483.96 L248,483.97 L248.5,483.99 L249,484.01 L249.5,484.03 L250,484.04 L250.5,484.06 L251,484.08 L251.5,484.09 L252,484.11 L252.5,484.13 L253,484.14 L253.5,484.16 L254,484.17 L254.5,484.19 L255,484.2 L255.5,484.21 L256,484.23 L256.5,484.24 L257,484.25 L257.5,484.26 L258,484.28 L258.5,484.29 L259,484.3 L259.5,484.31 L260,484.33 L260.5,484.34 L261,484.35 L261.5,484.37 L262,484.38 L262.5,484.39 L263,484.4 L263.5,484.41 L264,484.43 L264.5,484.44 L265,484.45 L265.5,484.46 L266,484.47 L266.5,484.47 L267,484.48 L267.5,484.49 L268,484.49 L268.5,484.5 L269,484.51 L269.5,484.51 L270,484.52 L270.5,484.53 L271,484.53 L271.5,484.54 L272,484.55 L272.5,484.55 L273,484.56 L273.5,484.57 L274,484.58 L274.5,484.59 L275,484.6 L275.5,484.61 L276,484.63 L276.5,484.64 L277,484.65 L277.5,484.67 L278,484.69 L278.5,484.7 L279,484.72 L279.5,484.73 L280,484.75 L280.5,484.76 L281,484.78 L281.5,484.79 L282,484.81 L282.5,484.83 L283,484.84 L283.5,484.86 L284,484.87 L284.5,484.89 L285,484.9 L285.5,484.92 L286,484.93 L286.5,484.95 L287,484.96 L287.5,484.98 L288,485 L288.5,485.01 L289,485.02 L289.5,485.04 L290,485.05 L290.5,485.06 L291,485.07 L291.5,485.08 L292,485.09 L292.5,485.09 L293,485.1 L293.5,485.11 L294,485.12 L294.5,485.12 L295,485.13 L295.5,485.14 L296,485.15 L296.5,485.15 L297,485.16 L297.5,485.17 L298,485.17 L298.5,485.18 L299,485.19 L299.5,485.19 L300,485.2 L300.5,485.21 L301,485.21 L301.5,485.22 L302,485.23 L302.5,485.23 L303,485.24 L303.5,485.25 L304,485.25 L304.5,485.26 L305,485.27 L305.5,485.27 L306,485.28 L306.5,485.29 L307,485.29 L307.5,485.3 L308,485.31 L308.5,485.32 L309,485.32 L309.5,485.33 L310,485.34 L310.5,485.34 L311,485.35 L311.5,485.36 L312,485.36 L312.5,485.37 L313,485.38 L313.5,485.38 L314,485.39 L314.5,485.4 L315,485.4 L315.5,485.41 L316,485.42 L316.5,485.42 L317,485.43 L317.5,485.43 L318,485.44 L318.5,485.44 L319,485.45 L319.5,485.45 L320,485.46 L320.5,485.46 L321,485.46 L321.5,485.47 L322,485.47 L322.5,485.48 L323,485.48 L323.5,485.48 L324,485.49 L324.5,485.49 L325,485.5 L325.5,485.5 L326,485.51 L326.5,485.51 L327,485.51 L327.5,485.52 L328,485.52 L328.5,485.53 L329,485.53 L329.5,485.54 L330,485.54 L330.5,485.54 L331,485.55 L331.5,485.55 L332,485.55 L332.5,485.55" fill="none" stroke="#a8a8a8" stroke-width="0.8" stroke-linejoin="round" stroke-linecap="butt" />
<path d="M60,15.53 L60.5,21 L61,26.46 L61.5,31.93 L62,37.4 L62.5,42.87 L63,48.33 L63.5,53.8 L64,59.27 L64.5,64.73 L65,70.2 L65.5,75.67 L66,81.13 L66.5,86.6 L67,92.07 L67.5,97.53 L68,103 L68.5,108.47 L69,113.93 L69.5,119.4 L70,124.87 L70.5,130.34 L71,135.8 L71.5,141.27 L72,146.74 L72.5,152.2 L73,157.67 L73.5,163.14 L74,168.6 L74.5,174.07 L75,179.54 L75.5,185 L76,190.47 L76.5,195.94 L77,201.4 L77.5,206.87 L78,212.34 L78.5,217.81 L79,223.27 L79.5,228.74 L80,234.21 L80.5,239.68 L81,245.31 L81.5,250.99 L82,256.67 L82.5,262.11 L83,266.73 L83.5,271.32 L84,275.91 L84.5,280.5 L85,285.04 L85.5,288.46 L86,291.52 L86.5,294.59 L87,297.9 L87.5,301.39 L88,304.87 L88.5,308.26 L89,310.89 L89.5,313.22 L90,315.53 L90.5,317.84 L91,320.15 L91.5,322.45 L92,324.61 L92.5,326.55 L93,328.42 L93.5,330.29 L94,332.16 L94.5,334.02 L95,335.87 L95.5,337.57 L96,339.06 L96.5,340.4 L97,341.7 L97.5,342.98 L98,344.25 L98.5,345.53 L99,346.79 L99.5,348.03 L100,349.23 L100.5,350.39 L101,351.52 L101.5,352.62 L102,353.72 L102.5,354.81 L103,355.9 L103.5,356.99 L104,358.06 L104.5,359.13 L105,360.18 L105.5,361.22 L106,362.43 L106.5,363.63 L107,364.82 L107.5,365.99 L108,367.16 L108.5,368.31 L109,369.43 L109.5,370.55 L110,371.66 L110.5,372.76 L111,373.86 L111.5,374.96 L112,376.05 L112.5,377.16 L113,378.29 L113.5,379.44 L114,380.62 L114.5,381.82 L115,383.02 L115.5,384.23 L116,385.43 L116.5,386.62 L117,387.8 L117.5,388.96 L118,390.12 L118.5,391.28 L119,392.46 L119.5,393.66 L120,394.91 L120.5,396.16 L121,397.41 L121.5,398.66 L122,399.9 L122.5,401.14 L123,402.38 L123.5,403.61 L124,404.8 L124.5,405.97 L125,407.18 L125.5,408.44 L126,409.72 L126.5,411 L127,412.28 L127.5,413.56 L128,414.84 L128.5,416.1 L129,417.34 L129.5,418.56 L130,419.79 L130.5,421.01 L131,422.24 L131.5,423.47 L132,424.7 L132.5,425.93 L133,427.16 L133.5,428.39 L134,429.61 L134.5,430.81 L135,431.99 L135.5,433.13 L136,434.26 L136.5,435.38 L137,436.5 L137.5,437.61 L138,438.73 L138.5,439.83 L139,440.92 L139.5,441.99 L140,443.05 L140.5,444.1 L141,445.16 L141.5,446.2 L142,447.22 L142.5,448.22 L143,449.21 L143.5,450.19 L144,451.16 L144.5,452.13 L145,453.11 L145.5,454.08 L146,455.04 L146.5,455.96 L147,456.83 L147.5,457.64 L148,458.4 L148.5,459.14 L149,459.88 L149.5,460.62 L150,461.35 L150.5,462.09 L151,462.78 L151.5,463.4 L152,463.99 L152.5,464.52 L153,464.99 L153.5,465.4 L154,465.78 L154.5,466.14 L155,466.49 L155.5,466.84 L156,467.19 L156.5,467.53 L157,467.86 L157.5,468.17 L158,468.44 L158.5,468.67 L159,468.86 L159.5,469.02 L160,469.15 L160.5,469.26 L161,469.36 L161.5,469.46 L162,469.55 L162.5,469.64 L163,469.72 L163.5,469.79 L164,469.85 L164.5,469.89 L165,469.92 L165.5,469.92 L166,469.91 L166.5,469.9 L167,469.88 L167.5,469.86 L168,469.84 L168.5,469.82 L169,469.81 L169.5,469.79 L170,469.78 L170.5,469.76 L171,469.74 L171.5,469.71 L172,469.67 L172.5,469.63 L173,469.58 L173.5,469.54 L174,469.49 L174.5,469.44 L175,469.4 L175.5,469.35 L176,469.3 L176.5,469.25 L177,469.21 L177.5,469.17 L178,469.15 L178.5,469.14 L179,469.14 L179.5,469.14 L180,469.15 L180.5,469.16 L181,469.17 L181.5,469.19 L182,469.21 L182.5,469.23 L183,469.26 L183.5,469.3 L184,469.35 L184.5,469.4 L185,469.45 L185.5,469.5 L186,469.56 L186.5,469.62 L187,469.7 L187.5,469.8 L188,469.92 L188.5,470.06 L189,470.19 L189.5,470.33 L190,470.48 L190.5,470.66 L191,470.88 L191.5,471.11 L192,471.35 L192.5,471.58 L193,471.83 L193.5,472.1 L194,472.37 L194.5,472.64 L195,472.91 L195.5,473.18 L196,473.45 L196.5,473.73 L197,474.02 L197.5,474.31 L198,474.59 L198.5,474.88 L199,475.17 L199.5,475.46 L200,475.77 L200.5,476.09 L201,476.4 L201.5,476.71 L202,477.01 L202.5,477.27 L203,477.53 L203.5,477.79 L204,478.04 L204.5,478.3 L205,478.55 L205.5,478.8 L206,479.04 L206.5,479.25 L207,479.46 L207.5,479.66 L208,479.86 L208.5,480.07 L209,480.27 L209.5,480.47 L210,480.67 L210.5,480.88 L211,481.07 L211.5,481.24 L212,481.39 L212.5,481.53 L213,481.67 L213.5,481.81 L214,481.96 L214.5,482.1 L215,482.24 L215.5,482.38 L216,482.52 L216.5,482.64 L217,482.76 L217.5,482.86 L218,482.96 L218.5,483.06 L219,483.16 L219.5,483.26 L220,483.35 L220.5,483.43 L221,483.5 L221.5,483.57 L222,483.63 L222.5,483.69 L223,483.74 L223.5,483.8 L224,483.85 L224.5,483.9 L225,483.95 L225.5,484 L226,484.04 L226.5,484.08 L227,484.11 L227.5,484.15 L228,484.18 L228.5,484.21 L229,484.24 L229.5,484.27 L230,484.29 L230.5,484.31 L231,484.34 L231.5,484.36 L232,484.37 L232.5,484.39 L233,484.41 L233.5,484.43 L234,484.44 L234.5,484.46 L235,484.47 L235.5,484.49 L236,484.5 L236.5,484.52 L237,484.53 L237.5,484.54 L238,484.55 L238.5,484.56 L239,484.57 L239.5,484.58 L240,484.59 L240.5,484.61 L241,484.62 L241.5,484.64 L242,484.66 L242.5,484.67 L243,484.69 L243.5,484.71 L244,484.73 L244.5,484.75 L245,484.77 L245.5,484.79 L246,484.8 L246.5,484.82 L247,484.84 L247.5,484.86 L248,484.88 L248.5,484.9 L249,484.92 L249.5,484.93 L250,484.95 L250.5,484.97 L251,484.99 L251.5,485.01 L252,485.03 L252.5,485.04 L253,485.06 L253.5,485.08 L254,485.1 L254.5,485.11 L255,485.13 L255.5,485.15 L256,485.16 L256.5,485.18 L257,485.2 L257.5,485.21 L258,485.23 L258.5,485.25 L259,485.26 L259.5,485.28 L260,485.29 L260.5,485.31 L261,485.33 L261.5,485.34 L262,485.36 L262.5,485.37 L263,485.39 L263.5,485.41 L264,485.42 L264.5,485.44 L265,485.45 L265.5,485.46 L266,485.47 L266.5,485.48 L267,485.49 L267.5,485.5 L268,485.51 L268.5,485.52 L269,485.53 L269.5,485.54 L270,485.55 L270.5,485.56 L271,485.57 L271.5,485.58 L272,485.59 L272.5,485.6 L273,485.61 L273.5,485.62 L274,485.63 L274.5,485.64 L275,485.65 L275.5,485.66 L276,485.67 L276.5,485.69 L277,485.7 L277.5,485.71 L278,485.73 L278.5,485.74 L279,485.75 L279.5,485.77 L280,485.78 L280.5,485.8 L281,485.81 L281.5,485.82 L282,485.84 L282.5,485.85 L283,485.87 L283.5,485.88 L284,485.89 L284.5,485.91 L285,485.92 L285.5,485.93 L286,485.95 L286.5,485.96 L287,485.98 L287.5,485.99 L288,486 L288.5,486.02 L289,486.03 L289.5,486.04 L290,486.05 L290.5,486.06 L291,486.06 L291.5,486.07 L292,486.08 L292.5,486.08 L293,486.08 L293.5,486.09 L294,486.09 L294.5,486.1 L295,486.1 L295.5,486.11 L296,486.11 L296.5,486.11 L297,486.12 L297.5,486.12 L298,486.13 L298.5,486.13 L299,486.13 L299.5,486.14 L300,486.14 L300.5,486.15 L301,486.15 L301.5,486.15 L302,486.16 L302.5,486.16 L303,486.17 L303.5,486.17 L304,486.17 L304.5,486.18 L305,486.18 L305.5,486.19 L306,486.19 L306.5,486.2 L307,486.2 L307.5,486.2 L308,486.21 L308.5,486.21 L309,486.22 L309.5,486.22 L310,486.22 L310.5,486.23 L311,486.23 L311.5,486.24 L312,486.24 L312.5,486.24 L313,486.25 L313.5,486.25 L314,486.26 L314.5,486.26 L315,486.26 L315.5,486.27 L316,486.27 L316.5,486.27 L317,486.28 L317.5,486.28 L318,486.28 L318.5,486.29 L319,486.29 L319.5,486.29 L320,486.3 L320.5,486.3 L321,486.3 L321.5,486.3 L322,486.31 L322.5,486.31 L323,486.31 L323.5,486.32 L324,486.32 L324.5,486.32 L325,486.32 L325.5,486.33 L326,486.33 L326.5,486.33 L327,486.33 L327.5,486.34 L328,486.34 L328.5,486.34 L329,486.35 L329.5,486.35 L330,486.35 L330.5,486.35 L331,486.36 L331.5,486.36 L332,486.36 L332.5,486.36" fill="none" stroke="#a8a8a8" stroke-width="0.8" stroke-linejoin="round" stroke-linecap="butt" />
<path d="M60,9.09 L60.5,14.98 L61,20.88 L61.5,26.77 L62,32.67 L62.5,38.56 L63,44.45 L63.5,50.35 L64,56.24 L64.5,62.14 L65,68.03 L65.5,73.93 L66,79.82 L66.5,85.72 L67,91.61 L67.5,97.51 L68,103.4 L68.5,109.3 L69,115.19 L69.5,121.08 L70,126.98 L70.5,132.87 L71,138.77 L71.5,144.66 L72,150.56 L72.5,156.45 L73,162.35 L73.5,168.24 L74,174.14 L74.5,180.03 L75,185.92 L75.5,191.82 L76,197.71 L76.5,203.61 L77,209.5 L77.5,215.4 L78,221.29 L78.5,227.19 L79,233.08 L79.5,238.98 L80,244.87 L80.5,250.77 L81,256.86 L81.5,262.99 L82,269.13 L82.5,275 L83,279.92 L83.5,284.81 L84,289.71 L84.5,294.6 L85,299.43 L85.5,302.99 L86,306.14 L86.5,309.29 L87,312.72 L87.5,316.35 L88,319.98 L88.5,323.5 L89,326.15 L89.5,328.46 L90,330.75 L90.5,333.03 L91,335.32 L91.5,337.6 L92,339.71 L92.5,341.57 L93,343.36 L93.5,345.14 L94,346.92 L94.5,348.7 L95,350.46 L95.5,352.05 L96,353.39 L96.5,354.58 L97,355.71 L97.5,356.82 L98,357.92 L98.5,359.02 L99,360.11 L99.5,361.18 L100,362.2 L100.5,363.17 L101,364.1 L101.5,365.01 L102,365.91 L102.5,366.81 L103,367.7 L103.5,368.59 L104,369.47 L104.5,370.34 L105,371.2 L105.5,372.03 L106,372.97 L106.5,373.89 L107,374.81 L107.5,375.71 L108,376.6 L108.5,377.49 L109,378.36 L109.5,379.22 L110,380.08 L110.5,380.94 L111,381.79 L111.5,382.64 L112,383.5 L112.5,384.38 L113,385.28 L113.5,386.21 L114,387.18 L114.5,388.17 L115,389.17 L115.5,390.17 L116,391.17 L116.5,392.16 L117,393.15 L117.5,394.12 L118,395.09 L118.5,396.07 L119,397.07 L119.5,398.11 L120,399.2 L120.5,400.31 L121,401.43 L121.5,402.56 L122,403.68 L122.5,404.8 L123,405.92 L123.5,407.03 L124,408.13 L124.5,409.22 L125,410.36 L125.5,411.55 L126,412.76 L126.5,413.99 L127,415.21 L127.5,416.43 L128,417.65 L128.5,418.85 L129,420.05 L129.5,421.23 L130,422.41 L130.5,423.6 L131,424.79 L131.5,425.99 L132,427.18 L132.5,428.37 L133,429.56 L133.5,430.76 L134,431.94 L134.5,433.12 L135,434.27 L135.5,435.39 L136,436.5 L136.5,437.59 L137,438.68 L137.5,439.78 L138,440.87 L138.5,441.95 L139,443.03 L139.5,444.09 L140,445.14 L140.5,446.19 L141,447.24 L141.5,448.28 L142,449.29 L142.5,450.29 L143,451.27 L143.5,452.25 L144,453.23 L144.5,454.2 L145,455.17 L145.5,456.14 L146,457.1 L146.5,458.03 L147,458.89 L147.5,459.69 L148,460.46 L148.5,461.2 L149,461.94 L149.5,462.68 L150,463.41 L150.5,464.15 L151,464.86 L151.5,465.51 L152,466.14 L152.5,466.72 L153,467.23 L153.5,467.69 L154,468.1 L154.5,468.5 L155,468.9 L155.5,469.29 L156,469.68 L156.5,470.07 L157,470.44 L157.5,470.8 L158,471.12 L158.5,471.4 L159,471.65 L159.5,471.85 L160,472.03 L160.5,472.18 L161,472.33 L161.5,472.48 L162,472.62 L162.5,472.75 L163,472.88 L163.5,473 L164,473.11 L164.5,473.2 L165,473.27 L165.5,473.32 L166,473.35 L166.5,473.38 L167,473.4 L167.5,473.42 L168,473.45 L168.5,473.47 L169,473.5 L169.5,473.52 L170,473.55 L170.5,473.57 L171,473.58 L171.5,473.59 L172,473.59 L172.5,473.58 L173,473.57 L173.5,473.56 L174,473.55 L174.5,473.53 L175,473.51 L175.5,473.49 L176,473.47 L176.5,473.45 L177,473.43 L177.5,473.43 L178,473.43 L178.5,473.43 L179,473.45 L179.5,473.47 L180,473.49 L180.5,473.51 L181,473.53 L181.5,473.56 L182,473.58 L182.5,473.61 L183,473.64 L183.5,473.68 L184,473.72 L184.5,473.75 L185,473.79 L185.5,473.84 L186,473.88 L186.5,473.93 L187,473.99 L187.5,474.07 L188,474.16 L188.5,474.26 L189,474.36 L189.5,474.46 L190,474.57 L190.5,474.7 L191,474.86 L191.5,475.03 L192,475.2 L192.5,475.37 L193,475.55 L193.5,475.74 L194,475.94 L194.5,476.13 L195,476.33 L195.5,476.53 L196,476.72 L196.5,476.93 L197,477.13 L197.5,477.34 L198,477.55 L198.5,477.76 L199,477.97 L199.5,478.18 L200,478.4 L200.5,478.63 L201,478.85 L201.5,479.07 L202,479.29 L202.5,479.48 L203,479.66 L203.5,479.85 L204,480.03 L204.5,480.21 L205,480.4 L205.5,480.58 L206,480.75 L206.5,480.9 L207,481.05 L207.5,481.2 L208,481.34 L208.5,481.49 L209,481.63 L209.5,481.78 L210,481.93 L210.5,482.07 L211,482.21 L211.5,482.33 L212,482.44 L212.5,482.55 L213,482.65 L213.5,482.75 L214,482.86 L214.5,482.96 L215,483.06 L215.5,483.16 L216,483.26 L216.5,483.36 L217,483.44 L217.5,483.52 L218,483.59 L218.5,483.66 L219,483.74 L219.5,483.81 L220,483.87 L220.5,483.93 L221,483.99 L221.5,484.04 L222,484.08 L222.5,484.12 L223,484.17 L223.5,484.21 L224,484.25 L224.5,484.29 L225,484.33 L225.5,484.36 L226,484.39 L226.5,484.42 L227,484.45 L227.5,484.48 L228,484.5 L228.5,484.53 L229,484.55 L229.5,484.57 L230,484.59 L230.5,484.61 L231,484.63 L231.5,484.65 L232,484.66 L232.5,484.68 L233,484.69 L233.5,484.71 L234,484.72 L234.5,484.73 L235,484.75 L235.5,484.76 L236,484.77 L236.5,484.78 L237,484.79 L237.5,484.8 L238,484.81 L238.5,484.82 L239,484.84 L239.5,484.85 L240,484.86 L240.5,484.87 L241,484.89 L241.5,484.91 L242,484.93 L242.5,484.94 L243,484.96 L243.5,484.98 L244,485 L244.5,485.02 L245,485.04 L245.5,485.06 L246,485.08 L246.5,485.1 L247,485.11 L247.5,485.13 L248,485.15 L248.5,485.17 L249,485.19 L249.5,485.21 L250,485.23 L250.5,485.25 L251,485.27 L251.5,485.29 L252,485.3 L252.5,485.32 L253,485.34 L253.5,485.36 L254,485.38 L254.5,485.4 L255,485.41 L255.5,485.43 L256,485.45 L256.5,485.47 L257,485.48 L257.5,485.5 L258,485.52 L258.5,485.53 L259,485.55 L259.5,485.57 L260,485.59 L260.5,485.6 L261,485.62 L261.5,485.64 L262,485.66 L262.5,485.67 L263,485.69 L263.5,485.71 L264,485.72 L264.5,485.74 L265,485.75 L265.5,485.77 L266,485.78 L266.5,485.79 L267,485.8 L267.5,485.81 L268,485.82 L268.5,485.83 L269,485.84 L269.5,485.85 L270,485.86 L270.5,485.87 L271,485.88 L271.5,485.89 L272,485.9 L272.5,485.91 L273,485.92 L273.5,485.93 L274,485.94 L274.5,485.95 L275,485.97 L275.5,485.98 L276,485.99 L276.5,486 L277,486.02 L277.5,486.03 L278,486.04 L278.5,486.06 L279,486.07 L279.5,486.08 L280,486.1 L280.5,486.11 L281,486.12 L281.5,486.14 L282,486.15 L282.5,486.16 L283,486.18 L283.5,486.19 L284,486.2 L284.5,486.22 L285,486.23 L285.5,486.24 L286,486.26 L286.5,486.27 L287,486.28 L287.5,486.3 L288,486.31 L288.5,486.32 L289,486.33 L289.5,486.34 L290,486.35 L290.5,486.36 L291,486.37 L291.5,486.37 L292,486.37 L292.5,486.38 L293,486.38 L293.5,486.39 L294,486.39 L294.5,486.39 L295,486.4 L295.5,486.4 L296,486.4 L296.5,486.41 L297,486.41 L297.5,486.41 L298,486.42 L298.5,486.42 L299,486.42 L299.5,486.43 L300,486.43 L300.5,486.43 L301,486.43 L301.5,486.44 L302,486.44 L302.5,486.44 L303,486.45 L303.5,486.45 L304,486.45 L304.5,486.46 L305,486.46 L305.5,486.46 L306,486.47 L306.5,486.47 L307,486.47 L307.5,486.48 L308,486.48 L308.5,486.48 L309,486.49 L309.5,486.49 L310,486.49 L310.5,486.5 L311,486.5 L311.5,486.5 L312,486.51 L312.5,486.51 L313,486.51 L313.5,486.52 L314,486.52 L314.5,486.52 L315,486.52 L315.5,486.53 L316,486.53 L316.5,486.53 L317,486.54 L317.5,486.54 L318,486.54 L318.5,486.54 L319,486.55 L319.5,486.55 L320,486.55 L320.5,486.55 L321,486.56 L321.5,486.56 L322,486.56 L322.5,486.56 L323,486.56 L323.5,486.57 L324,486.57 L324.5,486.57 L325,486.57 L325.5,486.58 L326,486.58 L326.5,486.58 L327,486.58 L327.5,486.59 L328,486.59 L328.5,486.59 L329,486.59 L329.5,486.59 L330,486.6 L330.5,486.6 L331,486.6 L331.5,486.6 L332,486.6 L332.5,486.6" fill="none" stroke="#a8a8a8" stroke-width="0.8" stroke-linejoin="round" stroke-linecap="butt" />
<path d="M60,4.58 L60.5,10.77 L61,16.96 L61.5,23.16 L62,29.35 L62.5,35.55 L63,41.74 L63.5,47.93 L64,54.13 L64.5,60.32 L65,66.52 L65.5,72.71 L66,78.9 L66.5,85.1 L67,91.29 L67.5,97.49 L68,103.68 L68.5,109.87 L69,116.07 L69.5,122.26 L70,128.46 L70.5,134.65 L71,140.84 L71.5,147.04 L72,153.23 L72.5,159.43 L73,165.62 L73.5,171.81 L74,178.01 L74.5,184.2 L75,190.4 L75.5,196.59 L76,202.78 L76.5,208.98 L77,215.17 L77.5,221.37 L78,227.56 L78.5,233.75 L79,239.95 L79.5,246.14 L80,252.34 L80.5,258.53 L81,264.94 L81.5,271.4 L82,277.86 L82.5,284.02 L83,289.15 L83.5,294.26 L84,299.36 L84.5,304.47 L85,309.5 L85.5,313.16 L86,316.37 L86.5,319.58 L87,323.09 L87.5,326.82 L88,330.56 L88.5,334.17 L89,336.83 L89.5,339.12 L90,341.4 L90.5,343.67 L91,345.94 L91.5,348.2 L92,350.28 L92.5,352.09 L93,353.82 L93.5,355.54 L94,357.26 L94.5,358.98 L95,360.67 L95.5,362.19 L96,363.43 L96.5,364.5 L97,365.51 L97.5,366.5 L98,367.49 L98.5,368.47 L99,369.44 L99.5,370.38 L100,371.27 L100.5,372.11 L101,372.91 L101.5,373.68 L102,374.45 L102.5,375.2 L103,375.96 L103.5,376.71 L104,377.46 L104.5,378.19 L105,378.91 L105.5,379.6 L106,380.34 L106.5,381.07 L107,381.79 L107.5,382.5 L108,383.21 L108.5,383.9 L109,384.59 L109.5,385.28 L110,385.96 L110.5,386.64 L111,387.32 L111.5,388 L112,388.7 L112.5,389.41 L113,390.15 L113.5,390.93 L114,391.75 L114.5,392.59 L115,393.45 L115.5,394.3 L116,395.16 L116.5,396.01 L117,396.86 L117.5,397.7 L118,398.54 L118.5,399.39 L119,400.27 L119.5,401.18 L120,402.16 L120.5,403.18 L121,404.21 L121.5,405.25 L122,406.29 L122.5,407.33 L123,408.37 L123.5,409.4 L124,410.42 L124.5,411.46 L125,412.54 L125.5,413.69 L126,414.86 L126.5,416.04 L127,417.22 L127.5,418.4 L128,419.57 L128.5,420.74 L129,421.9 L129.5,423.05 L130,424.21 L130.5,425.37 L131,426.54 L131.5,427.7 L132,428.87 L132.5,430.04 L133,431.2 L133.5,432.37 L134,433.53 L134.5,434.68 L135,435.82 L135.5,436.92 L136,438.01 L136.5,439.09 L137,440.16 L137.5,441.24 L138,442.31 L138.5,443.38 L139,444.45 L139.5,445.5 L140,446.55 L140.5,447.59 L141,448.64 L141.5,449.67 L142,450.68 L142.5,451.67 L143,452.65 L143.5,453.63 L144,454.6 L144.5,455.57 L145,456.54 L145.5,457.51 L146,458.46 L146.5,459.39 L147,460.25 L147.5,461.05 L148,461.81 L148.5,462.55 L149,463.28 L149.5,464.02 L150,464.75 L150.5,465.49 L151,466.2 L151.5,466.89 L152,467.54 L152.5,468.15 L153,468.69 L153.5,469.17 L154,469.61 L154.5,470.04 L155,470.46 L155.5,470.88 L156,471.3 L156.5,471.71 L157,472.12 L157.5,472.5 L158,472.86 L158.5,473.18 L159,473.45 L159.5,473.69 L160,473.89 L160.5,474.08 L161,474.26 L161.5,474.43 L162,474.61 L162.5,474.77 L163,474.93 L163.5,475.08 L164,475.22 L164.5,475.34 L165,475.44 L165.5,475.52 L166,475.58 L166.5,475.64 L167,475.69 L167.5,475.74 L168,475.79 L168.5,475.84 L169,475.89 L169.5,475.94 L170,475.99 L170.5,476.03 L171,476.08 L171.5,476.11 L172,476.13 L172.5,476.15 L173,476.16 L173.5,476.17 L174,476.17 L174.5,476.18 L175,476.18 L175.5,476.18 L176,476.18 L176.5,476.18 L177,476.18 L177.5,476.19 L178,476.2 L178.5,476.22 L179,476.24 L179.5,476.27 L180,476.3 L180.5,476.33 L181,476.36 L181.5,476.39 L182,476.42 L182.5,476.45 L183,476.48 L183.5,476.51 L184,476.55 L184.5,476.58 L185,476.61 L185.5,476.65 L186,476.69 L186.5,476.73 L187,476.77 L187.5,476.83 L188,476.9 L188.5,476.98 L189,477.06 L189.5,477.14 L190,477.22 L190.5,477.32 L191,477.44 L191.5,477.57 L192,477.7 L192.5,477.83 L193,477.96 L193.5,478.11 L194,478.26 L194.5,478.4 L195,478.55 L195.5,478.7 L196,478.85 L196.5,479 L197,479.16 L197.5,479.31 L198,479.47 L198.5,479.62 L199,479.78 L199.5,479.94 L200,480.11 L200.5,480.27 L201,480.44 L201.5,480.61 L202,480.77 L202.5,480.91 L203,481.05 L203.5,481.18 L204,481.32 L204.5,481.46 L205,481.59 L205.5,481.73 L206,481.86 L206.5,481.97 L207,482.08 L207.5,482.19 L208,482.3 L208.5,482.41 L209,482.52 L209.5,482.63 L210,482.74 L210.5,482.85 L211,482.95 L211.5,483.04 L212,483.13 L212.5,483.21 L213,483.28 L213.5,483.36 L214,483.44 L214.5,483.52 L215,483.6 L215.5,483.67 L216,483.75 L216.5,483.82 L217,483.88 L217.5,483.94 L218,484 L218.5,484.05 L219,484.11 L219.5,484.16 L220,484.21 L220.5,484.26 L221,484.3 L221.5,484.34 L222,484.38 L222.5,484.41 L223,484.44 L223.5,484.48 L224,484.51 L224.5,484.54 L225,484.57 L225.5,484.6 L226,484.62 L226.5,484.65 L227,484.67 L227.5,484.69 L228,484.71 L228.5,484.73 L229,484.75 L229.5,484.77 L230,484.79 L230.5,484.8 L231,484.82 L231.5,484.83 L232,484.85 L232.5,484.86 L233,484.87 L233.5,484.89 L234,484.9 L234.5,484.91 L235,484.93 L235.5,484.94 L236,484.95 L236.5,484.96 L237,484.97 L237.5,484.98 L238,484.99 L238.5,485 L239,485.01 L239.5,485.02 L240,485.03 L240.5,485.05 L241,485.06 L241.5,485.08 L242,485.1 L242.5,485.12 L243,485.14 L243.5,485.16 L244,485.18 L244.5,485.2 L245,485.22 L245.5,485.23 L246,485.25 L246.5,485.27 L247,485.29 L247.5,485.31 L248,485.33 L248.5,485.35 L249,485.37 L249.5,485.39 L250,485.41 L250.5,485.43 L251,485.45 L251.5,485.47 L252,485.48 L252.5,485.5 L253,485.52 L253.5,485.54 L254,485.56 L254.5,485.58 L255,485.6 L255.5,485.61 L256,485.63 L256.5,485.65 L257,485.67 L257.5,485.69 L258,485.7 L258.5,485.72 L259,485.74 L259.5,485.76 L260,485.78 L260.5,485.8 L261,485.81 L261.5,485.83 L262,485.85 L262.5,485.87 L263,485.88 L263.5,485.9 L264,485.92 L264.5,485.93 L265,485.95 L265.5,485.96 L266,485.98 L266.5,485.99 L267,486 L267.5,486.01 L268,486.02 L268.5,486.03 L269,486.04 L269.5,486.05 L270,486.06 L270.5,486.07 L271,486.08 L271.5,486.1 L272,486.11 L272.5,486.12 L273,486.13 L273.5,486.14 L274,486.15 L274.5,486.16 L275,486.17 L275.5,486.18 L276,486.2 L276.5,486.21 L277,486.22 L277.5,486.24 L278,486.25 L278.5,486.26 L279,486.27 L279.5,486.29 L280,486.3 L280.5,486.31 L281,486.33 L281.5,486.34 L282,486.35 L282.5,486.36 L283,486.38 L283.5,486.39 L284,486.4 L284.5,486.42 L285,486.43 L285.5,486.44 L286,486.46 L286.5,486.47 L287,486.48 L287.5,486.49 L288,486.51 L288.5,486.52 L289,486.53 L289.5,486.54 L290,486.55 L290.5,486.56 L291,486.56 L291.5,486.57 L292,486.57 L292.5,486.57 L293,486.58 L293.5,486.58 L294,486.58 L294.5,486.58 L295,486.59 L295.5,486.59 L296,486.59 L296.5,486.6 L297,486.6 L297.5,486.6 L298,486.6 L298.5,486.61 L299,486.61 L299.5,486.61 L300,486.61 L300.5,486.62 L301,486.62 L301.5,486.62 L302,486.62 L302.5,486.63 L303,486.63 L303.5,486.63 L304,486.64 L304.5,486.64 L305,486.64 L305.5,486.64 L306,486.65 L306.5,486.65 L307,486.65 L307.5,486.65 L308,486.66 L308.5,486.66 L309,486.66 L309.5,486.66 L310,486.67 L310.5,486.67 L311,486.67 L311.5,486.68 L312,486.68 L312.5,486.68 L313,486.68 L313.5,486.69 L314,486.69 L314.5,486.69 L315,486.69 L315.5,486.7 L316,486.7 L316.5,486.7 L317,486.7 L317.5,486.71 L318,486.71 L318.5,486.71 L319,486.71 L319.5,486.71 L320,486.72 L320.5,486.72 L321,486.72 L321.5,486.72 L322,486.72 L322.5,486.73 L323,486.73 L323.5,486.73 L324,486.73 L324.5,486.73 L325,486.74 L325.5,486.74 L326,486.74 L326.5,486.74 L327,486.74 L327.5,486.75 L328,486.75 L328.5,486.75 L329,486.75 L329.5,486.75 L330,486.76 L330.5,486.76 L331,486.76 L331.5,486.76 L332,486.76 L332.5,486.76" fill="none" stroke="#a8a8a8" stroke-width="0.8" stroke-linejoin="round" stroke-linecap="butt" />
<path d="M60,0.71 L60.5,7.16 L61,13.61 L61.5,20.06 L62,26.51 L62.5,32.96 L63,39.41 L63.5,45.86 L64,52.32 L64.5,58.77 L65,65.22 L65.5,71.67 L66,78.12 L66.5,84.57 L67,91.02 L67.5,97.47 L68,103.92 L68.5,110.37 L69,116.82 L69.5,123.27 L70,129.72 L70.5,136.17 L71,142.62 L71.5,149.07 L72,155.53 L72.5,161.98 L73,168.43 L73.5,174.88 L74,181.33 L74.5,187.78 L75,194.23 L75.5,200.68 L76,207.13 L76.5,213.58 L77,220.03 L77.5,226.48 L78,232.93 L78.5,239.38 L79,245.83 L79.5,252.28 L80,258.73 L80.5,265.19 L81,271.86 L81.5,278.6 L82,285.33 L82.5,291.75 L83,297.07 L83.5,302.35 L84,307.64 L84.5,312.93 L85,318.14 L85.5,321.88 L86,325.13 L86.5,328.4 L87,331.98 L87.5,335.8 L88,339.62 L88.5,343.31 L89,345.99 L89.5,348.27 L90,350.53 L90.5,352.79 L91,355.04 L91.5,357.29 L92,359.34 L92.5,361.1 L93,362.78 L93.5,364.45 L94,366.12 L94.5,367.79 L95,369.43 L95.5,370.88 L96,372.03 L96.5,373.01 L97,373.92 L97.5,374.81 L98,375.69 L98.5,376.57 L99,377.43 L99.5,378.27 L100,379.05 L100.5,379.78 L101,380.46 L101.5,381.12 L102,381.76 L102.5,382.4 L103,383.04 L103.5,383.67 L104,384.3 L104.5,384.92 L105,385.51 L105.5,386.09 L106,386.67 L106.5,387.24 L107,387.79 L107.5,388.34 L108,388.89 L108.5,389.43 L109,389.97 L109.5,390.51 L110,391.04 L110.5,391.57 L111,392.11 L111.5,392.65 L112,393.2 L112.5,393.77 L113,394.38 L113.5,395.03 L114,395.72 L114.5,396.44 L115,397.17 L115.5,397.91 L116,398.65 L116.5,399.38 L117,400.11 L117.5,400.84 L118,401.57 L118.5,402.31 L119,403.08 L119.5,403.9 L120,404.78 L120.5,405.72 L121,406.68 L121.5,407.64 L122,408.61 L122.5,409.58 L123,410.54 L123.5,411.51 L124,412.47 L124.5,413.46 L125,414.5 L125.5,415.61 L126,416.75 L126.5,417.89 L127,419.03 L127.5,420.17 L128,421.31 L128.5,422.45 L129,423.58 L129.5,424.71 L130,425.85 L130.5,426.98 L131,428.13 L131.5,429.27 L132,430.42 L132.5,431.57 L133,432.71 L133.5,433.86 L134,435 L134.5,436.14 L135,437.26 L135.5,438.35 L136,439.42 L136.5,440.49 L137,441.55 L137.5,442.62 L138,443.68 L138.5,444.74 L139,445.79 L139.5,446.84 L140,447.89 L140.5,448.93 L141,449.98 L141.5,451.01 L142,452.02 L142.5,453.01 L143,453.99 L143.5,454.97 L144,455.94 L144.5,456.91 L145,457.89 L145.5,458.86 L146,459.82 L146.5,460.75 L147,461.61 L147.5,462.41 L148,463.17 L148.5,463.92 L149,464.66 L149.5,465.4 L150,466.14 L150.5,466.88 L151,467.61 L151.5,468.32 L152,469 L152.5,469.63 L153,470.2 L153.5,470.71 L154,471.18 L154.5,471.64 L155,472.09 L155.5,472.54 L156,472.98 L156.5,473.42 L157,473.86 L157.5,474.28 L158,474.67 L158.5,475.02 L159,475.33 L159.5,475.6 L160,475.84 L160.5,476.06 L161,476.27 L161.5,476.48 L162,476.68 L162.5,476.88 L163,477.07 L163.5,477.25 L164,477.42 L164.5,477.57 L165,477.7 L165.5,477.81 L166,477.91 L166.5,477.99 L167,478.07 L167.5,478.15 L168,478.23 L168.5,478.3 L169,478.38 L169.5,478.46 L170,478.53 L170.5,478.61 L171,478.67 L171.5,478.73 L172,478.78 L172.5,478.83 L173,478.86 L173.5,478.89 L174,478.91 L174.5,478.94 L175,478.96 L175.5,478.98 L176,479 L176.5,479.02 L177,479.04 L177.5,479.06 L178,479.09 L178.5,479.12 L179,479.16 L179.5,479.19 L180,479.23 L180.5,479.27 L181,479.31 L181.5,479.34 L182,479.38 L182.5,479.41 L183,479.44 L183.5,479.47 L184,479.5 L184.5,479.53 L185,479.55 L185.5,479.58 L186,479.61 L186.5,479.64 L187,479.67 L187.5,479.72 L188,479.76 L188.5,479.82 L189,479.87 L189.5,479.93 L190,479.98 L190.5,480.05 L191,480.13 L191.5,480.22 L192,480.3 L192.5,480.39 L193,480.48 L193.5,480.57 L194,480.67 L194.5,480.77 L195,480.86 L195.5,480.96 L196,481.06 L196.5,481.16 L197,481.26 L197.5,481.36 L198,481.47 L198.5,481.57 L199,481.67 L199.5,481.77 L200,481.88 L200.5,481.99 L201,482.1 L201.5,482.2 L202,482.31 L202.5,482.4 L203,482.49 L203.5,482.58 L204,482.67 L204.5,482.75 L205,482.84 L205.5,482.93 L206,483.01 L206.5,483.09 L207,483.16 L207.5,483.23 L208,483.3 L208.5,483.37 L209,483.44 L209.5,483.52 L210,483.59 L210.5,483.66 L211,483.73 L211.5,483.79 L212,483.84 L212.5,483.89 L213,483.94 L213.5,484 L214,484.05 L214.5,484.1 L215,484.15 L215.5,484.2 L216,484.25 L216.5,484.3 L217,484.34 L217.5,484.38 L218,484.42 L218.5,484.46 L219,484.5 L219.5,484.53 L220,484.57 L220.5,484.6 L221,484.63 L221.5,484.66 L222,484.68 L222.5,484.71 L223,484.73 L223.5,484.75 L224,484.78 L224.5,484.8 L225,484.82 L225.5,484.84 L226,484.86 L226.5,484.88 L227,484.9 L227.5,484.91 L228,484.93 L228.5,484.95 L229,484.96 L229.5,484.98 L230,484.99 L230.5,485 L231,485.02 L231.5,485.03 L232,485.04 L232.5,485.05 L233,485.06 L233.5,485.08 L234,485.09 L234.5,485.1 L235,485.11 L235.5,485.12 L236,485.13 L236.5,485.14 L237,485.15 L237.5,485.16 L238,485.17 L238.5,485.18 L239,485.19 L239.5,485.2 L240,485.21 L240.5,485.23 L241,485.25 L241.5,485.26 L242,485.28 L242.5,485.3 L243,485.32 L243.5,485.34 L244,485.36 L244.5,485.38 L245,485.4 L245.5,485.42 L246,485.44 L246.5,485.46 L247,485.48 L247.5,485.5 L248,485.52 L248.5,485.54 L249,485.56 L249.5,485.57 L250,485.59 L250.5,485.61 L251,485.63 L251.5,485.65 L252,485.67 L252.5,485.69 L253,485.71 L253.5,485.73 L254,485.75 L254.5,485.77 L255,485.79 L255.5,485.81 L256,485.82 L256.5,485.84 L257,485.86 L257.5,485.88 L258,485.9 L258.5,485.92 L259,485.94 L259.5,485.96 L260,485.98 L260.5,485.99 L261,486.01 L261.5,486.03 L262,486.05 L262.5,486.07 L263,486.09 L263.5,486.11 L264,486.12 L264.5,486.14 L265,486.16 L265.5,486.17 L266,486.18 L266.5,486.2 L267,486.21 L267.5,486.22 L268,486.23 L268.5,486.24 L269,486.25 L269.5,486.26 L270,486.27 L270.5,486.29 L271,486.3 L271.5,486.31 L272,486.32 L272.5,486.33 L273,486.34 L273.5,486.35 L274,486.36 L274.5,486.38 L275,486.39 L275.5,486.4 L276,486.41 L276.5,486.42 L277,486.44 L277.5,486.45 L278,486.46 L278.5,486.47 L279,486.49 L279.5,486.5 L280,486.51 L280.5,486.52 L281,486.54 L281.5,486.55 L282,486.56 L282.5,486.58 L283,486.59 L283.5,486.6 L284,486.61 L284.5,486.63 L285,486.64 L285.5,486.65 L286,486.66 L286.5,486.68 L287,486.69 L287.5,486.7 L288,486.71 L288.5,486.72 L289,486.74 L289.5,486.74 L290,486.75 L290.5,486.76 L291,486.76 L291.5,486.77 L292,486.77 L292.5,486.77 L293,486.78 L293.5,486.78 L294,486.78 L294.5,486.78 L295,486.79 L295.5,486.79 L296,486.79 L296.5,486.79 L297,486.79 L297.5,486.8 L298,486.8 L298.5,486.8 L299,486.8 L299.5,486.8 L300,486.81 L300.5,486.81 L301,486.81 L301.5,486.81 L302,486.82 L302.5,486.82 L303,486.82 L303.5,486.82 L304,486.82 L304.5,486.83 L305,486.83 L305.5,486.83 L306,486.83 L306.5,486.83 L307,486.84 L307.5,486.84 L308,486.84 L308.5,486.84 L309,486.85 L309.5,486.85 L310,486.85 L310.5,486.85 L311,486.85 L311.5,486.86 L312,486.86 L312.5,486.86 L313,486.86 L313.5,486.86 L314,486.87 L314.5,486.87 L315,486.87 L315.5,486.87 L316,486.87 L316.5,486.88 L317,486.88 L317.5,486.88 L318,486.88 L318.5,486.88 L319,486.89 L319.5,486.89 L320,486.89 L320.5,486.89 L321,486.89 L321.5,486.89 L322,486.9 L322.5,486.9 L323,486.9 L323.5,486.9 L324,486.9 L324.5,486.9 L325,486.91 L325.5,486.91 L326,486.91 L326.5,486.91 L327,486.91 L327.5,486.91 L328,486.92 L328.5,486.92 L329,486.92 L329.5,486.92 L330,486.92 L330.5,486.92 L331,486.93 L331.5,486.93 L332,486.93 L332.5,486.93" fill="none" stroke="#a8a8a8" stroke-width="0.8" stroke-linejoin="round" stroke-linecap="butt" />
<path d="M60,-3.8 L60.5,2.95 L61,9.7 L61.5,16.45 L62,23.2 L62.5,29.95 L63,36.7 L63.5,43.45 L64,50.2 L64.5,56.95 L65,63.7 L65.5,70.45 L66,77.2 L66.5,83.95 L67,90.7 L67.5,97.45 L68,104.2 L68.5,110.95 L69,117.7 L69.5,124.45 L70,131.2 L70.5,137.95 L71,144.7 L71.5,151.45 L72,158.2 L72.5,164.95 L73,171.7 L73.5,178.45 L74,185.2 L74.5,191.95 L75,198.7 L75.5,205.45 L76,212.2 L76.5,218.95 L77,225.7 L77.5,232.45 L78,239.2 L78.5,245.95 L79,252.7 L79.5,259.45 L80,266.2 L80.5,272.95 L81,279.94 L81.5,287 L82,294.06 L82.5,300.77 L83,306.3 L83.5,311.8 L84,317.3 L84.5,322.8 L85,328.22 L85.5,332.05 L86,335.36 L86.5,338.69 L87,342.36 L87.5,346.27 L88,350.19 L88.5,353.98 L89,356.67 L89.5,358.94 L90,361.18 L90.5,363.42 L91,365.66 L91.5,367.89 L92,369.91 L92.5,371.62 L93,373.24 L93.5,374.85 L94,376.45 L94.5,378.06 L95,379.64 L95.5,381.01 L96,382.07 L96.5,382.93 L97,383.73 L97.5,384.49 L98,385.25 L98.5,386.01 L99,386.76 L99.5,387.47 L100,388.13 L100.5,388.72 L101,389.27 L101.5,389.79 L102,390.3 L102.5,390.8 L103,391.3 L103.5,391.8 L104,392.29 L104.5,392.77 L105,393.22 L105.5,393.66 L106,394.06 L106.5,394.45 L107,394.83 L107.5,395.21 L108,395.58 L108.5,395.95 L109,396.33 L109.5,396.7 L110,397.07 L110.5,397.44 L111,397.82 L111.5,398.2 L112,398.59 L112.5,399.01 L113,399.47 L113.5,399.98 L114,400.53 L114.5,401.11 L115,401.7 L115.5,402.3 L116,402.9 L116.5,403.5 L117,404.1 L117.5,404.7 L118,405.31 L118.5,405.92 L119,406.57 L119.5,407.27 L120,408.04 L120.5,408.88 L121,409.76 L121.5,410.64 L122,411.52 L122.5,412.41 L123,413.29 L123.5,414.18 L124,415.08 L124.5,416.01 L125,417.01 L125.5,418.07 L126,419.17 L126.5,420.27 L127,421.38 L127.5,422.48 L128,423.58 L128.5,424.69 L129,425.79 L129.5,426.9 L130,428.01 L130.5,429.13 L131,430.25 L131.5,431.38 L132,432.5 L132.5,433.62 L133,434.75 L133.5,435.87 L134,437 L134.5,438.12 L135,439.23 L135.5,440.32 L136,441.38 L136.5,442.44 L137,443.49 L137.5,444.55 L138,445.6 L138.5,446.66 L139,447.71 L139.5,448.76 L140,449.82 L140.5,450.87 L141,451.92 L141.5,452.96 L142,453.98 L142.5,454.98 L143,455.97 L143.5,456.96 L144,457.95 L144.5,458.95 L145,459.94 L145.5,460.92 L146,461.9 L146.5,462.85 L147,463.73 L147.5,464.54 L148,465.33 L148.5,466.09 L149,466.86 L149.5,467.62 L150,468.38 L150.5,469.14 L151,469.91 L151.5,470.66 L152,471.39 L152.5,472.07 L153,472.68 L153.5,473.24 L154,473.76 L154.5,474.27 L155,474.76 L155.5,475.25 L156,475.74 L156.5,476.23 L157,476.72 L157.5,477.19 L158,477.64 L158.5,478.05 L159,478.42 L159.5,478.74 L160,479.03 L160.5,479.3 L161,479.57 L161.5,479.82 L162,480.08 L162.5,480.33 L163,480.57 L163.5,480.81 L164,481.03 L164.5,481.23 L165,481.41 L165.5,481.57 L166,481.72 L166.5,481.85 L167,481.98 L167.5,482.1 L168,482.23 L168.5,482.35 L169,482.47 L169.5,482.59 L170,482.71 L170.5,482.82 L171,482.93 L171.5,483.04 L172,483.13 L172.5,483.21 L173,483.28 L173.5,483.35 L174,483.4 L174.5,483.46 L175,483.51 L175.5,483.57 L176,483.62 L176.5,483.67 L177,483.72 L177.5,483.78 L178,483.83 L178.5,483.88 L179,483.93 L179.5,483.99 L180,484.04 L180.5,484.09 L181,484.14 L181.5,484.18 L182,484.22 L182.5,484.26 L183,484.29 L183.5,484.32 L184,484.34 L184.5,484.35 L185,484.37 L185.5,484.39 L186,484.4 L186.5,484.41 L187,484.43 L187.5,484.44 L188,484.46 L188.5,484.47 L189,484.49 L189.5,484.5 L190,484.51 L190.5,484.53 L191,484.54 L191.5,484.56 L192,484.57 L192.5,484.59 L193,484.6 L193.5,484.61 L194,484.63 L194.5,484.64 L195,484.66 L195.5,484.67 L196,484.69 L196.5,484.7 L197,484.71 L197.5,484.73 L198,484.74 L198.5,484.76 L199,484.77 L199.5,484.78 L200,484.79 L200.5,484.81 L201,484.82 L201.5,484.83 L202,484.83 L202.5,484.84 L203,484.85 L203.5,484.86 L204,484.87 L204.5,484.88 L205,484.89 L205.5,484.9 L206,484.91 L206.5,484.91 L207,484.92 L207.5,484.93 L208,484.94 L208.5,484.95 L209,484.96 L209.5,484.97 L210,484.98 L210.5,484.98 L211,484.99 L211.5,485 L212,485.01 L212.5,485.02 L213,485.03 L213.5,485.04 L214,485.05 L214.5,485.05 L215,485.06 L215.5,485.07 L216,485.08 L216.5,485.09 L217,485.1 L217.5,485.11 L218,485.12 L218.5,485.12 L219,485.13 L219.5,485.14 L220,485.15 L220.5,485.16 L221,485.17 L221.5,485.18 L222,485.19 L222.5,485.19 L223,485.2 L223.5,485.21 L224,485.22 L224.5,485.23 L225,485.24 L225.5,485.25 L226,485.25 L226.5,485.26 L227,485.27 L227.5,485.28 L228,485.29 L228.5,485.3 L229,485.31 L229.5,485.32 L230,485.32 L230.5,485.33 L231,485.34 L231.5,485.35 L232,485.36 L232.5,485.37 L233,485.38 L233.5,485.39 L234,485.39 L234.5,485.4 L235,485.41 L235.5,485.42 L236,485.43 L236.5,485.44 L237,485.45 L237.5,485.46 L238,485.47 L238.5,485.48 L239,485.49 L239.5,485.5 L240,485.51 L240.5,485.53 L241,485.54 L241.5,485.56 L242,485.58 L242.5,485.6 L243,485.62 L243.5,485.64 L244,485.66 L244.5,485.68 L245,485.7 L245.5,485.72 L246,485.74 L246.5,485.76 L247,485.78 L247.5,485.8 L248,485.82 L248.5,485.84 L249,485.86 L249.5,485.88 L250,485.9 L250.5,485.92 L251,485.94 L251.5,485.96 L252,485.98 L252.5,486 L253,486.02 L253.5,486.04 L254,486.06 L254.5,486.08 L255,486.1 L255.5,486.12 L256,486.14 L256.5,486.16 L257,486.18 L257.5,486.2 L258,486.22 L258.5,486.24 L259,486.26 L259.5,486.28 L260,486.3 L260.5,486.32 L261,486.34 L261.5,486.36 L262,486.38 L262.5,486.4 L263,486.42 L263.5,486.44 L264,486.46 L264.5,486.47 L265,486.49 L265.5,486.51 L266,486.52 L266.5,486.53 L267,486.55 L267.5,486.56 L268,486.57 L268.5,486.58 L269,486.6 L269.5,486.61 L270,486.62 L270.5,486.63 L271,486.64 L271.5,486.66 L272,486.67 L272.5,486.68 L273,486.69 L273.5,486.7 L274,486.72 L274.5,486.73 L275,486.74 L275.5,486.75 L276,486.76 L276.5,486.78 L277,486.79 L277.5,486.8 L278,486.81 L278.5,486.82 L279,486.84 L279.5,486.85 L280,486.86 L280.5,486.87 L281,486.88 L281.5,486.9 L282,486.91 L282.5,486.92 L283,486.93 L283.5,486.94 L284,486.96 L284.5,486.97 L285,486.98 L285.5,486.99 L286,487 L286.5,487.02 L287,487.03 L287.5,487.04 L288,487.05 L288.5,487.06 L289,487.07 L289.5,487.08 L290,487.09 L290.5,487.09 L291,487.1 L291.5,487.1 L292,487.1 L292.5,487.11 L293,487.11 L293.5,487.11 L294,487.11 L294.5,487.11 L295,487.11 L295.5,487.11 L296,487.11 L296.5,487.12 L297,487.12 L297.5,487.12 L298,487.12 L298.5,487.12 L299,487.12 L299.5,487.12 L300,487.12 L300.5,487.12 L301,487.13 L301.5,487.13 L302,487.13 L302.5,487.13 L303,487.13 L303.5,487.13 L304,487.13 L304.5,487.13 L305,487.14 L305.5,487.14 L306,487.14 L306.5,487.14 L307,487.14 L307.5,487.14 L308,487.14 L308.5,487.14 L309,487.15 L309.5,487.15 L310,487.15 L310.5,487.15 L311,487.15 L311.5,487.15 L312,487.15 L312.5,487.15 L313,487.15 L313.5,487.16 L314,487.16 L314.5,487.16 L315,487.16 L315.5,487.16 L316,487.16 L316.5,487.16 L317,487.16 L317.5,487.17 L318,487.17 L318.5,487.17 L319,487.17 L319.5,487.17 L320,487.17 L320.5,487.17 L321,487.17 L321.5,487.18 L322,487.18 L322.5,487.18 L323,487.18 L323.5,487.18 L324,487.18 L324.5,487.18 L325,487.18 L325.5,487.18 L326,487.19 L326.5,487.19 L327,487.19 L327.5,487.19 L328,487.19 L328.5,487.19 L329,487.19 L329.5,487.19 L330,487.2 L330.5,487.2 L331,487.2 L331.5,487.2 L332,487.2 L332.5,487.2" fill="none" stroke="#000" stroke-width="2.0" stroke-linejoin="round" stroke-linecap="butt" />
<path d="M60,60.64 L60.5,63.11 L61,65.58 L61.5,68.05 L62,70.53 L62.5,73 L63,75.47 L63.5,77.95 L64,80.42 L64.5,82.89 L65,85.36 L65.5,87.84 L66,90.31 L66.5,92.78 L67,95.26 L67.5,97.73 L68,100.2 L68.5,102.68 L69,105.15 L69.5,107.62 L70,110.09 L70.5,112.57 L71,115.04 L71.5,117.51 L72,119.99 L72.5,122.46 L73,124.93 L73.5,127.41 L74,129.88 L74.5,132.35 L75,134.82 L75.5,137.3 L76,139.77 L76.5,142.24 L77,144.72 L77.5,147.19 L78,149.66 L78.5,152.14 L79,154.61 L79.5,157.08 L80,159.55 L80.5,162.03 L81,164.5 L81.5,166.97 L82,169.45 L82.5,171.92 L83,174.39 L83.5,176.86 L84,179.34 L84.5,181.81 L85,184.28 L85.5,186.76 L86,189.23 L86.5,191.7 L87,194.18 L87.5,196.65 L88,199.12 L88.5,201.59 L89,204.07 L89.5,206.54 L90,209.01 L90.5,211.49 L91,213.96 L91.5,216.43 L92,218.91 L92.5,221.38 L93,223.85 L93.5,226.32 L94,228.8 L94.5,231.27 L95,233.74 L95.5,236.22 L96,238.69 L96.5,241.16 L97,243.64 L97.5,246.11 L98,248.58 L98.5,251.05 L99,253.53 L99.5,256 L100,258.47 L100.5,260.95 L101,263.42 L101.5,265.89 L102,268.36 L102.5,270.84 L103,273.31 L103.5,275.76 L104,278.21 L104.5,280.65 L105,283.09 L105.5,285.53 L106,287.98 L106.5,290.42 L107,292.86 L107.5,295.3 L108,297.74 L108.5,300.16 L109,302.53 L109.5,304.89 L110,307.25 L110.5,309.61 L111,311.98 L111.5,314.34 L112,316.7 L112.5,319.06 L113,321.42 L113.5,323.78 L114,326.14 L114.5,328.51 L115,330.9 L115.5,333.29 L116,335.69 L116.5,338.08 L117,340.46 L117.5,342.79 L118,345.12 L118.5,347.45 L119,349.78 L119.5,352.11 L120,354.39 L120.5,356.49 L121,358.5 L121.5,360.5 L122,362.5 L122.5,364.5 L123,366.5 L123.5,368.47 L124,370.26 L124.5,371.87 L125,373.42 L125.5,374.98 L126,376.53 L126.5,378.08 L127,379.63 L127.5,381.19 L128,382.73 L128.5,384.22 L129,385.59 L129.5,386.89 L130,388.17 L130.5,389.45 L131,390.72 L131.5,392 L132,393.28 L132.5,394.55 L133,395.83 L133.5,397.1 L134,398.34 L134.5,399.5 L135,400.56 L135.5,401.57 L136,402.56 L136.5,403.55 L137,404.54 L137.5,405.53 L138,406.5 L138.5,407.42 L139,408.23 L139.5,408.93 L140,409.57 L140.5,410.18 L141,410.77 L141.5,411.35 L142,411.89 L142.5,412.39 L143,412.83 L143.5,413.2 L144,413.54 L144.5,413.84 L145,414.13 L145.5,414.4 L146,414.64 L146.5,414.84 L147,414.98 L147.5,415.04 L148,415 L148.5,414.9 L149,414.74 L149.5,414.54 L150,414.32 L150.5,414.08 L151,413.81 L151.5,413.49 L152,413.1 L152.5,412.63 L153,412.09 L153.5,411.49 L154,410.87 L154.5,410.25 L155,409.62 L155.5,409 L156,408.36 L156.5,407.69 L157,406.95 L157.5,406.12 L158,405.18 L158.5,404.2 L159,403.2 L159.5,402.2 L160,401.2 L160.5,400.2 L161,399.2 L161.5,398.2 L162,397.19 L162.5,396.16 L163,395.12 L163.5,394.06 L164,393 L164.5,391.95 L165,390.89 L165.5,389.83 L166,388.77 L166.5,387.72 L167,386.67 L167.5,385.65 L168,384.67 L168.5,383.72 L169,382.77 L169.5,381.83 L170,380.89 L170.5,379.95 L171,379 L171.5,378.06 L172,377.14 L172.5,376.24 L173,375.41 L173.5,374.62 L174,373.85 L174.5,373.1 L175,372.35 L175.5,371.6 L176,370.85 L176.5,370.11 L177,369.4 L177.5,368.77 L178,368.24 L178.5,367.81 L179,367.44 L179.5,367.12 L180,366.83 L180.5,366.55 L181,366.31 L181.5,366.1 L182,365.97 L182.5,365.92 L183,365.97 L183.5,366.11 L184,366.32 L184.5,366.58 L185,366.86 L185.5,367.17 L186,367.52 L186.5,367.93 L187,368.45 L187.5,369.13 L188,370 L188.5,370.96 L189,371.94 L189.5,372.95 L190,374.03 L190.5,375.34 L191,376.96 L191.5,378.7 L192,380.45 L192.5,382.21 L193,384.06 L193.5,386.04 L194,388.07 L194.5,390.1 L195,392.13 L195.5,394.16 L196,396.21 L196.5,398.34 L197,400.5 L197.5,402.67 L198,404.83 L198.5,407 L199,409.17 L199.5,411.41 L200,413.76 L200.5,416.15 L201,418.53 L201.5,420.91 L202,423.2 L202.5,425.24 L203,427.2 L203.5,429.15 L204,431.09 L204.5,433.04 L205,434.99 L205.5,436.92 L206,438.72 L206.5,440.34 L207,441.88 L207.5,443.42 L208,444.96 L208.5,446.5 L209,448.03 L209.5,449.57 L210,451.11 L210.5,452.64 L211,454.09 L211.5,455.35 L212,456.48 L212.5,457.55 L213,458.6 L213.5,459.66 L214,460.72 L214.5,461.77 L215,462.83 L215.5,463.88 L216,464.9 L216.5,465.83 L217,466.66 L217.5,467.43 L218,468.17 L218.5,468.9 L219,469.62 L219.5,470.32 L220,470.98 L220.5,471.56 L221,472.06 L221.5,472.51 L222,472.92 L222.5,473.31 L223,473.7 L223.5,474.07 L224,474.44 L224.5,474.8 L225,475.13 L225.5,475.43 L226,475.69 L226.5,475.93 L227,476.14 L227.5,476.34 L228,476.54 L228.5,476.72 L229,476.89 L229.5,477.05 L230,477.19 L230.5,477.31 L231,477.41 L231.5,477.51 L232,477.59 L232.5,477.67 L233,477.75 L233.5,477.82 L234,477.9 L234.5,477.96 L235,478.03 L235.5,478.08 L236,478.13 L236.5,478.17 L237,478.2 L237.5,478.22 L238,478.23 L238.5,478.24 L239,478.25 L239.5,478.26 L240,478.27 L240.5,478.28 L241,478.29 L241.5,478.29 L242,478.3 L242.5,478.31 L243,478.32 L243.5,478.33 L244,478.34 L244.5,478.35 L245,478.35 L245.5,478.36 L246,478.37 L246.5,478.38 L247,478.39 L247.5,478.4 L248,478.41 L248.5,478.41 L249,478.42 L249.5,478.43 L250,478.44 L250.5,478.45 L251,478.46 L251.5,478.46 L252,478.47 L252.5,478.48 L253,478.48 L253.5,478.48 L254,478.48 L254.5,478.48 L255,478.47 L255.5,478.46 L256,478.45 L256.5,478.44 L257,478.43 L257.5,478.42 L258,478.42 L258.5,478.41 L259,478.4 L259.5,478.39 L260,478.38 L260.5,478.37 L261,478.36 L261.5,478.35 L262,478.34 L262.5,478.33 L263,478.32 L263.5,478.31 L264,478.3 L264.5,478.29 L265,478.28 L265.5,478.27 L266,478.26 L266.5,478.25 L267,478.25 L267.5,478.24 L268,478.23 L268.5,478.22 L269,478.21 L269.5,478.2 L270,478.19 L270.5,478.18 L271,478.17 L271.5,478.16 L272,478.15 L272.5,478.14 L273,478.14 L273.5,478.13 L274,478.13 L274.5,478.13 L275,478.14 L275.5,478.16 L276,478.18 L276.5,478.2 L277,478.22 L277.5,478.25 L278,478.27 L278.5,478.3 L279,478.32 L279.5,478.35 L280,478.38 L280.5,478.4 L281,478.43 L281.5,478.45 L282,478.48 L282.5,478.51 L283,478.53 L283.5,478.56 L284,478.58 L284.5,478.61 L285,478.64 L285.5,478.66 L286,478.69 L286.5,478.72 L287,478.74 L287.5,478.77 L288,478.79 L288.5,478.82 L289,478.85 L289.5,478.87 L290,478.9 L290.5,478.92 L291,478.95 L291.5,478.98 L292,479 L292.5,479.03 L293,479.05 L293.5,479.08 L294,479.11 L294.5,479.13 L295,479.16 L295.5,479.18 L296,479.21 L296.5,479.23 L297,479.26 L297.5,479.28 L298,479.3 L298.5,479.33 L299,479.35 L299.5,479.37 L300,479.4 L300.5,479.42 L301,479.45 L301.5,479.47 L302,479.49 L302.5,479.52 L303,479.54 L303.5,479.56 L304,479.59 L304.5,479.61 L305,479.63 L305.5,479.66 L306,479.68 L306.5,479.7 L307,479.73 L307.5,479.75 L308,479.78 L308.5,479.8 L309,479.82 L309.5,479.85 L310,479.87 L310.5,479.89 L311,479.92 L311.5,479.94 L312,479.96 L312.5,479.99 L313,480.01 L313.5,480.03 L314,480.06 L314.5,480.08 L315,480.1 L315.5,480.13 L316,480.15 L316.5,480.17 L317,480.19 L317.5,480.21 L318,480.22 L318.5,480.24 L319,480.25 L319.5,480.27 L320,480.28 L320.5,480.29 L321,480.31 L321.5,480.32 L322,480.33 L322.5,480.35 L323,480.36 L323.5,480.37 L324,480.39 L324.5,480.4 L325,480.41 L325.5,480.43 L326,480.44 L326.5,480.45 L327,480.47 L327.5,480.48 L328,480.49 L328.5,480.51 L329,480.52 L329.5,480.53 L330,480.55 L330.5,480.56 L331,480.57 L331.5,480.58 L332,480.58 L332.5,480.58" fill="none" stroke="#ee2424" stroke-width="2.0" stroke-linejoin="round" stroke-linecap="butt" />
</g>
<line x1="69.4" y1="274.3" x2="331.8" y2="274.3" stroke="#333" stroke-width="1.1" />
<line x1="73.2" y1="274.3" x2="73.2" y2="487" stroke="#888" stroke-width="1.3" />
<line x1="331.8" y1="274.3" x2="331.8" y2="487" stroke="#888" stroke-width="1.3" />
<line x1="69.4" y1="487" x2="331.8" y2="487" stroke="#555" stroke-width="1.2" />
<line x1="69.4" y1="487" x2="73.2" y2="487" stroke="#5a5a5a" stroke-width="1" />
<text x="61.9" y="492.3" font-size="14.3" text-anchor="end" font-weight="normal" fill="#1e1e1e" >0.0</text>
<line x1="69.4" y1="444.46" x2="73.2" y2="444.46" stroke="#5a5a5a" stroke-width="1" />
<text x="61.9" y="449.76" font-size="14.3" text-anchor="end" font-weight="normal" fill="#1e1e1e" >0.2</text>
<line x1="69.4" y1="401.92" x2="73.2" y2="401.92" stroke="#5a5a5a" stroke-width="1" />
<text x="61.9" y="407.22" font-size="14.3" text-anchor="end" font-weight="normal" fill="#1e1e1e" >0.4</text>
<line x1="69.4" y1="359.38" x2="73.2" y2="359.38" stroke="#5a5a5a" stroke-width="1" />
<text x="61.9" y="364.68" font-size="14.3" text-anchor="end" font-weight="normal" fill="#1e1e1e" >0.6</text>
<line x1="69.4" y1="316.84" x2="73.2" y2="316.84" stroke="#5a5a5a" stroke-width="1" />
<text x="61.9" y="322.14" font-size="14.3" text-anchor="end" font-weight="normal" fill="#1e1e1e" >0.8</text>
<line x1="69.4" y1="274.3" x2="73.2" y2="274.3" stroke="#5a5a5a" stroke-width="1" />
<text x="61.9" y="279.6" font-size="14.3" text-anchor="end" font-weight="normal" fill="#1e1e1e" >1.0</text>
<line x1="73.2" y1="487" x2="73.2" y2="490.6" stroke="#5a5a5a" stroke-width="1" />
<line x1="105.53" y1="487" x2="105.53" y2="490.6" stroke="#5a5a5a" stroke-width="1" />
<text x="105.53" y="510.9" font-size="15.1" text-anchor="middle" font-weight="normal" fill="#1e1e1e" >400</text>
<line x1="137.85" y1="487" x2="137.85" y2="490.6" stroke="#5a5a5a" stroke-width="1" />
<line x1="170.18" y1="487" x2="170.18" y2="490.6" stroke="#5a5a5a" stroke-width="1" />
<text x="170.18" y="510.9" font-size="15.1" text-anchor="middle" font-weight="normal" fill="#1e1e1e" >500</text>
<line x1="202.5" y1="487" x2="202.5" y2="490.6" stroke="#5a5a5a" stroke-width="1" />
<line x1="234.82" y1="487" x2="234.82" y2="490.6" stroke="#5a5a5a" stroke-width="1" />
<text x="234.82" y="510.9" font-size="15.1" text-anchor="middle" font-weight="normal" fill="#1e1e1e" >600</text>
<line x1="267.15" y1="487" x2="267.15" y2="490.6" stroke="#5a5a5a" stroke-width="1" />
<line x1="299.47" y1="487" x2="299.47" y2="490.6" stroke="#5a5a5a" stroke-width="1" />
<text x="299.47" y="510.9" font-size="15.1" text-anchor="middle" font-weight="normal" fill="#1e1e1e" >700</text>
<line x1="331.8" y1="487" x2="331.8" y2="490.6" stroke="#5a5a5a" stroke-width="1" />
<text transform="translate(31.9,380.7) rotate(-90)" font-size="16" text-anchor="middle" fill="#1e1e1e">A</text>
<text x="202.2" y="536.8" font-size="14.8" text-anchor="middle" font-weight="normal" fill="#1e1e1e" >&#955;/ nm</text>
<text transform="translate(6.4,300.6) scale(0.9,1)" font-size="25.5" font-weight="bold" fill="#000">c</text>
<g clip-path="url(#dd)">
<path d="M400,-13.63 L400.5,-10.12 L401,-6.62 L401.5,-3.11 L402,0.39 L402.5,3.9 L403,7.4 L403.5,10.91 L404,14.41 L404.5,17.92 L405,21.42 L405.5,24.93 L406,28.43 L406.5,31.94 L407,35.44 L407.5,38.95 L408,42.45 L408.5,45.96 L409,49.46 L409.5,52.97 L410,56.47 L410.5,59.98 L411,63.48 L411.5,66.99 L412,70.49 L412.5,74 L413,77.5 L413.5,81.01 L414,84.52 L414.5,88.02 L415,91.53 L415.5,95.03 L416,98.54 L416.5,102.04 L417,105.55 L417.5,109.05 L418,112.56 L418.5,116.06 L419,119.57 L419.5,123.07 L420,126.58 L420.5,130.08 L421,133.59 L421.5,137.09 L422,140.55 L422.5,143.86 L423,147.17 L423.5,150.47 L424,153.77 L424.5,157.08 L425,160.38 L425.5,163.73 L426,167.08 L426.5,170.44 L427,173.79 L427.5,177.15 L428,180.43 L428.5,183.5 L429,186.56 L429.5,189.61 L430,192.67 L430.5,195.72 L431,198.75 L431.5,201.76 L432,204.77 L432.5,207.77 L433,210.73 L433.5,213.67 L434,216.62 L434.5,219.56 L435,222.51 L435.5,225.44 L436,228.32 L436.5,231.19 L437,234.05 L437.5,236.91 L438,239.76 L438.5,242.59 L439,245.4 L439.5,248.2 L440,250.98 L440.5,253.77 L441,256.55 L441.5,259.33 L442,262.1 L442.5,264.87 L443,267.62 L443.5,270.37 L444,273.12 L444.5,275.86 L445,278.61 L445.5,281.35 L446,284.09 L446.5,286.78 L447,289.26 L447.5,291.68 L448,294.1 L448.5,296.52 L449,298.94 L449.5,301.35 L450,303.77 L450.5,306.18 L451,308.59 L451.5,311 L452,313.41 L452.5,315.82 L453,318.15 L453.5,320.25 L454,322.27 L454.5,324.3 L455,326.32 L455.5,328.35 L456,330.39 L456.5,332.43 L457,334.47 L457.5,336.52 L458,338.57 L458.5,340.61 L459,342.66 L459.5,344.71 L460,346.75 L460.5,348.61 L461,350.2 L461.5,351.71 L462,353.22 L462.5,354.73 L463,356.26 L463.5,357.79 L464,359.33 L464.5,360.88 L465,362.42 L465.5,363.98 L466,365.59 L466.5,367.24 L467,368.91 L467.5,370.57 L468,372.25 L468.5,374 L469,375.87 L469.5,377.79 L470,379.72 L470.5,381.68 L471,383.56 L471.5,385.03 L472,386.18 L472.5,387.2 L473,388.19 L473.5,389.18 L474,390.16 L474.5,391.14 L475,392.12 L475.5,393.1 L476,394.08 L476.5,395.04 L477,395.96 L477.5,396.82 L478,397.65 L478.5,398.45 L479,399.23 L479.5,399.99 L480,400.74 L480.5,401.51 L481,402.28 L481.5,403.07 L482,403.85 L482.5,404.63 L483,405.41 L483.5,406.17 L484,406.9 L484.5,407.6 L485,408.27 L485.5,408.93 L486,409.58 L486.5,410.22 L487,410.87 L487.5,411.5 L488,412.13 L488.5,412.76 L489,413.39 L489.5,414.01 L490,414.64 L490.5,415.27 L491,415.89 L491.5,416.51 L492,417.13 L492.5,417.72 L493,418.28 L493.5,418.82 L494,419.34 L494.5,419.84 L495,420.34 L495.5,420.84 L496,421.32 L496.5,421.8 L497,422.27 L497.5,422.74 L498,423.21 L498.5,423.67 L499,424.14 L499.5,424.6 L500,425.05 L500.5,425.49 L501,425.92 L501.5,426.31 L502,426.68 L502.5,427.03 L503,427.36 L503.5,427.68 L504,427.99 L504.5,428.3 L505,428.61 L505.5,428.91 L506,429.22 L506.5,429.52 L507,429.82 L507.5,430.12 L508,430.43 L508.5,430.73 L509,431.03 L509.5,431.32 L510,431.62 L510.5,431.9 L511,432.18 L511.5,432.46 L512,432.72 L512.5,432.98 L513,433.24 L513.5,433.49 L514,433.73 L514.5,433.98 L515,434.22 L515.5,434.47 L516,434.71 L516.5,434.96 L517,435.2 L517.5,435.45 L518,435.69 L518.5,435.93 L519,436.18 L519.5,436.42 L520,436.66 L520.5,436.9 L521,437.14 L521.5,437.37 L522,437.59 L522.5,437.8 L523,438.01 L523.5,438.21 L524,438.41 L524.5,438.6 L525,438.79 L525.5,438.98 L526,439.17 L526.5,439.36 L527,439.55 L527.5,439.73 L528,439.92 L528.5,440.11 L529,440.3 L529.5,440.49 L530,440.68 L530.5,440.86 L531,441.05 L531.5,441.24 L532,441.43 L532.5,441.61 L533,441.8 L533.5,441.98 L534,442.16 L534.5,442.35 L535,442.53 L535.5,442.71 L536,442.89 L536.5,443.07 L537,443.25 L537.5,443.43 L538,443.61 L538.5,443.79 L539,443.96 L539.5,444.14 L540,444.32 L540.5,444.5 L541,444.67 L541.5,444.85 L542,445.03 L542.5,445.2 L543,445.37 L543.5,445.55 L544,445.72 L544.5,445.88 L545,446.05 L545.5,446.21 L546,446.38 L546.5,446.54 L547,446.71 L547.5,446.87 L548,447.03 L548.5,447.2 L549,447.36 L549.5,447.53 L550,447.69 L550.5,447.85 L551,448.02 L551.5,448.18 L552,448.34 L552.5,448.51 L553,448.67 L553.5,448.84 L554,449.01 L554.5,449.17 L555,449.34 L555.5,449.52 L556,449.69 L556.5,449.86 L557,450.03 L557.5,450.2 L558,450.37 L558.5,450.55 L559,450.72 L559.5,450.89 L560,451.06 L560.5,451.23 L561,451.41 L561.5,451.58 L562,451.75 L562.5,451.92 L563,452.1 L563.5,452.28 L564,452.46 L564.5,452.66 L565,452.87 L565.5,453.09 L566,453.33 L566.5,453.56 L567,453.8 L567.5,454.05 L568,454.29 L568.5,454.53 L569,454.77 L569.5,455.02 L570,455.26 L570.5,455.5 L571,455.75 L571.5,455.99 L572,456.23 L572.5,456.48 L573,456.72 L573.5,456.97 L574,457.21 L574.5,457.46 L575,457.71 L575.5,457.96 L576,458.22 L576.5,458.47 L577,458.73 L577.5,458.99 L578,459.25 L578.5,459.51 L579,459.77 L579.5,460.03 L580,460.29 L580.5,460.55 L581,460.81 L581.5,461.07 L582,461.33 L582.5,461.59 L583,461.85 L583.5,462.12 L584,462.38 L584.5,462.66 L585,462.94 L585.5,463.24 L586,463.57 L586.5,463.91 L587,464.27 L587.5,464.65 L588,465.02 L588.5,465.4 L589,465.78 L589.5,466.15 L590,466.53 L590.5,466.91 L591,467.27 L591.5,467.63 L592,467.98 L592.5,468.32 L593,468.64 L593.5,468.95 L594,469.26 L594.5,469.56 L595,469.87 L595.5,470.17 L596,470.48 L596.5,470.78 L597,471.09 L597.5,471.39 L598,471.69 L598.5,472 L599,472.3 L599.5,472.61 L600,472.91 L600.5,473.22 L601,473.52 L601.5,473.82 L602,474.13 L602.5,474.43 L603,474.73 L603.5,475.03 L604,475.32 L604.5,475.59 L605,475.85 L605.5,476.08 L606,476.29 L606.5,476.49 L607,476.68 L607.5,476.86 L608,477.04 L608.5,477.22 L609,477.4 L609.5,477.58 L610,477.75 L610.5,477.93 L611,478.11 L611.5,478.29 L612,478.46 L612.5,478.64 L613,478.82 L613.5,479 L614,479.17 L614.5,479.35 L615,479.53 L615.5,479.71 L616,479.88 L616.5,480.06 L617,480.23 L617.5,480.39 L618,480.55 L618.5,480.7 L619,480.83 L619.5,480.96 L620,481.09 L620.5,481.21 L621,481.33 L621.5,481.45 L622,481.57 L622.5,481.69 L623,481.81 L623.5,481.92 L624,482.04 L624.5,482.16 L625,482.28 L625.5,482.4 L626,482.52 L626.5,482.64 L627,482.76 L627.5,482.87 L628,482.99 L628.5,483.11 L629,483.23 L629.5,483.34 L630,483.45 L630.5,483.56 L631,483.65 L631.5,483.74 L632,483.81 L632.5,483.88 L633,483.93 L633.5,483.98 L634,484.03 L634.5,484.07 L635,484.12 L635.5,484.16 L636,484.21 L636.5,484.25 L637,484.3 L637.5,484.34 L638,484.39 L638.5,484.43 L639,484.47 L639.5,484.52 L640,484.56 L640.5,484.61 L641,484.65 L641.5,484.7 L642,484.74 L642.5,484.78 L643,484.82 L643.5,484.86 L644,484.9 L644.5,484.92 L645,484.95 L645.5,484.97 L646,484.98 L646.5,484.99 L647,485 L647.5,485.01 L648,485.02 L648.5,485.03 L649,485.03 L649.5,485.04 L650,485.05 L650.5,485.06 L651,485.07 L651.5,485.07 L652,485.08 L652.5,485.09 L653,485.1 L653.5,485.1 L654,485.11 L654.5,485.12 L655,485.13 L655.5,485.14 L656,485.14 L656.5,485.15 L657,485.16 L657.5,485.17 L658,485.17 L658.5,485.18 L659,485.19 L659.5,485.2 L660,485.21 L660.5,485.21 L661,485.22 L661.5,485.23 L662,485.24 L662.5,485.25 L663,485.25 L663.5,485.26 L664,485.27 L664.5,485.28 L665,485.28 L665.5,485.29 L666,485.3 L666.5,485.31 L667,485.32 L667.5,485.32 L668,485.33 L668.5,485.34 L669,485.35 L669.5,485.36 L670,485.36 L670.5,485.37 L671,485.38 L671.5,485.39 L672,485.39 L672.5,485.4 L673,485.4 L673.5,485.4" fill="none" stroke="#b0b0b0" stroke-width="0.9" stroke-linejoin="round" stroke-linecap="butt" stroke-dasharray="5 3"/>
<path d="M400,-22.58 L400.5,-18.1 L401,-13.62 L401.5,-9.14 L402,-4.66 L402.5,-0.18 L403,4.3 L403.5,8.78 L404,13.26 L404.5,17.74 L405,22.22 L405.5,26.7 L406,31.18 L406.5,35.66 L407,40.14 L407.5,44.62 L408,49.1 L408.5,53.58 L409,58.06 L409.5,62.55 L410,67.03 L410.5,71.51 L411,75.99 L411.5,80.47 L412,84.95 L412.5,89.43 L413,93.91 L413.5,98.39 L414,102.87 L414.5,107.35 L415,111.83 L415.5,116.31 L416,120.79 L416.5,125.27 L417,129.75 L417.5,134.23 L418,138.71 L418.5,143.19 L419,147.67 L419.5,152.15 L420,156.63 L420.5,161.11 L421,165.6 L421.5,170.08 L422,174.42 L422.5,178.28 L423,182.13 L423.5,185.97 L424,189.82 L424.5,193.67 L425,197.52 L425.5,201.5 L426,205.51 L426.5,209.52 L427,213.53 L427.5,217.54 L428,221.32 L428.5,224.44 L429,227.51 L429.5,230.57 L430,233.64 L430.5,236.71 L431,239.69 L431.5,242.62 L432,245.54 L432.5,248.42 L433,251.18 L433.5,253.9 L434,256.62 L434.5,259.34 L435,262.06 L435.5,264.72 L436,267.27 L436.5,269.74 L437,272.19 L437.5,274.64 L438,277.07 L438.5,279.43 L439,281.72 L439.5,283.97 L440,286.2 L440.5,288.42 L441,290.63 L441.5,292.82 L442,295 L442.5,297.15 L443,299.28 L443.5,301.39 L444,303.48 L444.5,305.58 L445,307.66 L445.5,309.75 L446,311.83 L446.5,313.88 L447,315.76 L447.5,317.61 L448,319.44 L448.5,321.28 L449,323.11 L449.5,324.93 L450,326.74 L450.5,328.55 L451,330.36 L451.5,332.17 L452,333.97 L452.5,335.78 L453,337.52 L453.5,339.09 L454,340.61 L454.5,342.14 L455,343.67 L455.5,345.21 L456,346.77 L456.5,348.35 L457,349.93 L457.5,351.53 L458,353.13 L458.5,354.74 L459,356.34 L459.5,357.95 L460,359.54 L460.5,361.01 L461,362.28 L461.5,363.49 L462,364.72 L462.5,365.96 L463,367.24 L463.5,368.55 L464,369.87 L464.5,371.2 L465,372.53 L465.5,373.87 L466,375.25 L466.5,376.66 L467,378.08 L467.5,379.51 L468,380.94 L468.5,382.44 L469,384.03 L469.5,385.67 L470,387.35 L470.5,389.09 L471,390.82 L471.5,392.26 L472,393.45 L472.5,394.55 L473,395.63 L473.5,396.69 L474,397.75 L474.5,398.81 L475,399.87 L475.5,400.92 L476,401.97 L476.5,403.01 L477,404.02 L477.5,404.98 L478,405.92 L478.5,406.81 L479,407.64 L479.5,408.42 L480,409.19 L480.5,409.99 L481,410.82 L481.5,411.67 L482,412.53 L482.5,413.39 L483,414.24 L483.5,415.08 L484,415.9 L484.5,416.69 L485,417.47 L485.5,418.23 L486,418.99 L486.5,419.74 L487,420.48 L487.5,421.2 L488,421.9 L488.5,422.6 L489,423.29 L489.5,423.98 L490,424.67 L490.5,425.36 L491,426.06 L491.5,426.74 L492,427.42 L492.5,428.09 L493,428.73 L493.5,429.36 L494,429.97 L494.5,430.57 L495,431.16 L495.5,431.73 L496,432.28 L496.5,432.81 L497,433.32 L497.5,433.82 L498,434.32 L498.5,434.81 L499,435.3 L499.5,435.78 L500,436.24 L500.5,436.7 L501,437.14 L501.5,437.56 L502,437.96 L502.5,438.34 L503,438.71 L503.5,439.07 L504,439.43 L504.5,439.78 L505,440.12 L505.5,440.46 L506,440.79 L506.5,441.12 L507,441.45 L507.5,441.78 L508,442.1 L508.5,442.43 L509,442.75 L509.5,443.06 L510,443.36 L510.5,443.64 L511,443.91 L511.5,444.17 L512,444.43 L512.5,444.67 L513,444.91 L513.5,445.15 L514,445.38 L514.5,445.61 L515,445.85 L515.5,446.08 L516,446.31 L516.5,446.54 L517,446.77 L517.5,447.01 L518,447.24 L518.5,447.47 L519,447.7 L519.5,447.93 L520,448.15 L520.5,448.37 L521,448.58 L521.5,448.78 L522,448.97 L522.5,449.15 L523,449.32 L523.5,449.48 L524,449.64 L524.5,449.8 L525,449.95 L525.5,450.11 L526,450.26 L526.5,450.41 L527,450.57 L527.5,450.72 L528,450.87 L528.5,451.03 L529,451.18 L529.5,451.33 L530,451.49 L530.5,451.64 L531,451.79 L531.5,451.95 L532,452.1 L532.5,452.25 L533,452.4 L533.5,452.55 L534,452.7 L534.5,452.85 L535,453 L535.5,453.14 L536,453.29 L536.5,453.44 L537,453.58 L537.5,453.73 L538,453.88 L538.5,454.02 L539,454.16 L539.5,454.31 L540,454.45 L540.5,454.59 L541,454.72 L541.5,454.86 L542,455 L542.5,455.13 L543,455.27 L543.5,455.4 L544,455.53 L544.5,455.66 L545,455.79 L545.5,455.92 L546,456.04 L546.5,456.17 L547,456.3 L547.5,456.42 L548,456.55 L548.5,456.68 L549,456.81 L549.5,456.93 L550,457.06 L550.5,457.19 L551,457.31 L551.5,457.44 L552,457.57 L552.5,457.69 L553,457.82 L553.5,457.95 L554,458.08 L554.5,458.21 L555,458.34 L555.5,458.47 L556,458.61 L556.5,458.74 L557,458.87 L557.5,459 L558,459.14 L558.5,459.27 L559,459.4 L559.5,459.53 L560,459.67 L560.5,459.8 L561,459.93 L561.5,460.06 L562,460.19 L562.5,460.32 L563,460.45 L563.5,460.58 L564,460.72 L564.5,460.87 L565,461.03 L565.5,461.2 L566,461.37 L566.5,461.55 L567,461.73 L567.5,461.91 L568,462.09 L568.5,462.28 L569,462.46 L569.5,462.64 L570,462.83 L570.5,463.01 L571,463.19 L571.5,463.37 L572,463.56 L572.5,463.74 L573,463.92 L573.5,464.11 L574,464.29 L574.5,464.48 L575,464.66 L575.5,464.85 L576,465.04 L576.5,465.24 L577,465.43 L577.5,465.63 L578,465.82 L578.5,466.02 L579,466.21 L579.5,466.41 L580,466.6 L580.5,466.8 L581,467 L581.5,467.19 L582,467.39 L582.5,467.58 L583,467.78 L583.5,467.97 L584,468.17 L584.5,468.38 L585,468.59 L585.5,468.82 L586,469.06 L586.5,469.32 L587,469.59 L587.5,469.87 L588,470.15 L588.5,470.44 L589,470.72 L589.5,471 L590,471.29 L590.5,471.57 L591,471.84 L591.5,472.12 L592,472.38 L592.5,472.63 L593,472.87 L593.5,473.1 L594,473.33 L594.5,473.56 L595,473.79 L595.5,474.02 L596,474.25 L596.5,474.48 L597,474.71 L597.5,474.93 L598,475.16 L598.5,475.39 L599,475.62 L599.5,475.85 L600,476.08 L600.5,476.3 L601,476.53 L601.5,476.76 L602,476.99 L602.5,477.21 L603,477.44 L603.5,477.66 L604,477.88 L604.5,478.08 L605,478.28 L605.5,478.45 L606,478.61 L606.5,478.76 L607,478.9 L607.5,479.03 L608,479.17 L608.5,479.3 L609,479.44 L609.5,479.57 L610,479.7 L610.5,479.83 L611,479.97 L611.5,480.1 L612,480.23 L612.5,480.37 L613,480.5 L613.5,480.63 L614,480.76 L614.5,480.9 L615,481.03 L615.5,481.16 L616,481.3 L616.5,481.43 L617,481.55 L617.5,481.68 L618,481.79 L618.5,481.9 L619,482.01 L619.5,482.1 L620,482.2 L620.5,482.29 L621,482.38 L621.5,482.47 L622,482.56 L622.5,482.65 L623,482.73 L623.5,482.82 L624,482.91 L624.5,483 L625,483.09 L625.5,483.18 L626,483.27 L626.5,483.36 L627,483.45 L627.5,483.53 L628,483.62 L628.5,483.71 L629,483.8 L629.5,483.89 L630,483.97 L630.5,484.05 L631,484.12 L631.5,484.18 L632,484.24 L632.5,484.28 L633,484.33 L633.5,484.36 L634,484.4 L634.5,484.43 L635,484.47 L635.5,484.5 L636,484.53 L636.5,484.57 L637,484.6 L637.5,484.63 L638,484.67 L638.5,484.7 L639,484.73 L639.5,484.77 L640,484.8 L640.5,484.83 L641,484.87 L641.5,484.9 L642,484.93 L642.5,484.96 L643,484.99 L643.5,485.02 L644,485.05 L644.5,485.07 L645,485.09 L645.5,485.1 L646,485.11 L646.5,485.12 L647,485.13 L647.5,485.13 L648,485.14 L648.5,485.14 L649,485.15 L649.5,485.16 L650,485.16 L650.5,485.17 L651,485.17 L651.5,485.18 L652,485.19 L652.5,485.19 L653,485.2 L653.5,485.2 L654,485.21 L654.5,485.22 L655,485.22 L655.5,485.23 L656,485.23 L656.5,485.24 L657,485.24 L657.5,485.25 L658,485.26 L658.5,485.26 L659,485.27 L659.5,485.27 L660,485.28 L660.5,485.29 L661,485.29 L661.5,485.3 L662,485.3 L662.5,485.31 L663,485.32 L663.5,485.32 L664,485.33 L664.5,485.33 L665,485.34 L665.5,485.34 L666,485.35 L666.5,485.36 L667,485.36 L667.5,485.37 L668,485.37 L668.5,485.38 L669,485.39 L669.5,485.39 L670,485.4 L670.5,485.4 L671,485.41 L671.5,485.42 L672,485.42 L672.5,485.43 L673,485.43 L673.5,485.43" fill="none" stroke="#b0b0b0" stroke-width="0.9" stroke-linejoin="round" stroke-linecap="butt" stroke-dasharray="5 3"/>
<path d="M400,-29.35 L400.5,-24.13 L401,-18.91 L401.5,-13.7 L402,-8.48 L402.5,-3.26 L403,1.96 L403.5,7.17 L404,12.39 L404.5,17.61 L405,22.83 L405.5,28.04 L406,33.26 L406.5,38.48 L407,43.69 L407.5,48.91 L408,54.13 L408.5,59.35 L409,64.56 L409.5,69.78 L410,75 L410.5,80.22 L411,85.43 L411.5,90.65 L412,95.87 L412.5,101.08 L413,106.3 L413.5,111.52 L414,116.74 L414.5,121.95 L415,127.17 L415.5,132.39 L416,137.61 L416.5,142.82 L417,148.04 L417.5,153.26 L418,158.48 L418.5,163.69 L419,168.91 L419.5,174.13 L420,179.34 L420.5,184.56 L421,189.78 L421.5,195 L422,200 L422.5,204.28 L423,208.54 L423.5,212.8 L424,217.06 L424.5,221.32 L425,225.58 L425.5,230.04 L426,234.54 L426.5,239.05 L427,243.56 L427.5,248.06 L428,252.21 L428.5,255.36 L429,258.44 L429.5,261.52 L430,264.6 L430.5,267.67 L431,270.62 L431.5,273.48 L432,276.34 L432.5,279.13 L433,281.75 L433.5,284.3 L434,286.85 L434.5,289.4 L435,291.94 L435.5,294.41 L436,296.69 L436.5,298.86 L437,301.01 L437.5,303.15 L438,305.26 L438.5,307.26 L439,309.16 L439.5,311 L440,312.81 L440.5,314.6 L441,316.37 L441.5,318.13 L442,319.85 L442.5,321.54 L443,323.19 L443.5,324.82 L444,326.43 L444.5,328.02 L445,329.62 L445.5,331.21 L446,332.79 L446.5,334.35 L447,335.79 L447.5,337.19 L448,338.59 L448.5,339.98 L449,341.37 L449.5,342.74 L450,344.1 L450.5,345.46 L451,346.81 L451.5,348.16 L452,349.51 L452.5,350.85 L453,352.16 L453.5,353.33 L454,354.47 L454.5,355.62 L455,356.78 L455.5,357.95 L456,359.15 L456.5,360.38 L457,361.62 L457.5,362.87 L458,364.14 L458.5,365.41 L459,366.68 L459.5,367.95 L460,369.21 L460.5,370.38 L461,371.4 L461.5,372.39 L462,373.4 L462.5,374.45 L463,375.54 L463.5,376.67 L464,377.83 L464.5,378.99 L465,380.16 L465.5,381.34 L466,382.55 L466.5,383.78 L467,385.02 L467.5,386.26 L468,387.51 L468.5,388.81 L469,390.19 L469.5,391.63 L470,393.11 L470.5,394.7 L471,396.31 L471.5,397.72 L472,398.95 L472.5,400.1 L473,401.24 L473.5,402.37 L474,403.49 L474.5,404.6 L475,405.72 L475.5,406.83 L476,407.93 L476.5,409.03 L477,410.11 L477.5,411.15 L478,412.17 L478.5,413.13 L479,413.99 L479.5,414.79 L480,415.58 L480.5,416.4 L481,417.27 L481.5,418.18 L482,419.09 L482.5,420 L483,420.92 L483.5,421.82 L484,422.7 L484.5,423.57 L485,424.42 L485.5,425.26 L486,426.1 L486.5,426.93 L487,427.75 L487.5,428.53 L488,429.29 L488.5,430.03 L489,430.77 L489.5,431.51 L490,432.25 L490.5,432.99 L491,433.73 L491.5,434.47 L492,435.2 L492.5,435.92 L493,436.63 L493.5,437.32 L494,438 L494.5,438.67 L495,439.33 L495.5,439.96 L496,440.56 L496.5,441.13 L497,441.67 L497.5,442.19 L498,442.72 L498.5,443.23 L499,443.73 L499.5,444.22 L500,444.7 L500.5,445.17 L501,445.62 L501.5,446.06 L502,446.48 L502.5,446.89 L503,447.29 L503.5,447.69 L504,448.07 L504.5,448.45 L505,448.82 L505.5,449.18 L506,449.54 L506.5,449.89 L507,450.24 L507.5,450.58 L508,450.93 L508.5,451.27 L509,451.6 L509.5,451.92 L510,452.23 L510.5,452.51 L511,452.77 L511.5,453.03 L512,453.27 L512.5,453.5 L513,453.73 L513.5,453.96 L514,454.18 L514.5,454.4 L515,454.63 L515.5,454.85 L516,455.07 L516.5,455.3 L517,455.52 L517.5,455.74 L518,455.96 L518.5,456.18 L519,456.4 L519.5,456.62 L520,456.83 L520.5,457.03 L521,457.22 L521.5,457.4 L522,457.57 L522.5,457.72 L523,457.86 L523.5,458 L524,458.13 L524.5,458.26 L525,458.39 L525.5,458.51 L526,458.64 L526.5,458.77 L527,458.89 L527.5,459.02 L528,459.15 L528.5,459.27 L529,459.4 L529.5,459.53 L530,459.66 L530.5,459.78 L531,459.91 L531.5,460.04 L532,460.16 L532.5,460.29 L533,460.41 L533.5,460.54 L534,460.66 L534.5,460.78 L535,460.91 L535.5,461.03 L536,461.15 L536.5,461.27 L537,461.39 L537.5,461.51 L538,461.64 L538.5,461.75 L539,461.87 L539.5,461.99 L540,462.1 L540.5,462.21 L541,462.32 L541.5,462.42 L542,462.53 L542.5,462.64 L543,462.74 L543.5,462.84 L544,462.95 L544.5,463.05 L545,463.15 L545.5,463.25 L546,463.35 L546.5,463.45 L547,463.54 L547.5,463.64 L548,463.74 L548.5,463.84 L549,463.94 L549.5,464.04 L550,464.14 L550.5,464.24 L551,464.34 L551.5,464.44 L552,464.53 L552.5,464.63 L553,464.73 L553.5,464.83 L554,464.93 L554.5,465.04 L555,465.14 L555.5,465.24 L556,465.34 L556.5,465.45 L557,465.55 L557.5,465.65 L558,465.76 L558.5,465.86 L559,465.96 L559.5,466.07 L560,466.17 L560.5,466.27 L561,466.36 L561.5,466.46 L562,466.56 L562.5,466.66 L563,466.76 L563.5,466.86 L564,466.96 L564.5,467.08 L565,467.2 L565.5,467.32 L566,467.45 L566.5,467.58 L567,467.72 L567.5,467.86 L568,467.99 L568.5,468.13 L569,468.27 L569.5,468.4 L570,468.54 L570.5,468.68 L571,468.81 L571.5,468.95 L572,469.09 L572.5,469.23 L573,469.36 L573.5,469.5 L574,469.64 L574.5,469.78 L575,469.92 L575.5,470.06 L576,470.2 L576.5,470.35 L577,470.49 L577.5,470.64 L578,470.79 L578.5,470.93 L579,471.08 L579.5,471.23 L580,471.37 L580.5,471.52 L581,471.67 L581.5,471.81 L582,471.96 L582.5,472.11 L583,472.25 L583.5,472.4 L584,472.55 L584.5,472.7 L585,472.86 L585.5,473.03 L586,473.22 L586.5,473.41 L587,473.61 L587.5,473.82 L588,474.03 L588.5,474.24 L589,474.46 L589.5,474.67 L590,474.88 L590.5,475.09 L591,475.3 L591.5,475.5 L592,475.7 L592.5,475.88 L593,476.06 L593.5,476.24 L594,476.41 L594.5,476.59 L595,476.76 L595.5,476.93 L596,477.1 L596.5,477.27 L597,477.44 L597.5,477.61 L598,477.78 L598.5,477.95 L599,478.12 L599.5,478.3 L600,478.47 L600.5,478.64 L601,478.81 L601.5,478.98 L602,479.15 L602.5,479.32 L603,479.48 L603.5,479.65 L604,479.81 L604.5,479.97 L605,480.11 L605.5,480.24 L606,480.36 L606.5,480.47 L607,480.57 L607.5,480.67 L608,480.78 L608.5,480.87 L609,480.97 L609.5,481.07 L610,481.17 L610.5,481.27 L611,481.37 L611.5,481.47 L612,481.57 L612.5,481.67 L613,481.77 L613.5,481.87 L614,481.97 L614.5,482.07 L615,482.16 L615.5,482.26 L616,482.36 L616.5,482.46 L617,482.55 L617.5,482.65 L618,482.73 L618.5,482.82 L619,482.89 L619.5,482.97 L620,483.04 L620.5,483.1 L621,483.17 L621.5,483.24 L622,483.3 L622.5,483.37 L623,483.44 L623.5,483.5 L624,483.57 L624.5,483.64 L625,483.7 L625.5,483.77 L626,483.83 L626.5,483.9 L627,483.97 L627.5,484.03 L628,484.1 L628.5,484.17 L629,484.23 L629.5,484.3 L630,484.36 L630.5,484.42 L631,484.47 L631.5,484.52 L632,484.56 L632.5,484.59 L633,484.62 L633.5,484.65 L634,484.68 L634.5,484.7 L635,484.73 L635.5,484.75 L636,484.78 L636.5,484.8 L637,484.83 L637.5,484.85 L638,484.88 L638.5,484.9 L639,484.93 L639.5,484.95 L640,484.98 L640.5,485 L641,485.03 L641.5,485.05 L642,485.08 L642.5,485.1 L643,485.12 L643.5,485.14 L644,485.16 L644.5,485.18 L645,485.19 L645.5,485.2 L646,485.21 L646.5,485.22 L647,485.22 L647.5,485.23 L648,485.23 L648.5,485.24 L649,485.24 L649.5,485.24 L650,485.25 L650.5,485.25 L651,485.26 L651.5,485.26 L652,485.27 L652.5,485.27 L653,485.27 L653.5,485.28 L654,485.28 L654.5,485.29 L655,485.29 L655.5,485.3 L656,485.3 L656.5,485.31 L657,485.31 L657.5,485.31 L658,485.32 L658.5,485.32 L659,485.33 L659.5,485.33 L660,485.34 L660.5,485.34 L661,485.34 L661.5,485.35 L662,485.35 L662.5,485.36 L663,485.36 L663.5,485.37 L664,485.37 L664.5,485.38 L665,485.38 L665.5,485.38 L666,485.39 L666.5,485.39 L667,485.4 L667.5,485.4 L668,485.41 L668.5,485.41 L669,485.41 L669.5,485.42 L670,485.42 L670.5,485.43 L671,485.43 L671.5,485.44 L672,485.44 L672.5,485.45 L673,485.45 L673.5,485.45" fill="none" stroke="#b0b0b0" stroke-width="0.9" stroke-linejoin="round" stroke-linecap="butt" stroke-dasharray="5 3"/>
<path d="M400,-37.31 L400.5,-31.22 L401,-25.14 L401.5,-19.05 L402,-12.97 L402.5,-6.89 L403,-0.8 L403.5,5.28 L404,11.37 L404.5,17.45 L405,23.54 L405.5,29.62 L406,35.7 L406.5,41.79 L407,47.87 L407.5,53.96 L408,60.04 L408.5,66.12 L409,72.21 L409.5,78.29 L410,84.38 L410.5,90.46 L411,96.55 L411.5,102.63 L412,108.71 L412.5,114.8 L413,120.88 L413.5,126.97 L414,133.05 L414.5,139.14 L415,145.22 L415.5,151.3 L416,157.39 L416.5,163.47 L417,169.56 L417.5,175.64 L418,181.73 L418.5,187.81 L419,193.89 L419.5,199.98 L420,206.06 L420.5,212.15 L421,218.23 L421.5,224.31 L422,230.1 L422.5,234.87 L423,239.62 L423.5,244.36 L424,249.1 L424.5,253.85 L425,258.6 L425.5,263.61 L426,268.7 L426.5,273.79 L427,278.88 L427.5,283.97 L428,288.55 L428.5,291.75 L429,294.84 L429.5,297.93 L430,301.02 L430.5,304.1 L431,307.01 L431.5,309.8 L432,312.58 L432.5,315.27 L433,317.7 L433.5,320.06 L434,322.41 L434.5,324.76 L435,327.1 L435.5,329.33 L436,331.31 L436.5,333.13 L437,334.92 L437.5,336.7 L438,338.42 L438.5,340.01 L439,341.45 L439.5,342.8 L440,344.11 L440.5,345.4 L441,346.66 L441.5,347.9 L442,349.1 L442.5,350.24 L443,351.33 L443.5,352.38 L444,353.42 L444.5,354.43 L445,355.44 L445.5,356.45 L446,357.45 L446.5,358.43 L447,359.35 L447.5,360.24 L448,361.12 L448.5,361.99 L449,362.85 L449.5,363.69 L450,364.52 L450.5,365.35 L451,366.16 L451.5,366.97 L452,367.78 L452.5,368.59 L453,369.38 L453.5,370.08 L454,370.77 L454.5,371.48 L455,372.2 L455.5,372.94 L456,373.72 L456.5,374.53 L457,375.36 L457.5,376.22 L458,377.09 L458.5,377.96 L459,378.83 L459.5,379.71 L460,380.58 L460.5,381.4 L461,382.14 L461.5,382.86 L462,383.62 L462.5,384.43 L463,385.3 L463.5,386.23 L464,387.19 L464.5,388.17 L465,389.15 L465.5,390.13 L466,391.13 L466.5,392.15 L467,393.17 L467.5,394.2 L468,395.24 L468.5,396.31 L469,397.45 L469.5,398.63 L470,399.89 L470.5,401.29 L471,402.77 L471.5,404.15 L472,405.41 L472.5,406.64 L473,407.85 L473.5,409.06 L474,410.24 L474.5,411.42 L475,412.6 L475.5,413.77 L476,414.95 L476.5,416.12 L477,417.27 L477.5,418.41 L478,419.52 L478.5,420.56 L479,421.47 L479.5,422.29 L480,423.09 L480.5,423.94 L481,424.86 L481.5,425.83 L482,426.81 L482.5,427.79 L483,428.77 L483.5,429.74 L484,430.7 L484.5,431.65 L485,432.59 L485.5,433.53 L486,434.46 L486.5,435.39 L487,436.29 L487.5,437.15 L488,437.97 L488.5,438.78 L489,439.58 L489.5,440.37 L490,441.17 L490.5,441.97 L491,442.77 L491.5,443.56 L492,444.35 L492.5,445.14 L493,445.92 L493.5,446.68 L494,447.45 L494.5,448.2 L495,448.94 L495.5,449.65 L496,450.3 L496.5,450.91 L497,451.49 L497.5,452.05 L498,452.59 L498.5,453.13 L499,453.65 L499.5,454.16 L500,454.65 L500.5,455.13 L501,455.6 L501.5,456.06 L502,456.51 L502.5,456.95 L503,457.39 L503.5,457.82 L504,458.24 L504.5,458.65 L505,459.06 L505.5,459.45 L506,459.83 L506.5,460.2 L507,460.57 L507.5,460.94 L508,461.31 L508.5,461.67 L509,462.02 L509.5,462.35 L510,462.66 L510.5,462.94 L511,463.2 L511.5,463.44 L512,463.67 L512.5,463.89 L513,464.11 L513.5,464.32 L514,464.53 L514.5,464.75 L515,464.96 L515.5,465.17 L516,465.38 L516.5,465.59 L517,465.81 L517.5,466.02 L518,466.23 L518.5,466.44 L519,466.65 L519.5,466.85 L520,467.05 L520.5,467.23 L521,467.39 L521.5,467.55 L522,467.68 L522.5,467.8 L523,467.91 L523.5,468.01 L524,468.11 L524.5,468.21 L525,468.31 L525.5,468.4 L526,468.5 L526.5,468.6 L527,468.69 L527.5,468.79 L528,468.88 L528.5,468.98 L529,469.07 L529.5,469.17 L530,469.27 L530.5,469.36 L531,469.46 L531.5,469.55 L532,469.65 L532.5,469.74 L533,469.84 L533.5,469.93 L534,470.02 L534.5,470.12 L535,470.21 L535.5,470.3 L536,470.4 L536.5,470.49 L537,470.58 L537.5,470.67 L538,470.76 L538.5,470.85 L539,470.94 L539.5,471.02 L540,471.1 L540.5,471.18 L541,471.25 L541.5,471.32 L542,471.39 L542.5,471.46 L543,471.53 L543.5,471.6 L544,471.67 L544.5,471.74 L545,471.8 L545.5,471.87 L546,471.94 L546.5,472 L547,472.07 L547.5,472.14 L548,472.2 L548.5,472.27 L549,472.33 L549.5,472.4 L550,472.47 L550.5,472.53 L551,472.6 L551.5,472.67 L552,472.73 L552.5,472.8 L553,472.86 L553.5,472.93 L554,473 L554.5,473.07 L555,473.13 L555.5,473.2 L556,473.27 L556.5,473.34 L557,473.41 L557.5,473.48 L558,473.55 L558.5,473.62 L559,473.68 L559.5,473.75 L560,473.81 L560.5,473.88 L561,473.94 L561.5,474 L562,474.06 L562.5,474.12 L563,474.18 L563.5,474.24 L564,474.31 L564.5,474.38 L565,474.45 L565.5,474.52 L566,474.6 L566.5,474.68 L567,474.77 L567.5,474.85 L568,474.93 L568.5,475.01 L569,475.1 L569.5,475.18 L570,475.26 L570.5,475.35 L571,475.43 L571.5,475.51 L572,475.6 L572.5,475.68 L573,475.76 L573.5,475.85 L574,475.93 L574.5,476.02 L575,476.1 L575.5,476.19 L576,476.27 L576.5,476.36 L577,476.45 L577.5,476.54 L578,476.63 L578.5,476.72 L579,476.81 L579.5,476.9 L580,476.98 L580.5,477.07 L581,477.16 L581.5,477.25 L582,477.34 L582.5,477.43 L583,477.52 L583.5,477.61 L584,477.7 L584.5,477.79 L585,477.89 L585.5,477.99 L586,478.1 L586.5,478.22 L587,478.34 L587.5,478.47 L588,478.6 L588.5,478.72 L589,478.85 L589.5,478.98 L590,479.11 L590.5,479.24 L591,479.36 L591.5,479.48 L592,479.6 L592.5,479.72 L593,479.82 L593.5,479.93 L594,480.04 L594.5,480.14 L595,480.24 L595.5,480.35 L596,480.45 L596.5,480.55 L597,480.66 L597.5,480.76 L598,480.87 L598.5,480.97 L599,481.07 L599.5,481.18 L600,481.28 L600.5,481.38 L601,481.48 L601.5,481.59 L602,481.69 L602.5,481.79 L603,481.89 L603.5,481.99 L604,482.09 L604.5,482.18 L605,482.27 L605.5,482.34 L606,482.41 L606.5,482.48 L607,482.54 L607.5,482.6 L608,482.67 L608.5,482.72 L609,482.78 L609.5,482.84 L610,482.9 L610.5,482.96 L611,483.02 L611.5,483.08 L612,483.14 L612.5,483.2 L613,483.26 L613.5,483.32 L614,483.38 L614.5,483.44 L615,483.5 L615.5,483.56 L616,483.62 L616.5,483.68 L617,483.73 L617.5,483.79 L618,483.84 L618.5,483.89 L619,483.94 L619.5,483.98 L620,484.02 L620.5,484.06 L621,484.1 L621.5,484.14 L622,484.18 L622.5,484.22 L623,484.26 L623.5,484.3 L624,484.34 L624.5,484.38 L625,484.42 L625.5,484.46 L626,484.5 L626.5,484.54 L627,484.58 L627.5,484.62 L628,484.66 L628.5,484.7 L629,484.74 L629.5,484.78 L630,484.81 L630.5,484.85 L631,484.88 L631.5,484.91 L632,484.93 L632.5,484.96 L633,484.97 L633.5,484.99 L634,485.01 L634.5,485.02 L635,485.04 L635.5,485.05 L636,485.07 L636.5,485.08 L637,485.1 L637.5,485.11 L638,485.13 L638.5,485.14 L639,485.16 L639.5,485.17 L640,485.19 L640.5,485.2 L641,485.22 L641.5,485.23 L642,485.25 L642.5,485.26 L643,485.27 L643.5,485.29 L644,485.3 L644.5,485.31 L645,485.32 L645.5,485.32 L646,485.33 L646.5,485.33 L647,485.33 L647.5,485.34 L648,485.34 L648.5,485.34 L649,485.34 L649.5,485.35 L650,485.35 L650.5,485.35 L651,485.35 L651.5,485.36 L652,485.36 L652.5,485.36 L653,485.36 L653.5,485.37 L654,485.37 L654.5,485.37 L655,485.38 L655.5,485.38 L656,485.38 L656.5,485.38 L657,485.39 L657.5,485.39 L658,485.39 L658.5,485.39 L659,485.4 L659.5,485.4 L660,485.4 L660.5,485.4 L661,485.41 L661.5,485.41 L662,485.41 L662.5,485.41 L663,485.42 L663.5,485.42 L664,485.42 L664.5,485.43 L665,485.43 L665.5,485.43 L666,485.43 L666.5,485.44 L667,485.44 L667.5,485.44 L668,485.44 L668.5,485.45 L669,485.45 L669.5,485.45 L670,485.45 L670.5,485.46 L671,485.46 L671.5,485.46 L672,485.46 L672.5,485.47 L673,485.47 L673.5,485.47" fill="none" stroke="#b0b0b0" stroke-width="0.9" stroke-linejoin="round" stroke-linecap="butt" stroke-dasharray="5 3"/>
<path d="M400,-49.25 L400.5,-41.86 L401,-34.48 L401.5,-27.09 L402,-19.71 L402.5,-12.32 L403,-4.94 L403.5,2.45 L404,9.83 L404.5,17.22 L405,24.6 L405.5,31.98 L406,39.37 L406.5,46.75 L407,54.14 L407.5,61.52 L408,68.91 L408.5,76.29 L409,83.68 L409.5,91.06 L410,98.45 L410.5,105.83 L411,113.22 L411.5,120.6 L412,127.98 L412.5,135.37 L413,142.75 L413.5,150.14 L414,157.52 L414.5,164.91 L415,172.29 L415.5,179.68 L416,187.06 L416.5,194.45 L417,201.83 L417.5,209.22 L418,216.6 L418.5,223.98 L419,231.37 L419.5,238.75 L420,246.14 L420.5,253.52 L421,260.91 L421.5,268.29 L422,275.25 L422.5,280.76 L423,286.23 L423.5,291.7 L424,297.17 L424.5,302.64 L425,308.12 L425.5,313.97 L426,319.94 L426.5,325.9 L427,331.86 L427.5,337.83 L428,343.07 L428.5,346.33 L429,349.44 L429.5,352.54 L430,355.65 L430.5,358.74 L431,361.59 L431.5,364.27 L432,366.93 L432.5,369.47 L433,371.64 L433.5,373.7 L434,375.75 L434.5,377.79 L435,379.83 L435.5,381.72 L436,383.23 L436.5,384.53 L437,385.78 L437.5,387.01 L438,388.17 L438.5,389.12 L439,389.88 L439.5,390.5 L440,391.06 L440.5,391.59 L441,392.1 L441.5,392.56 L442,392.96 L442.5,393.28 L443,393.53 L443.5,393.74 L444,393.9 L444.5,394.05 L445,394.18 L445.5,394.31 L446,394.44 L446.5,394.56 L447,394.68 L447.5,394.8 L448,394.91 L448.5,395 L449,395.07 L449.5,395.12 L450,395.16 L450.5,395.18 L451,395.19 L451.5,395.2 L452,395.2 L452.5,395.2 L453,395.2 L453.5,395.21 L454,395.23 L454.5,395.26 L455,395.33 L455.5,395.42 L456,395.57 L456.5,395.76 L457,395.98 L457.5,396.24 L458,396.51 L458.5,396.79 L459,397.07 L459.5,397.36 L460,397.64 L460.5,397.93 L461,398.24 L461.5,398.57 L462,398.95 L462.5,399.4 L463,399.94 L463.5,400.56 L464,401.23 L464.5,401.93 L465,402.62 L465.5,403.32 L466,404.01 L466.5,404.71 L467,405.41 L467.5,406.12 L468,406.83 L468.5,407.57 L469,408.32 L469.5,409.14 L470,410.06 L470.5,411.18 L471,412.46 L471.5,413.79 L472,415.11 L472.5,416.44 L473,417.77 L473.5,419.08 L474,420.37 L474.5,421.65 L475,422.92 L475.5,424.19 L476,425.47 L476.5,426.74 L477,428.02 L477.5,429.29 L478,430.54 L478.5,431.71 L479,432.69 L479.5,433.53 L480,434.36 L480.5,435.25 L481,436.25 L481.5,437.31 L482,438.38 L482.5,439.46 L483,440.54 L483.5,441.62 L484,442.7 L484.5,443.78 L485,444.85 L485.5,445.93 L486,447.01 L486.5,448.08 L487,449.11 L487.5,450.08 L488,451 L488.5,451.9 L489,452.78 L489.5,453.67 L490,454.55 L490.5,455.43 L491,456.32 L491.5,457.2 L492,458.08 L492.5,458.97 L493,459.85 L493.5,460.73 L494,461.62 L494.5,462.5 L495,463.36 L495.5,464.18 L496,464.92 L496.5,465.59 L497,466.22 L497.5,466.82 L498,467.41 L498.5,467.98 L499,468.53 L499.5,469.06 L500,469.57 L500.5,470.07 L501,470.56 L501.5,471.06 L502,471.55 L502.5,472.04 L503,472.53 L503.5,473.02 L504,473.49 L504.5,473.96 L505,474.41 L505.5,474.84 L506,475.26 L506.5,475.67 L507,476.08 L507.5,476.48 L508,476.88 L508.5,477.27 L509,477.65 L509.5,478 L510,478.32 L510.5,478.59 L511,478.84 L511.5,479.06 L512,479.27 L512.5,479.47 L513,479.67 L513.5,479.87 L514,480.06 L514.5,480.26 L515,480.45 L515.5,480.65 L516,480.85 L516.5,481.04 L517,481.24 L517.5,481.43 L518,481.63 L518.5,481.82 L519,482.01 L519.5,482.19 L520,482.37 L520.5,482.52 L521,482.65 L521.5,482.76 L522,482.85 L522.5,482.92 L523,482.99 L523.5,483.04 L524,483.09 L524.5,483.14 L525,483.19 L525.5,483.24 L526,483.29 L526.5,483.34 L527,483.39 L527.5,483.44 L528,483.48 L528.5,483.53 L529,483.58 L529.5,483.63 L530,483.68 L530.5,483.73 L531,483.78 L531.5,483.83 L532,483.88 L532.5,483.93 L533,483.97 L533.5,484.02 L534,484.07 L534.5,484.12 L535,484.17 L535.5,484.22 L536,484.27 L536.5,484.32 L537,484.36 L537.5,484.41 L538,484.46 L538.5,484.5 L539,484.54 L539.5,484.57 L540,484.6 L540.5,484.63 L541,484.65 L541.5,484.67 L542,484.69 L542.5,484.71 L543,484.72 L543.5,484.74 L544,484.76 L544.5,484.77 L545,484.79 L545.5,484.81 L546,484.82 L546.5,484.84 L547,484.86 L547.5,484.88 L548,484.89 L548.5,484.91 L549,484.93 L549.5,484.94 L550,484.96 L550.5,484.98 L551,484.99 L551.5,485.01 L552,485.03 L552.5,485.05 L553,485.06 L553.5,485.08 L554,485.1 L554.5,485.11 L555,485.13 L555.5,485.15 L556,485.16 L556.5,485.18 L557,485.2 L557.5,485.21 L558,485.23 L558.5,485.25 L559,485.26 L559.5,485.27 L560,485.28 L560.5,485.29 L561,485.3 L561.5,485.31 L562,485.31 L562.5,485.31 L563,485.31 L563.5,485.32 L564,485.32 L564.5,485.32 L565,485.32 L565.5,485.33 L566,485.33 L566.5,485.33 L567,485.33 L567.5,485.34 L568,485.34 L568.5,485.34 L569,485.34 L569.5,485.35 L570,485.35 L570.5,485.35 L571,485.36 L571.5,485.36 L572,485.36 L572.5,485.36 L573,485.37 L573.5,485.37 L574,485.37 L574.5,485.37 L575,485.37 L575.5,485.38 L576,485.38 L576.5,485.38 L577,485.39 L577.5,485.39 L578,485.39 L578.5,485.39 L579,485.4 L579.5,485.4 L580,485.4 L580.5,485.4 L581,485.41 L581.5,485.41 L582,485.41 L582.5,485.41 L583,485.42 L583.5,485.42 L584,485.42 L584.5,485.42 L585,485.43 L585.5,485.43 L586,485.43 L586.5,485.43 L587,485.44 L587.5,485.44 L588,485.44 L588.5,485.44 L589,485.45 L589.5,485.45 L590,485.45 L590.5,485.45 L591,485.46 L591.5,485.46 L592,485.46 L592.5,485.46 L593,485.47 L593.5,485.47 L594,485.47 L594.5,485.47 L595,485.47 L595.5,485.48 L596,485.48 L596.5,485.48 L597,485.48 L597.5,485.49 L598,485.49 L598.5,485.49 L599,485.49 L599.5,485.5 L600,485.5 L600.5,485.5 L601,485.5 L601.5,485.5 L602,485.5 L602.5,485.5 L603,485.5 L603.5,485.5 L604,485.5 L604.5,485.5 L605,485.5 L605.5,485.5 L606,485.5 L606.5,485.5 L607,485.5 L607.5,485.5 L608,485.5 L608.5,485.5 L609,485.5 L609.5,485.5 L610,485.5 L610.5,485.5 L611,485.5 L611.5,485.5 L612,485.5 L612.5,485.5 L613,485.5 L613.5,485.5 L614,485.5 L614.5,485.5 L615,485.5 L615.5,485.5 L616,485.5 L616.5,485.5 L617,485.5 L617.5,485.5 L618,485.5 L618.5,485.5 L619,485.5 L619.5,485.5 L620,485.5 L620.5,485.5 L621,485.5 L621.5,485.5 L622,485.5 L622.5,485.5 L623,485.5 L623.5,485.5 L624,485.5 L624.5,485.5 L625,485.5 L625.5,485.5 L626,485.5 L626.5,485.5 L627,485.5 L627.5,485.5 L628,485.5 L628.5,485.5 L629,485.5 L629.5,485.5 L630,485.5 L630.5,485.5 L631,485.5 L631.5,485.5 L632,485.5 L632.5,485.5 L633,485.5 L633.5,485.5 L634,485.5 L634.5,485.5 L635,485.5 L635.5,485.5 L636,485.5 L636.5,485.5 L637,485.5 L637.5,485.5 L638,485.5 L638.5,485.5 L639,485.5 L639.5,485.5 L640,485.5 L640.5,485.5 L641,485.5 L641.5,485.5 L642,485.5 L642.5,485.5 L643,485.5 L643.5,485.5 L644,485.5 L644.5,485.5 L645,485.5 L645.5,485.5 L646,485.5 L646.5,485.5 L647,485.5 L647.5,485.5 L648,485.5 L648.5,485.5 L649,485.5 L649.5,485.5 L650,485.5 L650.5,485.5 L651,485.5 L651.5,485.5 L652,485.5 L652.5,485.5 L653,485.5 L653.5,485.5 L654,485.5 L654.5,485.5 L655,485.5 L655.5,485.5 L656,485.5 L656.5,485.5 L657,485.5 L657.5,485.5 L658,485.5 L658.5,485.5 L659,485.5 L659.5,485.5 L660,485.5 L660.5,485.5 L661,485.5 L661.5,485.5 L662,485.5 L662.5,485.5 L663,485.5 L663.5,485.5 L664,485.5 L664.5,485.5 L665,485.5 L665.5,485.5 L666,485.5 L666.5,485.5 L667,485.5 L667.5,485.5 L668,485.5 L668.5,485.5 L669,485.5 L669.5,485.5 L670,485.5 L670.5,485.5 L671,485.5 L671.5,485.5 L672,485.5 L672.5,485.5 L673,485.5 L673.5,485.5" fill="none" stroke="#2020ee" stroke-width="2.6" stroke-linejoin="round" stroke-linecap="butt" stroke-dasharray="7 3.6"/>
<path d="M400,-9.45 L400.5,-6.4 L401,-3.35 L401.5,-0.3 L402,2.75 L402.5,5.8 L403,8.85 L403.5,11.9 L404,14.95 L404.5,18 L405,21.05 L405.5,24.1 L406,27.15 L406.5,30.2 L407,33.25 L407.5,36.3 L408,39.35 L408.5,42.4 L409,45.45 L409.5,48.5 L410,51.55 L410.5,54.6 L411,57.65 L411.5,60.7 L412,63.75 L412.5,66.8 L413,69.85 L413.5,72.9 L414,75.95 L414.5,79 L415,82.05 L415.5,85.1 L416,88.15 L416.5,91.2 L417,94.25 L417.5,97.3 L418,100.35 L418.5,103.4 L419,106.45 L419.5,109.5 L420,112.55 L420.5,115.6 L421,118.65 L421.5,121.7 L422,124.75 L422.5,127.8 L423,130.85 L423.5,133.9 L424,136.95 L424.5,140 L425,143.05 L425.5,146.1 L426,149.15 L426.5,152.2 L427,155.25 L427.5,158.3 L428,161.35 L428.5,164.4 L429,167.45 L429.5,170.5 L430,173.55 L430.5,176.6 L431,179.65 L431.5,182.7 L432,185.75 L432.5,188.8 L433,191.85 L433.5,194.9 L434,197.95 L434.5,201 L435,204.05 L435.5,207.1 L436,210.15 L436.5,213.2 L437,216.25 L437.5,219.3 L438,222.35 L438.5,225.4 L439,228.45 L439.5,231.5 L440,234.55 L440.5,237.6 L441,240.65 L441.5,243.7 L442,246.75 L442.5,249.8 L443,252.85 L443.5,255.9 L444,258.95 L444.5,262 L445,265.05 L445.5,268.1 L446,271.15 L446.5,274.14 L447,276.89 L447.5,279.58 L448,282.28 L448.5,284.97 L449,287.66 L449.5,290.35 L450,293.05 L450.5,295.74 L451,298.43 L451.5,301.12 L452,303.82 L452.5,306.51 L453,309.11 L453.5,311.45 L454,313.71 L454.5,315.97 L455,318.23 L455.5,320.48 L456,322.74 L456.5,325 L457,327.25 L457.5,329.51 L458,331.77 L458.5,334.02 L459,336.28 L459.5,338.54 L460,340.78 L460.5,342.82 L461,344.56 L461.5,346.21 L462,347.85 L462.5,349.49 L463,351.14 L463.5,352.78 L464,354.42 L464.5,356.06 L465,357.7 L465.5,359.36 L466,361.08 L466.5,362.84 L467,364.62 L467.5,366.4 L468,368.19 L468.5,370.06 L469,372.06 L469.5,374.11 L470,376.17 L470.5,378.22 L471,380.17 L471.5,381.66 L472,382.78 L472.5,383.77 L473,384.72 L473.5,385.67 L474,386.62 L474.5,387.56 L475,388.51 L475.5,389.46 L476,390.4 L476.5,391.32 L477,392.2 L477.5,393.01 L478,393.79 L478.5,394.55 L479,395.3 L479.5,396.05 L480,396.8 L480.5,397.55 L481,398.3 L481.5,399.05 L482,399.8 L482.5,400.55 L483,401.29 L483.5,402.01 L484,402.7 L484.5,403.36 L485,403.98 L485.5,404.59 L486,405.19 L486.5,405.78 L487,406.38 L487.5,406.98 L488,407.57 L488.5,408.17 L489,408.77 L489.5,409.36 L490,409.96 L490.5,410.56 L491,411.15 L491.5,411.74 L492,412.32 L492.5,412.88 L493,413.4 L493.5,413.9 L494,414.38 L494.5,414.84 L495,415.3 L495.5,415.75 L496,416.21 L496.5,416.66 L497,417.11 L497.5,417.57 L498,418.02 L498.5,418.48 L499,418.93 L499.5,419.38 L500,419.83 L500.5,420.26 L501,420.68 L501.5,421.06 L502,421.42 L502.5,421.75 L503,422.06 L503.5,422.36 L504,422.65 L504.5,422.94 L505,423.23 L505.5,423.52 L506,423.81 L506.5,424.1 L507,424.4 L507.5,424.69 L508,424.98 L508.5,425.27 L509,425.56 L509.5,425.85 L510,426.14 L510.5,426.42 L511,426.71 L511.5,426.99 L512,427.26 L512.5,427.53 L513,427.79 L513.5,428.05 L514,428.3 L514.5,428.55 L515,428.8 L515.5,429.05 L516,429.3 L516.5,429.55 L517,429.8 L517.5,430.05 L518,430.3 L518.5,430.55 L519,430.8 L519.5,431.05 L520,431.3 L520.5,431.55 L521,431.8 L521.5,432.04 L522,432.28 L522.5,432.51 L523,432.74 L523.5,432.95 L524,433.17 L524.5,433.38 L525,433.58 L525.5,433.79 L526,433.99 L526.5,434.2 L527,434.4 L527.5,434.61 L528,434.81 L528.5,435.02 L529,435.22 L529.5,435.43 L530,435.63 L530.5,435.84 L531,436.04 L531.5,436.24 L532,436.45 L532.5,436.65 L533,436.85 L533.5,437.05 L534,437.25 L534.5,437.45 L535,437.64 L535.5,437.84 L536,438.03 L536.5,438.23 L537,438.42 L537.5,438.62 L538,438.81 L538.5,439.01 L539,439.2 L539.5,439.4 L540,439.59 L540.5,439.79 L541,439.98 L541.5,440.18 L542,440.37 L542.5,440.57 L543,440.76 L543.5,440.95 L544,441.14 L544.5,441.32 L545,441.5 L545.5,441.69 L546,441.87 L546.5,442.05 L547,442.23 L547.5,442.41 L548,442.59 L548.5,442.77 L549,442.95 L549.5,443.14 L550,443.32 L550.5,443.5 L551,443.68 L551.5,443.86 L552,444.04 L552.5,444.22 L553,444.4 L553.5,444.59 L554,444.77 L554.5,444.96 L555,445.15 L555.5,445.33 L556,445.52 L556.5,445.71 L557,445.9 L557.5,446.1 L558,446.29 L558.5,446.48 L559,446.67 L559.5,446.86 L560,447.05 L560.5,447.24 L561,447.43 L561.5,447.62 L562,447.81 L562.5,448 L563,448.2 L563.5,448.4 L564,448.61 L564.5,448.83 L565,449.07 L565.5,449.31 L566,449.57 L566.5,449.84 L567,450.1 L567.5,450.37 L568,450.65 L568.5,450.92 L569,451.19 L569.5,451.46 L570,451.73 L570.5,452 L571,452.27 L571.5,452.55 L572,452.82 L572.5,453.09 L573,453.36 L573.5,453.63 L574,453.91 L574.5,454.18 L575,454.46 L575.5,454.74 L576,455.03 L576.5,455.32 L577,455.6 L577.5,455.89 L578,456.18 L578.5,456.48 L579,456.77 L579.5,457.06 L580,457.35 L580.5,457.64 L581,457.93 L581.5,458.22 L582,458.51 L582.5,458.8 L583,459.09 L583.5,459.38 L584,459.68 L584.5,459.98 L585,460.3 L585.5,460.64 L586,461 L586.5,461.39 L587,461.79 L587.5,462.21 L588,462.63 L588.5,463.05 L589,463.47 L589.5,463.89 L590,464.31 L590.5,464.73 L591,465.14 L591.5,465.54 L592,465.93 L592.5,466.3 L593,466.66 L593.5,467.01 L594,467.36 L594.5,467.7 L595,468.04 L595.5,468.38 L596,468.72 L596.5,469.06 L597,469.4 L597.5,469.74 L598,470.08 L598.5,470.42 L599,470.76 L599.5,471.1 L600,471.44 L600.5,471.77 L601,472.11 L601.5,472.45 L602,472.79 L602.5,473.13 L603,473.47 L603.5,473.8 L604,474.13 L604.5,474.43 L605,474.72 L605.5,474.98 L606,475.21 L606.5,475.44 L607,475.65 L607.5,475.85 L608,476.05 L608.5,476.25 L609,476.45 L609.5,476.65 L610,476.85 L610.5,477.04 L611,477.24 L611.5,477.44 L612,477.64 L612.5,477.84 L613,478.04 L613.5,478.23 L614,478.43 L614.5,478.63 L615,478.83 L615.5,479.03 L616,479.22 L616.5,479.42 L617,479.61 L617.5,479.79 L618,479.97 L618.5,480.13 L619,480.29 L619.5,480.43 L620,480.57 L620.5,480.71 L621,480.84 L621.5,480.97 L622,481.11 L622.5,481.24 L623,481.37 L623.5,481.51 L624,481.64 L624.5,481.77 L625,481.9 L625.5,482.04 L626,482.17 L626.5,482.3 L627,482.43 L627.5,482.57 L628,482.7 L628.5,482.83 L629,482.96 L629.5,483.09 L630,483.21 L630.5,483.33 L631,483.44 L631.5,483.53 L632,483.61 L632.5,483.69 L633,483.75 L633.5,483.8 L634,483.86 L634.5,483.91 L635,483.96 L635.5,484.01 L636,484.06 L636.5,484.11 L637,484.16 L637.5,484.21 L638,484.25 L638.5,484.3 L639,484.35 L639.5,484.4 L640,484.45 L640.5,484.5 L641,484.55 L641.5,484.6 L642,484.65 L642.5,484.7 L643,484.74 L643.5,484.79 L644,484.82 L644.5,484.86 L645,484.88 L645.5,484.9 L646,484.92 L646.5,484.93 L647,484.94 L647.5,484.95 L648,484.96 L648.5,484.97 L649,484.98 L649.5,484.99 L650,485 L650.5,485.01 L651,485.01 L651.5,485.02 L652,485.03 L652.5,485.04 L653,485.05 L653.5,485.06 L654,485.07 L654.5,485.08 L655,485.08 L655.5,485.09 L656,485.1 L656.5,485.11 L657,485.12 L657.5,485.13 L658,485.14 L658.5,485.15 L659,485.15 L659.5,485.16 L660,485.17 L660.5,485.18 L661,485.19 L661.5,485.2 L662,485.21 L662.5,485.22 L663,485.22 L663.5,485.23 L664,485.24 L664.5,485.25 L665,485.26 L665.5,485.27 L666,485.28 L666.5,485.29 L667,485.29 L667.5,485.3 L668,485.31 L668.5,485.32 L669,485.33 L669.5,485.34 L670,485.35 L670.5,485.36 L671,485.36 L671.5,485.37 L672,485.38 L672.5,485.39 L673,485.39 L673.5,485.39" fill="none" stroke="#44e626" stroke-width="2.6" stroke-linejoin="round" stroke-linecap="butt" stroke-dasharray="7 3.6"/>
</g>
<line x1="409.8" y1="274.3" x2="672.6" y2="274.3" stroke="#333" stroke-width="1.1" />
<line x1="413.6" y1="274.3" x2="413.6" y2="487" stroke="#444" stroke-width="1.2" />
<line x1="672.6" y1="274.3" x2="672.6" y2="487" stroke="#555" stroke-width="1.2" />
<line x1="409.8" y1="487" x2="672.6" y2="487" stroke="#555" stroke-width="1.2" />
<line x1="409.8" y1="487" x2="413.6" y2="487" stroke="#5a5a5a" stroke-width="1" />
<text x="402.6" y="492.3" font-size="14.3" text-anchor="end" font-weight="normal" fill="#1e1e1e" >0.0</text>
<line x1="409.8" y1="444.46" x2="413.6" y2="444.46" stroke="#5a5a5a" stroke-width="1" />
<text x="402.6" y="449.76" font-size="14.3" text-anchor="end" font-weight="normal" fill="#1e1e1e" >0.2</text>
<line x1="409.8" y1="401.92" x2="413.6" y2="401.92" stroke="#5a5a5a" stroke-width="1" />
<text x="402.6" y="407.22" font-size="14.3" text-anchor="end" font-weight="normal" fill="#1e1e1e" >0.4</text>
<line x1="409.8" y1="359.38" x2="413.6" y2="359.38" stroke="#5a5a5a" stroke-width="1" />
<text x="402.6" y="364.68" font-size="14.3" text-anchor="end" font-weight="normal" fill="#1e1e1e" >0.6</text>
<line x1="409.8" y1="316.84" x2="413.6" y2="316.84" stroke="#5a5a5a" stroke-width="1" />
<text x="402.6" y="322.14" font-size="14.3" text-anchor="end" font-weight="normal" fill="#1e1e1e" >0.8</text>
<line x1="409.8" y1="274.3" x2="413.6" y2="274.3" stroke="#5a5a5a" stroke-width="1" />
<text x="402.6" y="279.6" font-size="14.3" text-anchor="end" font-weight="normal" fill="#1e1e1e" >1.0</text>
<line x1="413.6" y1="487" x2="413.6" y2="490.6" stroke="#5a5a5a" stroke-width="1" />
<line x1="445.98" y1="487" x2="445.98" y2="490.6" stroke="#5a5a5a" stroke-width="1" />
<text x="445.98" y="510.7" font-size="15.1" text-anchor="middle" font-weight="normal" fill="#1e1e1e" >400</text>
<line x1="478.35" y1="487" x2="478.35" y2="490.6" stroke="#5a5a5a" stroke-width="1" />
<line x1="510.73" y1="487" x2="510.73" y2="490.6" stroke="#5a5a5a" stroke-width="1" />
<text x="510.73" y="510.7" font-size="15.1" text-anchor="middle" font-weight="normal" fill="#1e1e1e" >500</text>
<line x1="543.1" y1="487" x2="543.1" y2="490.6" stroke="#5a5a5a" stroke-width="1" />
<line x1="575.48" y1="487" x2="575.48" y2="490.6" stroke="#5a5a5a" stroke-width="1" />
<text x="575.48" y="510.7" font-size="15.1" text-anchor="middle" font-weight="normal" fill="#1e1e1e" >600</text>
<line x1="607.85" y1="487" x2="607.85" y2="490.6" stroke="#5a5a5a" stroke-width="1" />
<line x1="640.23" y1="487" x2="640.23" y2="490.6" stroke="#5a5a5a" stroke-width="1" />
<text x="640.23" y="510.7" font-size="15.1" text-anchor="middle" font-weight="normal" fill="#1e1e1e" >700</text>
<line x1="672.6" y1="487" x2="672.6" y2="490.6" stroke="#5a5a5a" stroke-width="1" />
<text transform="translate(372.5,380.6) rotate(-90)" font-size="16" text-anchor="middle" fill="#1e1e1e">A</text>
<text x="543.4" y="537.6" font-size="15.2" text-anchor="middle" font-weight="normal" fill="#1e1e1e" >&#955; / nm</text>
<text transform="translate(358.3,300.3) scale(0.93,1)" font-size="26.5" font-weight="bold" fill="#000">d</text>
</svg>
</body></html>
